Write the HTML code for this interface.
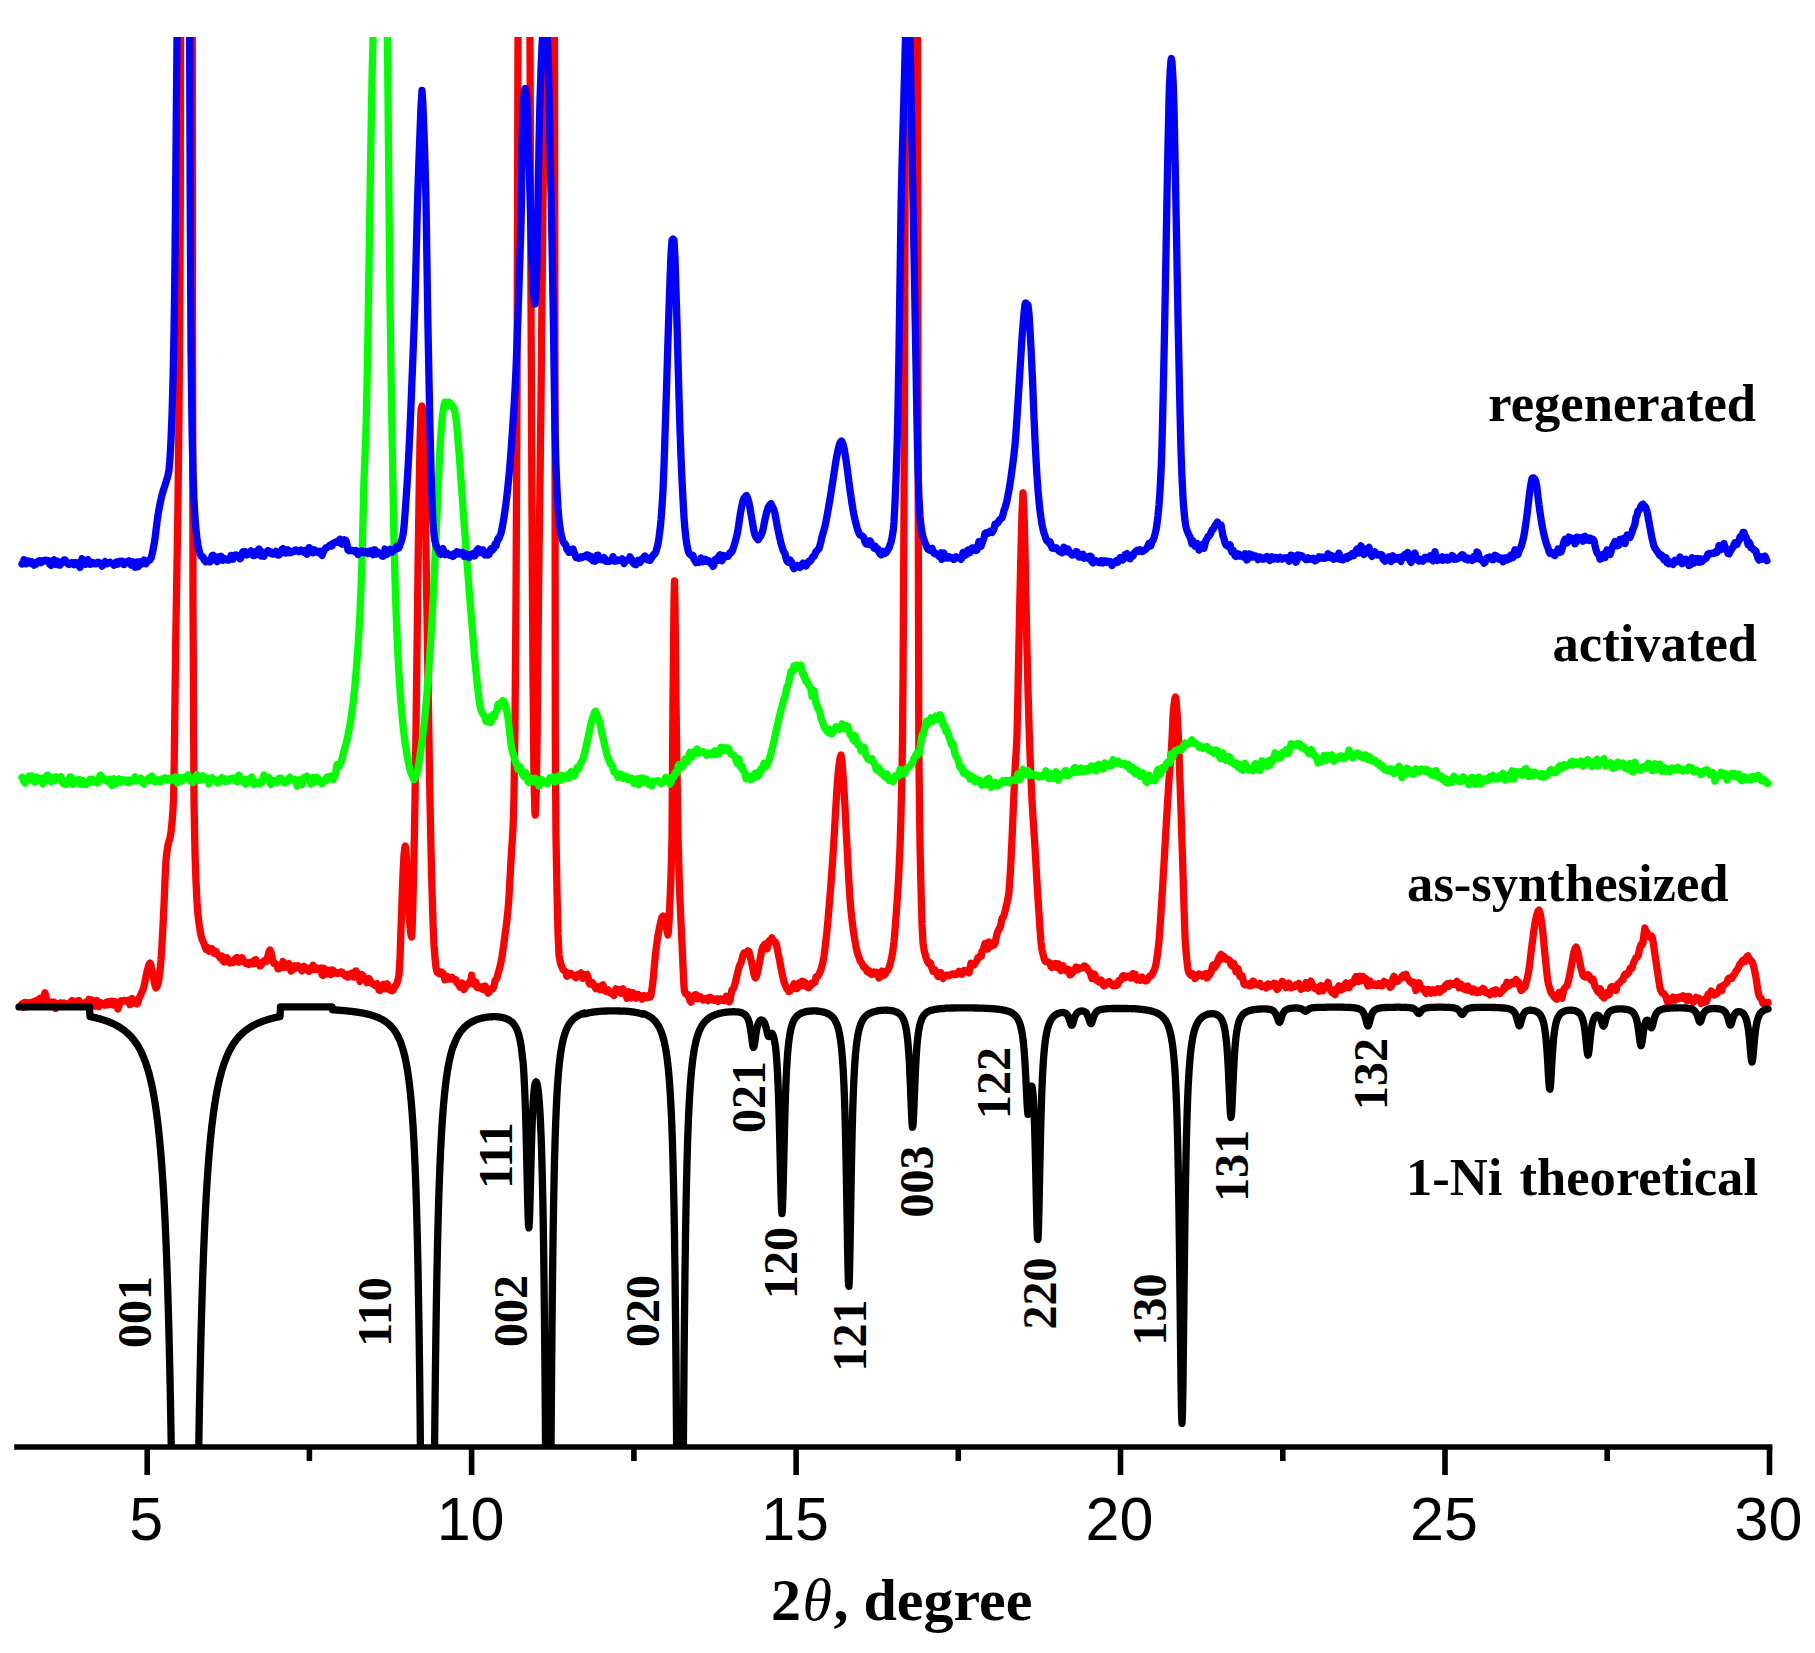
<!DOCTYPE html>
<html><head><meta charset="utf-8"><title>PXRD patterns</title>
<style>html,body{margin:0;padding:0;background:#fff}svg{display:block}
.s{font-family:"Liberation Serif",serif;font-weight:bold;fill:#000}
.a{font-family:"Liberation Sans",sans-serif;fill:#000}
.c{fill:none;stroke-linejoin:round;stroke-linecap:round}
</style></head><body>
<svg width="1815" height="1653" viewBox="0 0 1815 1653">
<rect width="1815" height="1653" fill="#fff"/>
<defs><clipPath id="cp"><rect x="0" y="37" width="1815" height="1410.0"/></clipPath></defs>
<g clip-path="url(#cp)">
<path class="c" stroke="#f00" stroke-width="7.3" d="M22.0 1003.7L23.0 1007.3L24.0 1007.3L25.0 1002.4L26.0 1003.1L27.0 1003.8L28.0 1002.9L29.0 1005.4L30.0 1004.3L31.0 1002.5L32.0 1002.2L33.0 1001.8L34.0 1003.3L35.0 1002.0L36.0 1000.9L37.0 1001.8L38.0 1001.2L39.0 999.6L40.0 998.3L41.0 999.0L42.0 999.1L43.0 1000.8L44.0 996.3L45.0 992.7L46.0 997.4L47.0 1000.8L48.0 1003.1L49.0 1001.6L50.0 1001.8L51.0 1004.0L52.0 1003.7L53.0 1004.2L54.0 1002.1L55.0 1003.6L56.0 1008.4L57.0 1005.5L58.0 1004.4L59.0 1004.9L60.0 1002.9L61.0 1002.9L62.0 1005.6L63.0 1004.9L64.0 1002.9L65.0 1003.3L66.0 1004.5L67.0 1006.4L68.0 1004.9L69.0 1003.7L70.0 1004.9L71.0 1001.5L72.0 1000.6L73.0 1003.0L74.0 1003.6L75.0 1004.2L76.0 1001.3L77.0 1000.9L78.0 1002.8L79.0 1000.6L80.0 1002.3L81.0 1005.4L82.0 1003.7L83.0 1003.8L84.0 1004.2L85.0 1003.0L86.0 1002.0L87.0 1004.1L88.0 1001.8L89.0 999.4L90.0 1004.2L91.0 1001.4L92.0 1000.1L93.0 1002.8L94.0 1004.2L95.0 1006.1L96.0 1004.3L97.0 1000.5L98.0 1003.0L99.0 1006.7L100.0 1004.1L101.0 1002.8L102.0 1004.0L103.0 1004.3L104.0 1004.0L105.0 1005.2L106.0 1002.4L107.0 1001.9L108.0 1004.9L109.0 1003.1L110.0 1004.2L111.0 1001.1L112.0 1001.1L113.0 1005.0L114.0 1001.7L115.0 1001.7L116.0 1002.9L117.0 1006.0L118.0 1009.0L119.0 1005.9L120.0 1002.2L121.0 1000.7L122.0 1001.3L123.0 1001.3L124.0 1000.4L125.0 1000.4L126.0 1001.2L127.0 1001.3L128.0 1000.6L129.0 1000.0L130.0 1004.6L131.0 1003.8L132.0 998.6L133.0 1001.3L134.0 1002.2L135.0 1002.1L136.0 1003.4L137.0 1003.9L138.0 1002.7L139.0 998.0L140.0 996.6L141.0 994.2L142.0 991.8L143.0 990.0L144.0 986.5L145.0 981.6L146.0 976.4L147.0 972.0L148.0 968.1L149.0 964.5L150.0 963.0L151.0 965.2L152.0 970.0L153.0 975.0L154.0 980.2L155.0 985.6L156.0 988.0L157.0 986.8L158.0 984.0L159.0 978.9L160.0 970.5L161.0 960.0L162.0 945.3L163.0 925.8L164.0 905.0L165.0 880.1L166.0 860.0L167.0 851.2L168.0 845.3L168.5 843.0L169.0 841.3L170.0 838.0L171.0 832.1L172.0 823.0L173.0 809.2L173.5 800.0L174.0 779.0L175.0 698.4L175.6 650.0L176.0 623.9L177.0 565.6L178.0 500.7L178.6 450.0L179.0 412.0L180.0 270.7L180.3 200.0L180.6 38.0L181.0 -50.0L182.0 -50.0L183.0 -50.0L184.0 -50.0L185.0 -50.0L186.0 -50.0L186.5 -50.0L187.0 -50.0L188.0 -50.0L189.0 -50.0L190.0 -50.0L191.0 -50.0L192.0 -50.0L192.3 38.0L192.5 300.0L193.0 600.0L194.0 800.0L195.0 853.3L195.7 874.0L196.0 881.5L197.0 902.0L198.0 915.0L199.0 923.2L200.0 930.0L201.0 935.3L202.0 939.4L203.0 941.5L204.0 943.5L205.0 946.4L206.0 949.2L207.0 947.2L208.0 947.8L209.0 951.2L210.0 949.5L211.0 949.1L212.0 948.7L213.0 950.0L214.0 953.0L215.0 951.2L216.0 951.3L217.0 954.2L218.0 955.1L219.0 955.7L220.0 957.8L221.0 956.7L222.0 956.0L223.0 960.7L224.0 961.8L225.0 957.9L226.0 958.1L227.0 957.7L228.0 959.5L228.7 962.2L229.0 962.2L230.0 963.1L231.0 962.4L232.0 962.7L233.0 962.6L234.0 960.5L235.0 958.9L236.0 959.4L237.0 957.5L238.0 960.9L239.0 962.2L240.0 959.6L241.0 960.3L242.0 957.7L243.0 959.6L244.0 962.1L245.0 962.1L246.0 963.4L247.0 962.8L248.0 962.6L249.0 964.3L250.0 963.3L251.0 962.1L252.0 963.4L253.0 963.8L254.0 963.3L255.0 959.8L256.0 959.6L257.0 963.5L258.0 963.1L259.0 963.0L260.0 965.9L261.0 965.4L262.0 963.6L263.0 962.2L264.0 960.8L265.0 961.4L266.0 961.6L267.0 960.0L268.0 955.9L269.0 951.8L270.0 950.0L271.0 952.1L272.0 956.8L273.0 961.6L274.0 963.5L275.0 963.7L276.0 963.9L277.0 965.9L278.0 968.9L279.0 968.7L280.0 966.5L281.0 967.8L282.0 966.4L283.0 961.5L284.0 964.3L285.0 967.3L286.0 966.9L287.0 967.1L288.0 965.1L289.0 963.5L290.0 967.7L291.0 970.9L292.0 968.2L293.0 969.6L294.0 969.2L295.0 965.7L296.0 967.7L297.0 966.9L298.0 965.9L299.0 967.4L300.0 967.6L301.0 969.2L302.0 970.8L303.0 968.0L304.0 966.3L305.0 968.3L306.0 969.3L307.0 968.0L308.0 968.9L309.0 971.3L310.0 969.9L311.0 969.9L312.0 968.6L313.0 965.3L314.0 968.4L315.0 969.6L316.0 967.6L317.0 968.5L318.0 969.0L319.0 970.0L320.0 969.0L321.0 968.0L322.0 974.7L323.0 975.5L324.0 968.3L325.0 969.1L326.0 972.7L327.0 973.9L328.0 973.4L329.0 970.6L330.0 972.5L331.0 974.5L332.0 970.0L333.0 970.1L334.0 972.5L335.0 973.1L336.0 973.0L337.0 972.6L338.0 973.5L339.0 973.3L340.0 973.1L341.0 971.8L342.0 972.0L343.0 973.6L344.0 974.3L345.0 975.8L346.0 975.9L347.0 974.7L348.0 977.2L349.0 976.5L350.0 974.4L351.0 973.6L352.0 973.1L353.0 976.4L354.0 977.0L355.0 976.9L355.8 975.1L356.0 971.0L357.0 973.2L358.0 973.5L359.0 977.2L360.0 981.4L361.0 976.2L362.0 974.6L363.0 976.1L364.0 977.4L365.0 978.7L366.0 980.0L367.0 982.7L368.0 981.7L369.0 978.5L370.0 980.2L371.0 982.2L372.0 983.6L373.0 984.1L374.0 984.2L375.0 985.4L376.0 984.3L377.0 983.6L378.0 985.3L379.0 989.9L380.0 990.4L381.0 986.8L382.0 986.7L383.0 987.2L383.7 984.3L384.0 984.6L385.0 988.7L386.0 987.8L387.0 983.9L388.0 985.1L389.0 989.3L390.0 990.0L391.0 988.8L392.0 990.8L393.0 990.5L394.0 988.0L395.0 986.3L396.0 985.2L397.0 983.1L398.0 979.6L399.0 975.0L400.0 958.5L401.0 928.8L402.0 900.0L403.0 874.2L404.0 855.0L405.0 846.7L405.3 846.0L406.0 851.9L407.0 870.0L408.0 893.7L409.0 915.0L410.0 926.7L411.0 935.0L411.7 937.0L412.0 933.9L413.0 900.0L414.0 856.1L415.0 800.0L416.0 728.8L417.0 650.0L418.0 570.3L419.0 500.0L420.0 442.6L421.0 410.0L422.0 406.0L423.0 410.4L423.5 415.0L424.0 428.9L425.0 488.4L425.5 520.0L426.0 550.1L427.0 615.2L428.0 680.0L429.0 742.6L430.0 800.0L431.0 849.3L432.0 890.0L433.0 922.5L434.0 945.0L435.0 958.0L436.0 967.6L437.0 972.0L438.0 972.9L439.0 973.7L440.0 971.9L441.0 971.9L442.0 973.0L443.0 973.1L444.0 975.5L445.0 979.8L446.0 979.1L447.0 976.2L448.0 978.0L449.0 979.2L450.0 979.0L451.0 977.8L452.0 977.3L453.0 979.2L454.0 979.5L455.0 979.4L456.0 979.8L457.0 983.0L458.0 983.3L459.0 985.1L460.0 987.1L461.0 983.4L462.0 983.1L463.0 986.1L464.0 989.5L465.0 987.3L466.0 985.7L467.0 985.4L468.0 983.4L469.0 982.9L470.0 983.3L471.0 979.5L471.7 975.1L472.0 978.2L473.0 982.1L474.0 984.3L475.0 983.5L476.0 982.1L477.0 987.5L478.0 987.6L479.0 986.5L480.0 987.9L481.0 987.3L482.0 986.9L483.0 989.6L484.0 989.3L485.0 986.1L486.0 987.8L487.0 991.3L488.0 993.1L489.0 992.1L490.0 990.9L491.0 989.1L492.0 988.4L493.0 988.6L494.0 986.4L495.0 980.6L496.0 979.6L497.0 977.9L498.0 973.8L499.0 970.5L500.0 966.5L500.8 963.0L501.0 962.1L502.0 956.6L503.0 950.0L504.0 942.6L505.0 935.0L506.0 927.4L507.0 919.2L508.0 909.5L508.4 905.0L509.0 896.6L510.0 878.7L511.0 860.0L512.0 845.1L513.0 828.4L513.5 816.0L514.0 794.7L514.8 740.0L515.0 722.9L516.0 600.0L517.0 400.0L518.0 38.0L519.0 -50.0L520.0 -50.0L521.0 -50.0L522.0 -50.0L523.0 -50.0L524.0 -50.0L525.0 -50.0L526.0 -50.0L527.0 -50.0L528.0 -50.0L529.0 -50.0L530.0 38.0L531.0 300.0L532.0 514.3L532.5 600.0L533.0 674.9L534.0 780.0L535.0 813.7L535.2 815.0L536.0 799.1L536.5 780.0L537.0 748.6L538.0 648.3L538.5 600.0L539.0 559.2L540.0 482.2L541.0 400.0L542.0 300.1L543.0 200.0L544.0 126.7L545.0 38.0L546.0 -50.0L547.0 -50.0L548.0 -50.0L549.0 -50.0L549.7 -50.0L550.0 -50.0L551.0 -50.0L552.0 -50.0L553.0 -50.0L554.0 -50.0L554.5 38.0L555.0 400.0L555.3 740.0L556.0 838.2L557.0 892.0L558.0 933.4L559.0 955.0L560.0 961.0L561.0 964.7L562.0 967.0L563.0 969.6L564.0 970.4L565.0 971.3L566.0 972.0L566.7 975.8L567.0 976.1L568.0 973.7L569.0 975.2L570.0 973.6L571.0 973.4L572.0 974.3L573.0 974.9L574.0 975.9L575.0 976.8L576.0 977.7L577.0 976.2L578.0 974.5L579.0 974.5L580.0 974.3L581.0 972.9L582.0 975.4L583.0 978.2L584.0 977.5L585.0 975.9L586.0 974.7L587.0 974.3L588.0 977.1L589.0 982.4L590.0 984.2L591.0 984.0L592.0 982.4L593.0 983.2L594.0 985.4L595.0 987.1L596.0 988.7L597.0 987.7L598.0 986.9L599.0 988.6L600.0 989.7L601.0 988.7L602.0 985.3L603.0 984.9L604.0 989.4L605.0 990.9L606.0 991.3L607.0 990.8L608.0 989.8L609.0 991.7L610.0 992.8L611.0 992.4L612.0 993.2L613.0 994.7L614.0 995.4L615.0 991.3L616.0 988.8L617.0 990.8L618.0 991.2L619.0 989.5L620.0 992.1L621.0 993.2L622.0 991.6L622.5 989.7L623.0 988.9L624.0 992.2L625.0 991.8L626.0 993.4L627.0 998.3L628.0 996.2L629.0 991.7L630.0 995.7L631.0 997.9L632.0 995.2L633.0 992.7L634.0 994.4L635.0 996.7L636.0 998.1L637.0 996.7L638.0 994.4L639.0 995.4L640.0 995.4L641.0 997.5L642.0 999.2L643.0 996.9L644.0 995.6L645.0 996.3L646.0 997.8L647.0 997.7L648.0 995.8L649.0 996.1L650.0 996.9L650.3 997.0L651.0 995.2L652.0 988.7L652.5 985.0L653.0 980.8L654.0 969.9L655.0 958.7L655.4 955.0L656.0 950.1L657.0 942.3L658.0 935.5L659.0 930.0L660.0 925.2L661.0 920.7L662.0 917.3L663.0 916.0L664.0 917.5L665.0 921.0L666.0 925.0L667.0 931.0L668.0 935.0L669.0 923.1L670.0 900.0L671.0 876.3L671.9 841.0L672.0 834.2L673.0 700.0L674.0 600.8L674.5 581.0L675.0 603.9L676.0 700.0L677.0 771.5L678.0 831.8L678.2 841.0L679.0 871.1L680.0 900.0L681.0 922.9L682.0 943.0L683.0 966.4L684.0 986.6L684.5 991.0L685.0 992.5L686.0 994.4L687.0 994.5L688.0 994.7L689.0 997.0L690.0 1000.7L691.0 1002.1L692.0 999.0L693.0 998.3L693.4 999.0L694.0 998.0L695.0 994.6L696.0 994.6L697.0 997.4L698.0 998.7L699.0 998.1L700.0 996.6L701.0 997.4L702.0 998.8L703.0 1000.1L704.0 999.7L705.0 999.6L706.0 998.6L707.0 999.2L708.0 1000.6L709.0 997.5L710.0 997.3L711.0 999.4L712.0 998.3L713.0 999.2L714.0 1000.3L715.0 999.9L716.0 999.0L717.0 998.8L718.0 1001.3L719.0 1000.3L720.0 999.0L721.0 998.8L722.0 999.6L723.0 1000.4L724.0 1000.7L725.0 1000.6L726.0 998.0L726.4 996.2L727.0 997.3L728.0 999.1L729.0 1001.8L730.0 1000.7L731.0 994.5L732.0 989.9L733.0 989.1L734.0 987.4L735.0 983.7L736.0 979.7L737.0 975.4L738.0 971.4L739.0 967.3L740.0 964.4L741.0 962.9L742.0 959.1L743.0 955.1L744.0 953.0L745.0 954.2L746.0 953.2L747.0 951.9L748.0 950.9L749.0 951.6L750.0 955.5L751.0 960.0L751.5 962.0L752.0 964.1L753.0 969.2L754.0 974.2L755.0 977.5L755.5 978.0L756.0 977.5L757.0 974.4L758.0 969.7L759.0 965.0L760.0 960.0L761.0 954.2L762.0 949.2L763.0 946.5L764.0 945.3L765.0 944.0L766.0 947.2L767.0 948.8L768.0 944.6L769.0 941.0L770.0 940.3L771.0 940.0L772.0 937.9L773.0 940.4L774.0 942.2L775.0 941.7L776.0 943.3L777.0 947.5L778.0 952.6L778.5 955.0L779.0 957.3L780.0 962.6L781.0 968.0L782.0 973.0L783.0 977.6L784.0 981.8L785.0 984.6L786.0 986.9L787.0 989.0L788.0 988.3L788.5 988.8L789.0 991.6L790.0 991.1L791.0 988.1L792.0 988.0L793.0 986.9L794.0 983.8L795.0 986.9L796.0 988.7L797.0 988.6L798.0 985.2L799.0 983.0L800.0 984.1L801.0 985.9L802.0 985.6L802.4 981.1L803.0 982.0L804.0 983.3L805.0 982.7L806.0 984.5L807.0 986.9L808.0 987.6L809.0 987.7L810.0 985.6L811.0 983.6L812.0 984.5L813.0 982.8L814.0 982.6L815.0 982.2L816.0 976.9L817.0 976.7L818.0 976.1L819.0 974.2L820.0 972.0L821.0 969.4L822.0 965.8L822.7 963.0L823.0 961.8L824.0 956.0L825.0 948.3L826.0 939.5L826.5 935.0L827.0 930.3L828.0 919.8L829.0 908.1L830.0 895.7L830.3 892.0L831.0 883.1L832.0 869.6L833.0 855.0L834.0 838.4L835.0 820.9L835.3 816.0L836.0 804.3L837.0 787.7L838.0 775.0L839.0 765.7L840.0 758.1L841.0 755.0L842.0 760.9L843.0 774.5L844.0 790.0L845.0 807.4L846.0 827.6L846.7 841.0L847.0 846.4L848.0 865.1L849.0 883.1L850.0 898.7L850.5 905.0L851.0 910.4L852.0 920.0L853.0 928.1L854.0 935.0L855.0 941.1L856.0 946.7L857.0 951.4L858.0 955.0L859.0 957.4L860.0 960.4L861.0 961.9L862.0 963.4L863.0 965.9L864.0 967.4L865.0 967.2L866.0 968.6L867.0 971.4L868.0 972.2L869.0 970.7L870.0 972.5L870.8 973.8L871.0 973.5L872.0 974.4L873.0 972.9L874.0 971.9L875.0 972.4L876.0 974.2L877.0 972.4L878.0 973.3L879.0 978.0L880.0 976.9L881.0 973.4L882.0 971.1L883.0 972.6L883.5 975.4L884.0 974.9L885.0 974.7L886.0 972.7L887.0 970.7L888.0 970.0L889.0 967.9L890.0 964.7L891.0 960.7L892.0 955.7L893.0 950.0L894.0 941.6L895.0 929.9L896.0 917.0L897.0 903.6L898.0 888.3L899.0 870.0L900.0 846.9L901.0 816.0L902.0 772.8L902.5 740.0L903.0 681.0L903.5 600.0L904.0 511.6L904.5 400.0L905.0 225.9L905.5 38.0L906.0 -50.0L907.0 -50.0L908.0 -50.0L909.0 -50.0L910.0 -50.0L911.0 -50.0L911.5 -50.0L912.0 -50.0L913.0 -50.0L914.0 -50.0L915.0 -50.0L916.0 -50.0L917.0 -50.0L917.5 38.0L918.0 400.0L918.8 740.0L919.0 765.5L920.0 843.8L920.5 867.0L921.0 888.5L922.0 923.9L923.0 943.0L924.0 949.7L925.0 954.0L926.0 957.6L927.0 960.3L928.0 962.4L929.0 963.7L930.0 962.5L930.7 963.7L931.0 965.3L932.0 968.4L933.0 971.2L934.0 970.5L935.0 970.0L936.0 971.9L937.0 973.7L938.0 976.6L939.0 976.5L940.0 976.7L940.8 975.5L941.0 972.7L942.0 977.1L943.0 978.5L944.0 976.2L945.0 976.4L946.0 975.9L947.0 975.0L948.0 975.5L949.0 975.6L950.0 975.6L951.0 974.3L952.0 974.2L953.0 973.8L954.0 973.9L955.0 974.5L956.0 973.9L957.0 974.3L958.0 972.7L959.0 971.3L960.0 971.8L961.0 972.9L962.0 974.1L963.0 973.1L964.0 970.4L965.0 970.4L966.0 970.9L967.0 971.0L968.0 972.0L969.0 972.9L970.0 967.8L971.0 963.3L972.0 964.4L973.0 965.1L974.0 965.1L975.0 963.0L976.0 962.1L977.0 960.3L978.0 957.6L979.0 957.8L980.0 955.7L981.0 956.2L981.4 956.0L982.0 951.2L983.0 950.6L984.0 947.0L985.0 943.4L986.0 943.8L987.0 944.8L987.7 949.1L988.0 947.6L989.0 942.0L990.0 943.0L991.0 946.3L992.0 944.3L993.0 942.9L994.0 945.1L995.0 943.6L996.0 938.4L996.6 935.7L997.0 933.7L998.0 930.9L999.0 928.9L1000.0 928.1L1001.0 923.8L1002.0 918.5L1003.0 917.4L1004.0 915.2L1005.0 911.4L1006.0 907.4L1007.0 903.0L1008.0 898.4L1009.0 892.0L1010.0 878.6L1011.0 860.0L1012.0 839.0L1013.0 816.0L1014.0 792.2L1015.0 770.0L1016.0 754.6L1016.8 740.0L1017.0 734.4L1018.0 690.7L1019.0 640.0L1020.0 592.4L1021.0 550.0L1022.0 512.8L1023.0 493.0L1024.0 512.4L1025.0 550.0L1026.0 598.5L1027.0 650.0L1028.0 689.9L1029.0 724.8L1029.5 740.0L1030.0 753.9L1031.0 778.9L1032.0 800.0L1033.0 816.9L1034.0 831.7L1034.6 841.0L1035.0 847.6L1036.0 865.1L1037.0 882.6L1038.0 899.0L1038.4 905.0L1039.0 913.9L1040.0 929.1L1041.0 942.1L1042.0 950.0L1043.0 954.1L1044.0 958.2L1045.0 961.0L1046.0 961.7L1047.0 961.7L1048.0 961.8L1049.0 962.5L1050.0 963.0L1051.0 966.7L1052.0 967.4L1053.0 964.3L1054.0 964.9L1055.0 963.6L1056.0 964.4L1057.0 967.5L1057.4 964.4L1058.0 963.7L1059.0 964.3L1060.0 968.1L1061.0 970.7L1062.0 967.0L1063.0 965.8L1064.0 968.0L1065.0 968.7L1066.0 969.4L1067.0 971.2L1068.0 969.3L1069.0 970.1L1070.0 974.8L1071.0 974.7L1072.0 973.3L1072.6 972.1L1073.0 970.5L1074.0 971.4L1075.0 970.4L1076.0 967.1L1077.0 968.8L1078.0 969.5L1079.0 967.9L1080.0 968.4L1081.0 968.1L1082.0 968.1L1083.0 967.7L1084.0 966.0L1085.0 966.2L1086.0 966.9L1087.0 968.0L1088.0 969.8L1089.0 971.2L1090.0 972.3L1091.0 975.6L1092.0 978.5L1093.0 976.4L1094.0 974.1L1095.0 974.8L1096.0 979.9L1097.0 980.6L1098.0 980.8L1099.0 982.0L1100.0 980.6L1101.0 980.0L1102.0 981.3L1103.0 984.7L1104.0 985.8L1105.0 985.4L1106.0 983.1L1107.0 982.8L1108.0 982.8L1109.0 981.6L1110.0 983.8L1110.6 983.5L1111.0 983.7L1112.0 984.7L1113.0 985.8L1114.0 985.8L1115.0 984.2L1116.0 985.5L1117.0 985.2L1118.0 984.3L1119.0 980.5L1120.0 980.4L1121.0 980.1L1122.0 977.3L1123.0 975.6L1124.0 975.6L1125.0 977.7L1126.0 977.3L1127.0 976.5L1128.0 976.2L1129.0 976.2L1130.0 975.9L1131.0 977.9L1132.0 974.9L1133.0 973.6L1133.4 976.4L1134.0 974.3L1135.0 974.1L1136.0 978.5L1137.0 980.0L1138.0 977.6L1139.0 978.5L1140.0 980.3L1141.0 977.8L1142.0 977.2L1143.0 979.3L1144.0 980.1L1145.0 980.9L1146.0 980.9L1147.0 980.2L1148.0 978.7L1149.0 977.0L1150.0 975.8L1151.0 975.8L1152.0 974.8L1153.0 972.4L1154.0 970.7L1155.0 968.0L1156.0 963.8L1157.0 957.7L1158.0 950.0L1158.8 943.0L1159.0 941.0L1160.0 928.3L1161.0 912.8L1161.5 905.0L1162.0 897.2L1163.0 880.6L1163.8 867.0L1164.0 863.6L1165.0 846.1L1166.0 828.5L1166.5 820.0L1167.0 811.6L1168.0 795.1L1169.0 780.0L1170.0 767.6L1171.0 755.7L1171.4 750.0L1172.0 738.6L1173.0 717.1L1173.5 710.0L1174.0 705.3L1175.0 698.1L1175.5 697.0L1176.0 699.1L1177.0 712.1L1177.5 720.0L1178.0 729.1L1179.0 753.4L1180.0 781.6L1180.3 790.0L1181.0 810.5L1182.0 842.1L1182.8 867.0L1183.0 873.2L1184.0 907.1L1185.0 935.9L1185.4 943.0L1186.0 950.7L1187.0 961.7L1188.0 969.5L1189.0 973.0L1190.0 974.3L1191.0 975.6L1192.0 975.7L1193.0 973.9L1194.0 975.5L1195.0 978.5L1196.0 977.5L1196.8 976.6L1197.0 976.5L1198.0 976.0L1199.0 974.0L1200.0 974.4L1201.0 975.7L1202.0 976.1L1203.0 975.9L1204.0 975.5L1205.0 973.9L1206.0 973.7L1207.0 977.9L1208.0 976.6L1209.0 974.0L1209.4 975.2L1210.0 974.3L1211.0 972.3L1212.0 968.1L1213.0 964.9L1214.0 967.6L1215.0 967.5L1216.0 963.9L1217.0 964.3L1218.0 959.8L1219.0 957.3L1219.6 960.5L1220.0 956.2L1221.0 954.4L1222.0 957.8L1223.0 957.9L1224.0 956.3L1225.0 958.4L1226.0 959.4L1227.0 959.0L1228.0 959.4L1229.0 959.8L1230.0 961.1L1231.0 964.9L1232.0 966.0L1233.0 962.9L1234.0 963.9L1235.0 966.5L1236.0 971.9L1237.0 970.7L1238.0 968.5L1239.0 973.0L1240.0 976.6L1241.0 977.2L1242.0 975.6L1243.0 979.6L1244.0 984.0L1245.0 984.8L1246.0 984.8L1247.0 984.4L1248.0 985.1L1249.0 985.6L1250.0 983.6L1251.0 985.7L1252.0 985.3L1253.0 981.1L1254.0 981.8L1255.0 984.0L1256.0 984.6L1257.0 984.4L1258.0 985.1L1259.0 985.1L1260.0 983.3L1261.0 985.8L1262.0 986.8L1263.0 986.3L1264.0 986.8L1265.0 986.0L1266.0 987.9L1267.0 984.6L1268.0 984.0L1269.0 986.7L1270.0 986.3L1271.0 985.6L1272.0 984.4L1273.0 984.8L1274.0 983.2L1275.0 983.3L1276.0 987.5L1277.0 989.4L1278.0 988.8L1279.0 986.7L1280.0 984.4L1281.0 984.1L1282.0 981.4L1283.0 981.7L1284.0 983.7L1285.0 985.3L1286.0 987.7L1287.0 987.1L1288.0 984.6L1289.0 983.2L1290.0 986.4L1291.0 987.8L1292.0 987.4L1293.0 986.4L1294.0 986.4L1295.0 986.6L1296.0 984.7L1297.0 985.6L1298.0 985.4L1299.0 983.4L1300.0 986.5L1301.0 989.3L1302.0 986.7L1303.0 985.8L1304.0 988.2L1305.0 987.6L1306.0 982.6L1307.0 986.7L1308.0 988.2L1309.0 984.4L1310.0 983.5L1311.0 981.1L1312.0 984.8L1313.0 986.2L1314.0 986.8L1315.0 988.5L1316.0 987.5L1317.0 988.7L1318.0 990.0L1319.0 991.2L1320.0 988.4L1321.0 985.5L1322.0 988.5L1323.0 990.8L1324.0 989.1L1325.0 986.3L1326.0 987.2L1327.0 984.8L1328.0 982.4L1329.0 988.4L1330.0 989.0L1331.0 990.4L1332.0 992.5L1333.0 990.0L1334.0 993.7L1335.0 994.7L1336.0 990.4L1337.0 988.3L1338.0 987.9L1339.0 985.7L1340.0 987.2L1341.0 990.1L1342.0 988.3L1343.0 989.1L1344.0 988.7L1345.0 984.3L1346.0 982.9L1347.0 984.5L1348.0 985.7L1349.0 987.6L1350.0 985.7L1351.0 982.8L1352.0 984.0L1353.0 983.3L1354.0 981.5L1355.0 978.3L1356.0 976.7L1357.0 981.0L1358.0 981.5L1359.0 978.1L1359.6 976.2L1360.0 976.6L1361.0 980.9L1362.0 980.0L1363.0 976.6L1364.0 977.9L1365.0 979.1L1366.0 978.8L1367.0 983.3L1368.0 986.1L1369.0 981.6L1370.0 981.0L1371.0 984.9L1372.0 985.0L1373.0 985.2L1374.0 984.3L1375.0 983.9L1376.0 985.5L1377.0 985.5L1378.0 985.4L1379.0 983.6L1380.0 984.2L1381.0 985.7L1382.0 985.9L1383.0 983.2L1384.0 981.4L1385.0 982.9L1386.0 983.0L1387.0 982.6L1388.0 983.0L1389.0 985.2L1390.0 987.3L1391.0 986.9L1392.0 984.9L1393.0 978.4L1394.0 976.4L1395.0 981.6L1396.0 980.9L1397.0 981.3L1398.0 981.1L1399.0 979.1L1400.0 978.8L1401.0 978.4L1402.0 976.5L1403.0 975.4L1404.0 976.1L1405.0 975.1L1406.0 974.3L1407.0 977.8L1408.0 979.2L1409.0 979.6L1410.0 981.8L1411.0 982.3L1412.0 983.3L1413.0 983.3L1414.0 982.3L1415.0 986.7L1416.0 990.5L1417.0 988.7L1418.0 984.6L1419.0 982.8L1420.0 985.5L1421.0 987.3L1422.0 987.9L1423.0 989.1L1424.0 990.7L1425.0 991.5L1426.0 993.4L1427.0 991.5L1428.0 989.4L1429.0 989.6L1430.0 991.9L1431.0 993.2L1432.0 991.5L1433.0 989.9L1434.0 991.0L1435.0 992.6L1436.0 992.1L1437.0 991.3L1438.0 988.7L1439.0 990.6L1440.0 992.2L1441.0 990.2L1442.0 988.6L1443.0 989.6L1444.0 989.0L1445.0 985.8L1446.0 985.2L1447.0 983.8L1448.0 985.7L1449.0 986.2L1450.0 983.2L1451.0 983.4L1452.0 984.2L1453.0 984.3L1454.0 983.9L1455.0 984.2L1456.0 982.8L1457.0 981.3L1458.0 984.9L1459.0 987.7L1460.0 984.5L1461.0 984.2L1462.0 987.1L1463.0 988.6L1464.0 987.6L1465.0 986.9L1466.0 990.0L1467.0 987.9L1468.0 986.1L1469.0 989.8L1470.0 990.7L1471.0 990.9L1472.0 991.8L1473.0 988.9L1474.0 989.1L1475.0 991.9L1476.0 991.3L1477.0 992.6L1478.0 991.8L1479.0 990.5L1480.0 992.2L1481.0 991.4L1482.0 990.0L1483.0 988.4L1484.0 988.9L1485.0 991.6L1486.0 992.6L1486.5 992.7L1487.0 993.2L1488.0 992.7L1489.0 993.2L1490.0 994.9L1491.0 992.3L1492.0 991.2L1493.0 990.7L1494.0 993.1L1495.0 993.8L1496.0 989.8L1497.0 991.9L1498.0 992.7L1499.0 992.3L1500.0 993.3L1501.0 991.1L1502.0 991.5L1503.0 990.5L1504.0 986.9L1505.0 988.6L1506.0 985.1L1507.0 982.3L1508.0 984.6L1509.0 985.8L1510.0 984.3L1511.0 983.5L1512.0 982.2L1513.0 981.7L1514.0 983.8L1515.0 981.3L1516.0 979.7L1517.0 980.6L1518.0 981.7L1519.0 982.9L1520.0 987.2L1521.0 990.3L1522.0 990.1L1523.0 988.6L1524.0 987.9L1525.0 986.9L1526.0 983.3L1527.0 979.3L1528.0 975.0L1529.0 969.2L1530.0 961.4L1531.0 952.9L1532.0 945.0L1533.0 937.5L1534.0 929.8L1535.0 923.0L1536.0 918.0L1537.0 914.3L1538.0 911.2L1539.0 910.0L1540.0 912.4L1541.0 918.1L1542.0 925.0L1543.0 933.7L1544.0 944.6L1545.0 955.0L1546.0 964.8L1547.0 974.4L1548.0 981.9L1548.4 983.8L1549.0 986.0L1550.0 989.3L1551.0 992.4L1552.0 993.8L1553.0 994.9L1554.0 996.8L1555.0 997.9L1556.0 998.9L1557.0 999.2L1558.0 995.6L1559.0 992.6L1560.0 992.9L1561.0 996.8L1562.0 998.2L1563.0 993.4L1564.0 988.8L1565.0 987.6L1566.0 986.7L1567.0 985.8L1567.6 984.0L1568.0 982.6L1569.0 978.4L1570.0 973.2L1571.0 968.0L1572.0 962.4L1573.0 956.5L1574.0 952.0L1575.0 948.7L1576.0 947.0L1577.0 949.1L1578.0 953.0L1579.0 957.7L1580.0 963.3L1581.0 968.0L1582.0 971.8L1583.0 975.2L1584.0 976.5L1585.0 977.0L1586.0 976.6L1587.0 975.7L1588.0 974.7L1589.0 975.5L1589.7 978.2L1590.0 978.8L1591.0 979.7L1592.0 980.9L1593.0 979.0L1594.0 982.8L1595.0 986.6L1596.0 987.9L1597.0 990.5L1598.0 991.7L1599.0 992.7L1600.0 988.6L1601.0 990.4L1602.0 996.1L1603.0 996.7L1604.0 997.9L1604.5 997.4L1605.0 997.0L1606.0 994.1L1607.0 992.7L1608.0 995.0L1609.0 994.9L1610.0 991.6L1611.0 987.0L1612.0 986.5L1613.0 988.3L1614.0 988.7L1615.0 990.0L1616.0 990.4L1617.0 986.0L1618.0 984.0L1619.0 983.4L1620.0 982.5L1621.0 981.1L1622.0 980.6L1623.0 979.7L1624.0 976.1L1625.0 974.3L1626.0 974.7L1627.0 974.7L1628.0 972.7L1629.0 972.0L1630.0 968.4L1631.0 967.8L1632.0 968.2L1633.0 964.4L1634.0 961.9L1635.0 959.8L1636.0 957.6L1637.0 957.6L1638.0 956.1L1639.0 951.6L1640.0 947.2L1641.0 944.5L1642.0 945.2L1643.0 942.4L1644.0 933.8L1645.0 928.0L1645.7 931.4L1646.0 932.8L1647.0 932.3L1648.0 935.3L1649.0 935.9L1650.0 937.2L1651.0 936.4L1651.7 936.0L1652.0 936.5L1653.0 941.0L1654.0 948.0L1655.0 955.0L1656.0 961.5L1657.0 968.4L1658.0 975.0L1659.0 981.9L1660.0 988.0L1660.5 989.7L1661.0 990.5L1662.0 992.8L1663.0 993.5L1664.0 993.8L1665.0 995.1L1666.0 996.8L1667.0 1000.5L1668.0 1003.2L1669.0 1003.2L1670.0 1001.8L1671.0 1000.9L1672.0 998.5L1673.0 997.1L1674.0 1000.0L1675.0 1000.3L1676.0 997.6L1677.0 997.6L1678.0 998.8L1679.0 998.2L1680.0 997.0L1681.0 997.5L1682.0 998.0L1683.0 995.8L1684.0 996.0L1685.0 997.9L1686.0 999.9L1687.0 1000.8L1688.0 996.4L1689.0 996.3L1690.0 999.8L1691.0 999.1L1692.0 1000.4L1693.0 1002.3L1694.0 1001.4L1695.0 999.0L1696.0 997.4L1697.0 998.0L1698.0 999.5L1699.0 998.3L1700.0 1000.3L1701.0 1003.5L1701.8 1002.3L1702.0 1002.8L1703.0 1002.8L1704.0 999.3L1705.0 998.9L1706.0 1001.9L1707.0 999.8L1708.0 994.5L1709.0 995.6L1710.0 994.4L1711.0 990.9L1712.0 993.3L1713.0 993.6L1714.0 995.0L1715.0 994.9L1716.0 992.7L1717.0 993.6L1718.0 992.1L1719.0 990.5L1720.0 987.1L1721.0 988.5L1722.0 990.5L1722.5 986.8L1723.0 985.3L1724.0 985.2L1725.0 984.4L1726.0 983.5L1727.0 982.5L1728.0 979.2L1729.0 978.0L1730.0 977.8L1731.0 978.3L1732.0 978.4L1733.0 975.8L1734.0 974.7L1735.0 973.1L1736.0 971.1L1737.0 970.0L1738.0 968.8L1739.0 966.2L1740.0 963.8L1741.0 963.7L1742.0 961.3L1743.0 960.3L1744.0 960.9L1745.0 961.5L1746.0 959.7L1747.0 956.4L1748.0 955.8L1749.0 958.9L1750.0 960.6L1751.0 960.5L1752.0 961.8L1753.0 964.0L1754.0 967.9L1755.0 972.6L1755.5 975.0L1756.0 977.7L1757.0 984.5L1758.0 991.3L1759.0 995.6L1760.0 997.4L1761.0 998.3L1762.0 1000.4L1763.0 1003.6L1764.0 1003.9L1765.0 1002.4L1766.0 1003.4L1767.0 1002.8L1768.0 1002.3"/>
<path class="c" stroke="#0f0" stroke-width="7.3" d="M22.0 777.4L23.0 778.5L24.0 781.7L25.0 783.0L26.0 781.8L27.0 778.7L28.0 777.9L29.0 776.2L30.0 778.5L31.0 779.2L32.0 776.0L33.0 777.4L34.0 781.4L35.0 782.1L36.0 778.4L37.0 777.1L38.0 779.5L39.0 780.4L40.0 778.4L41.0 778.3L42.0 780.6L43.0 783.9L44.0 781.0L45.0 777.2L46.0 777.9L47.0 775.2L48.0 775.1L49.0 777.2L50.0 780.3L51.0 781.6L52.0 777.6L53.0 778.8L54.0 780.7L55.0 777.2L56.0 776.8L57.0 778.6L58.0 778.2L59.0 779.1L60.0 777.1L61.0 776.7L62.0 781.6L63.0 783.3L64.0 783.4L65.0 783.9L66.0 784.4L67.0 781.1L68.0 780.2L69.0 779.1L70.0 777.0L71.0 776.9L72.0 779.4L73.0 784.3L74.0 782.4L75.0 783.1L76.0 782.4L77.0 780.0L78.0 781.3L79.0 779.5L80.0 779.9L81.0 784.4L82.0 782.2L83.0 780.7L84.0 782.0L85.0 783.3L86.0 784.3L87.0 782.7L88.0 782.9L89.0 782.3L90.0 779.3L91.0 781.0L92.0 781.0L93.0 779.3L94.0 782.3L95.0 780.7L96.0 780.0L97.0 782.9L98.0 782.7L99.0 779.6L100.0 775.4L101.0 775.2L102.0 778.7L103.0 779.4L104.0 778.8L105.0 780.1L106.0 780.7L107.0 780.0L108.0 781.8L109.0 780.7L110.0 779.2L111.0 783.7L112.0 785.4L113.0 780.3L114.0 778.9L115.0 781.6L116.0 783.5L117.0 782.9L118.0 780.3L119.0 778.9L120.0 780.7L121.0 782.2L122.0 780.5L123.0 779.7L124.0 779.8L125.0 781.1L126.0 780.7L127.0 780.3L128.0 782.6L129.0 782.6L130.0 780.1L131.0 781.3L132.0 781.5L133.0 780.1L134.0 780.0L135.0 776.7L136.0 778.2L137.0 781.1L138.0 780.7L139.0 780.6L140.0 779.7L141.0 778.2L142.0 778.9L143.0 782.8L144.0 784.2L145.0 780.6L146.0 780.2L147.0 780.2L148.0 778.7L149.0 780.6L150.0 780.5L151.0 776.7L152.0 776.1L153.0 778.7L154.0 780.2L155.0 781.9L156.0 780.6L157.0 779.8L158.0 781.5L159.0 780.1L160.0 780.7L161.0 781.6L162.0 779.1L163.0 779.9L164.0 779.4L165.0 777.8L166.0 779.6L167.0 780.1L168.0 779.0L169.0 778.3L170.0 779.2L171.0 780.7L172.0 779.7L173.0 778.3L174.0 779.1L175.0 777.0L176.0 781.3L177.0 783.1L178.0 776.9L179.0 779.1L180.0 779.7L181.0 778.2L182.0 781.0L183.0 779.5L184.0 777.5L185.0 777.7L186.0 778.1L187.0 776.5L188.0 774.8L189.0 777.0L190.0 780.4L191.0 781.5L192.0 782.5L193.0 782.6L194.0 779.3L195.0 778.1L196.0 775.8L197.0 774.6L198.0 776.1L199.0 777.9L200.0 780.4L201.0 779.1L202.0 777.3L203.0 775.8L204.0 776.5L205.0 779.2L206.0 780.0L207.0 778.5L208.0 780.8L209.0 783.7L210.0 780.6L211.0 778.1L212.0 777.8L213.0 778.8L214.0 779.2L215.0 779.7L216.0 780.9L217.0 782.2L218.0 782.8L219.0 780.6L220.0 779.5L221.0 779.1L222.0 777.6L223.0 781.0L224.0 781.2L225.0 781.3L226.0 781.5L227.0 778.9L228.0 781.1L229.0 780.7L230.0 779.7L231.0 779.3L232.0 778.1L233.0 778.2L234.0 777.9L235.0 780.6L236.0 781.3L237.0 781.5L238.0 777.7L239.0 775.2L240.0 780.0L241.0 779.6L242.0 780.4L243.0 781.8L244.0 779.8L245.0 779.5L246.0 784.1L247.0 783.8L248.0 780.1L249.0 779.1L250.0 778.8L251.0 777.6L252.0 777.1L253.0 782.7L254.0 784.5L255.0 781.9L256.0 781.9L257.0 783.8L258.0 783.0L259.0 783.3L260.0 784.0L261.0 781.2L262.0 782.2L263.0 778.5L264.0 775.1L265.0 779.0L266.0 778.5L267.0 777.9L268.0 778.3L269.0 777.6L270.0 782.6L271.0 784.5L272.0 780.4L273.0 781.4L274.0 781.2L275.0 780.5L276.0 781.4L277.0 782.6L278.0 779.9L279.0 778.7L280.0 781.0L281.0 778.1L282.0 779.6L283.0 780.0L284.0 780.8L285.0 782.9L286.0 781.6L287.0 780.9L288.0 781.3L289.0 778.4L290.0 777.2L291.0 779.0L292.0 779.3L293.0 780.2L294.0 780.7L295.0 779.6L296.0 781.4L297.0 786.1L298.0 783.1L299.0 779.7L300.0 780.4L301.0 782.3L302.0 784.7L303.0 781.1L304.0 777.4L305.0 777.7L306.0 777.0L307.0 776.2L308.0 778.4L309.0 779.2L310.0 780.9L311.0 784.1L312.0 780.3L313.0 777.5L314.0 778.2L315.0 781.9L316.0 781.6L317.0 777.3L318.0 778.5L319.0 781.4L320.0 780.5L321.0 782.4L322.0 783.7L323.0 782.0L324.0 780.4L325.0 779.7L326.0 780.6L327.0 777.0L328.0 777.2L329.0 777.4L330.0 776.3L331.0 776.0L332.0 778.1L333.0 779.6L334.0 776.6L335.0 775.9L336.0 771.1L337.0 764.6L338.0 764.2L339.0 766.7L340.0 764.9L341.0 761.7L342.0 759.3L343.0 754.4L344.0 751.1L345.0 747.8L346.0 743.9L347.0 739.6L348.0 735.0L349.0 730.0L350.0 724.5L351.0 718.4L352.0 711.6L353.0 704.0L354.0 695.1L355.0 684.5L356.0 672.7L357.0 660.0L358.0 646.4L359.0 630.8L359.6 620.0L360.0 612.0L361.0 588.5L362.0 560.0L363.0 519.9L364.0 480.0L365.0 455.6L366.0 430.0L367.0 385.8L368.0 330.0L369.0 266.5L370.0 200.0L371.0 136.5L372.0 80.0L373.0 38.0L374.0 -36.0L375.0 -50.0L376.0 -50.0L377.0 -50.0L378.0 -50.0L379.0 -50.0L380.0 -50.0L381.0 -50.0L382.0 -50.0L383.0 -50.0L384.0 -50.0L385.0 -50.0L386.0 -50.0L387.0 -1.5L387.4 38.0L388.0 98.4L388.5 150.0L389.0 202.5L390.0 300.0L391.0 370.0L392.0 430.0L393.0 489.4L394.0 540.0L395.0 578.2L396.0 609.5L396.4 620.0L397.0 634.4L398.0 656.0L399.0 674.4L400.0 690.0L401.0 703.3L402.0 715.0L403.0 725.2L404.0 734.0L405.0 741.7L406.0 748.5L407.0 754.6L408.0 760.0L409.0 765.1L410.0 769.7L411.0 773.1L412.0 775.0L413.0 777.9L414.0 779.6L415.0 778.5L416.0 775.4L417.0 773.0L418.0 768.7L419.0 762.0L420.0 755.0L421.0 748.3L422.0 741.2L423.0 733.6L424.0 725.2L424.4 721.6L425.0 715.8L426.0 704.8L427.0 692.8L428.0 680.0L429.0 666.5L430.0 652.1L431.0 636.6L432.0 620.0L433.0 601.6L434.0 581.3L435.0 560.0L436.0 537.1L437.0 512.9L438.0 490.0L439.0 468.1L440.0 448.1L440.5 440.0L441.0 433.0L442.0 420.9L443.0 412.0L444.0 405.3L445.0 402.0L446.0 403.0L447.0 403.3L448.0 404.2L448.5 406.0L449.0 402.2L450.0 402.9L451.0 404.6L452.0 405.1L453.0 406.5L454.0 408.7L455.0 412.0L456.0 418.5L457.0 428.7L458.0 440.0L459.0 452.0L460.0 465.7L461.0 480.0L462.0 494.0L463.0 507.7L464.0 521.4L465.0 535.0L466.0 548.5L467.0 562.0L468.0 575.2L468.6 583.0L469.0 588.1L470.0 600.6L471.0 612.9L472.0 625.0L473.0 637.4L474.0 649.9L475.0 661.7L476.0 672.0L477.0 681.4L478.0 690.6L479.0 698.9L480.0 705.6L481.0 710.0L482.0 712.4L483.0 714.2L484.0 715.9L485.0 717.9L486.0 721.1L487.0 721.7L488.0 720.9L489.0 717.3L490.0 718.9L491.0 722.5L492.0 717.6L493.0 714.5L494.0 717.0L495.0 713.4L496.0 712.0L497.0 710.7L498.0 704.4L499.0 705.4L500.0 706.4L501.0 702.4L502.0 702.4L503.0 700.7L503.7 701.4L504.0 701.9L505.0 703.7L506.0 707.6L507.0 712.0L508.0 718.1L509.0 726.5L510.0 735.6L511.0 743.8L511.8 748.5L512.0 749.4L513.0 753.5L514.0 756.5L515.0 760.2L516.0 763.4L517.0 766.2L518.0 769.4L519.0 768.1L520.0 766.5L521.0 768.7L522.0 773.3L523.0 775.6L524.0 774.8L524.5 776.7L525.0 775.6L526.0 772.8L527.0 776.0L528.0 781.6L529.0 782.4L530.0 778.0L531.0 778.5L532.0 781.3L533.0 782.0L534.0 780.6L535.0 778.2L536.0 779.1L537.0 781.1L538.0 783.5L539.0 786.1L540.0 782.8L541.0 779.0L542.0 780.1L543.0 780.6L544.0 781.6L545.0 782.7L546.0 782.5L547.0 783.8L548.0 783.2L549.0 779.7L550.0 777.6L551.0 777.6L552.0 778.3L553.0 776.9L554.0 779.2L555.0 782.0L556.0 780.1L557.0 778.2L558.0 776.2L559.0 775.8L560.0 780.4L561.0 778.1L562.0 775.2L563.0 779.1L564.0 778.7L565.0 776.7L566.0 777.3L567.0 775.7L568.0 774.9L569.0 778.3L570.0 775.4L571.0 771.6L572.0 772.7L573.0 774.8L574.0 775.9L575.0 774.7L576.0 770.9L577.0 767.4L578.0 767.7L579.0 768.6L580.0 764.8L581.0 762.3L582.0 761.2L583.0 758.8L584.0 755.0L585.0 751.4L586.0 747.1L587.0 742.5L588.0 738.0L589.0 733.3L590.0 728.3L591.0 723.7L592.0 720.0L593.0 717.3L594.0 713.8L595.0 711.5L595.7 711.2L596.0 712.1L597.0 715.3L598.0 717.2L599.0 720.0L600.0 723.8L601.0 728.5L602.0 733.5L603.0 738.0L604.0 742.2L605.0 746.5L606.0 750.7L607.0 754.8L608.0 757.9L608.4 757.9L609.0 759.6L610.0 763.4L611.0 764.5L612.0 765.1L613.0 767.9L614.0 772.0L615.0 772.4L616.0 772.9L617.0 775.3L618.0 777.2L619.0 776.3L620.0 774.4L621.0 774.1L622.0 775.0L623.0 777.0L623.6 778.6L624.0 777.3L625.0 776.6L626.0 776.2L627.0 778.3L628.0 779.6L629.0 778.6L630.0 778.5L631.0 777.9L632.0 778.3L633.0 781.6L634.0 783.4L635.0 780.9L636.0 779.2L637.0 778.8L638.0 781.2L639.0 784.7L640.0 781.8L641.0 778.0L641.4 779.9L642.0 780.3L643.0 778.1L644.0 779.1L645.0 782.6L646.0 780.3L647.0 779.5L648.0 783.2L649.0 784.4L650.0 782.3L651.0 784.3L652.0 785.7L653.0 781.1L654.0 781.8L655.0 781.3L656.0 781.1L657.0 780.9L658.0 780.6L659.0 781.5L660.0 781.8L661.0 783.5L662.0 782.3L663.0 781.0L664.0 781.6L665.0 778.6L666.0 777.3L667.0 780.3L668.0 780.1L669.0 780.2L670.0 784.2L671.0 782.5L672.0 777.4L673.0 776.6L674.0 776.9L675.0 772.7L676.0 772.0L677.0 773.0L678.0 766.1L679.0 764.5L679.5 767.1L680.0 768.5L681.0 767.6L682.0 767.3L683.0 766.0L684.0 763.4L685.0 759.0L686.0 758.6L687.0 762.2L688.0 759.9L689.0 754.7L690.0 752.4L691.0 756.7L692.0 757.0L693.0 752.8L694.0 751.8L694.8 753.4L695.0 753.6L696.0 750.8L697.0 749.0L698.0 749.6L699.0 752.9L700.0 752.6L701.0 752.2L702.0 752.6L703.0 751.6L704.0 752.0L705.0 752.3L706.0 754.1L707.0 755.3L708.0 753.4L709.0 753.2L710.0 754.1L711.0 754.5L712.0 754.6L713.0 754.1L714.0 751.2L715.0 750.7L716.0 754.5L717.0 751.6L718.0 751.7L719.0 753.7L720.0 750.7L721.0 747.3L722.0 749.0L723.0 750.2L724.0 747.9L725.0 750.3L726.0 749.7L727.0 747.8L728.0 748.0L729.0 749.7L730.0 752.7L731.0 754.1L732.0 754.7L733.0 754.7L734.0 755.5L735.0 756.4L736.0 760.5L737.0 763.3L738.0 758.9L739.0 758.8L740.0 765.9L741.0 767.4L742.0 766.2L743.0 770.5L744.0 771.0L745.0 773.3L746.0 778.8L747.0 777.4L748.0 777.8L749.0 778.6L750.0 776.1L750.7 777.9L751.0 779.7L752.0 778.2L753.0 778.6L754.0 776.6L755.0 773.3L756.0 773.0L757.0 774.5L758.0 776.4L759.0 775.2L760.0 770.9L761.0 768.8L762.0 770.1L763.0 766.3L764.0 763.2L765.0 765.5L766.0 766.7L767.0 764.8L768.0 762.8L768.5 761.8L769.0 760.2L770.0 756.9L771.0 753.2L772.0 749.1L773.0 745.0L774.0 740.8L775.0 736.2L776.0 731.5L777.0 727.0L778.0 722.6L779.0 718.3L780.0 714.0L781.0 710.0L782.0 706.4L783.0 702.6L784.0 698.7L785.0 696.9L786.0 691.6L787.0 686.9L788.0 685.2L789.0 680.8L790.0 676.5L791.0 671.5L792.0 671.8L793.0 671.2L794.0 666.0L795.0 667.1L796.0 665.2L797.0 664.9L797.7 668.1L798.0 667.6L799.0 667.6L800.0 666.3L801.0 665.4L802.0 671.0L803.0 675.0L804.0 674.2L805.0 679.4L806.0 681.4L807.0 680.8L808.0 683.6L809.0 685.9L810.0 687.0L811.0 688.6L811.7 693.7L812.0 696.3L813.0 692.4L814.0 690.7L815.0 698.0L816.0 703.2L817.0 704.7L818.0 709.0L819.0 709.6L820.0 712.8L821.0 718.5L822.0 720.4L823.0 723.2L824.0 726.4L825.0 728.5L826.0 728.6L827.0 731.1L828.0 732.1L829.0 728.9L830.0 730.5L831.0 733.9L832.0 733.7L833.0 731.8L834.0 729.9L835.0 729.0L836.0 726.8L837.0 727.2L838.0 728.6L839.0 727.2L840.0 729.4L841.0 727.8L842.0 723.7L843.0 724.9L844.0 727.9L844.7 728.5L845.0 726.2L846.0 725.7L847.0 725.9L848.0 726.4L849.0 730.3L850.0 734.4L851.0 735.7L852.0 735.5L853.0 739.5L854.0 740.8L855.0 735.5L856.0 737.8L857.0 742.3L858.0 745.0L859.0 744.4L860.0 745.4L861.0 750.6L862.0 749.7L863.0 747.3L864.0 747.2L865.0 749.9L865.4 754.2L866.0 755.8L867.0 757.0L868.0 759.3L869.0 759.6L870.0 760.2L871.0 759.9L872.0 758.6L873.0 761.7L874.0 762.9L875.0 764.6L876.0 769.1L877.0 770.1L878.0 768.3L879.0 767.8L880.0 772.1L881.0 773.1L882.0 772.2L883.0 773.7L884.0 774.4L885.0 777.1L886.0 776.9L887.0 773.9L888.0 777.3L889.0 780.2L890.0 779.3L890.8 779.0L891.0 779.1L892.0 780.9L893.0 781.6L894.0 779.0L895.0 776.0L896.0 776.5L897.0 776.7L898.0 776.4L899.0 774.4L900.0 769.5L901.0 770.5L902.0 774.3L903.0 773.6L904.0 773.8L905.0 773.0L906.0 768.9L907.0 767.9L908.0 767.3L909.0 766.8L910.0 766.4L911.0 764.3L912.0 763.5L913.0 761.9L914.0 758.3L915.0 757.1L916.0 754.4L917.0 752.9L918.0 754.7L919.0 753.6L920.0 749.0L921.0 741.5L922.0 735.1L923.0 735.3L924.0 731.8L925.0 726.9L926.0 723.2L926.4 721.1L927.0 724.8L928.0 724.2L929.0 722.2L930.0 719.6L931.0 717.7L932.0 719.7L933.0 721.1L934.0 718.8L935.0 717.8L936.0 716.1L937.0 716.8L938.0 719.6L939.0 716.6L940.0 714.7L940.4 717.4L941.0 716.6L942.0 719.5L943.0 725.0L944.0 724.3L945.0 726.0L946.0 731.5L947.0 731.1L948.0 732.6L949.0 737.4L950.0 739.3L951.0 743.5L951.8 745.3L952.0 742.7L953.0 743.9L954.0 748.5L955.0 754.0L956.0 756.4L957.0 757.5L958.0 759.7L959.0 764.1L960.0 767.3L961.0 766.6L962.0 767.5L963.0 772.3L964.0 773.3L964.5 771.6L965.0 772.9L966.0 772.9L967.0 775.1L968.0 774.2L969.0 775.8L970.0 779.1L971.0 775.7L972.0 777.3L973.0 777.1L974.0 777.9L975.0 781.9L976.0 780.6L977.0 779.3L978.0 781.9L979.0 781.8L980.0 780.7L981.0 782.6L982.0 785.1L983.0 784.1L984.0 782.1L985.0 784.8L986.0 781.2L987.0 779.3L988.0 780.4L989.0 778.2L990.0 784.1L991.0 787.2L992.0 786.5L992.5 785.8L993.0 784.4L994.0 784.1L995.0 782.4L996.0 782.8L997.0 783.7L998.0 785.9L999.0 785.2L1000.0 783.3L1001.0 783.0L1002.0 782.3L1003.0 780.5L1004.0 781.6L1005.0 782.5L1006.0 780.6L1007.0 780.7L1008.0 781.8L1009.0 782.6L1010.0 780.8L1011.0 779.9L1012.0 779.9L1013.0 780.1L1014.0 779.7L1015.0 779.7L1016.0 780.6L1017.0 778.9L1018.0 773.9L1019.0 774.9L1020.0 779.6L1021.0 776.0L1022.0 771.9L1023.0 769.3L1024.0 771.2L1025.0 772.9L1026.0 774.6L1027.0 772.7L1028.0 770.5L1029.0 775.5L1030.0 775.1L1031.0 773.3L1032.0 774.6L1033.0 775.3L1034.0 774.6L1035.0 775.4L1036.0 775.2L1037.0 775.0L1038.0 777.0L1039.0 776.9L1040.0 776.0L1041.0 775.5L1042.0 776.7L1043.0 775.9L1044.0 776.1L1045.0 773.5L1046.0 770.8L1047.0 772.9L1048.0 775.8L1049.0 778.6L1050.0 775.1L1051.0 773.9L1052.0 777.8L1053.0 778.5L1054.0 777.3L1055.0 775.0L1056.0 771.8L1057.0 774.7L1058.0 780.1L1059.0 778.3L1060.0 775.5L1061.0 774.6L1062.0 775.4L1063.0 775.8L1064.0 773.1L1065.0 770.7L1066.0 770.4L1067.0 773.3L1068.0 775.7L1069.0 773.4L1070.0 772.6L1071.0 773.6L1072.0 771.6L1073.0 770.5L1074.0 768.1L1075.0 767.5L1076.0 772.3L1077.0 772.1L1078.0 768.8L1079.0 772.0L1080.0 769.3L1081.0 768.1L1082.0 770.2L1083.0 769.6L1084.0 771.5L1085.0 770.7L1086.0 768.9L1087.0 770.0L1088.0 771.0L1089.0 768.7L1090.0 767.2L1091.0 766.1L1092.0 768.0L1093.0 768.0L1094.0 766.1L1095.0 770.3L1096.0 770.9L1097.0 767.6L1098.0 765.1L1099.0 764.3L1100.0 766.4L1101.0 767.6L1102.0 766.0L1103.0 769.1L1104.0 767.7L1105.0 762.9L1106.0 763.5L1107.0 764.4L1108.0 765.2L1109.0 764.4L1110.0 764.9L1111.0 766.0L1112.0 764.4L1113.0 759.8L1114.0 761.4L1114.5 763.6L1115.0 761.5L1116.0 762.7L1117.0 761.9L1118.0 761.1L1119.0 763.2L1120.0 764.0L1121.0 764.5L1122.0 764.0L1123.0 763.4L1124.0 763.3L1125.0 763.6L1126.0 765.9L1127.0 766.4L1128.0 764.2L1129.0 764.8L1129.7 767.5L1130.0 769.6L1131.0 769.9L1132.0 768.4L1133.0 767.6L1134.0 772.1L1135.0 773.3L1136.0 769.5L1137.0 771.3L1138.0 770.8L1139.0 773.0L1140.0 776.3L1141.0 775.7L1142.0 774.2L1143.0 773.0L1144.0 776.0L1145.0 778.4L1146.0 781.7L1147.0 782.5L1148.0 776.0L1149.0 775.0L1150.0 777.8L1151.0 779.6L1152.0 780.3L1152.6 779.4L1153.0 779.0L1154.0 778.8L1155.0 780.7L1156.0 777.9L1157.0 771.5L1158.0 769.6L1159.0 773.7L1160.0 774.5L1161.0 770.7L1162.0 767.8L1163.0 768.7L1164.0 769.4L1165.0 766.5L1166.0 764.1L1167.0 762.8L1168.0 762.0L1169.0 761.8L1170.0 763.0L1170.4 758.8L1171.0 754.1L1172.0 755.6L1173.0 756.7L1174.0 753.2L1175.0 751.0L1176.0 751.4L1177.0 750.5L1178.0 749.4L1179.0 748.9L1180.0 750.0L1181.0 750.4L1182.0 749.1L1183.0 747.6L1184.0 744.8L1185.0 742.9L1186.0 744.3L1187.0 744.6L1188.0 744.2L1189.0 744.1L1190.0 742.8L1190.7 743.0L1191.0 740.6L1192.0 739.8L1193.0 741.5L1194.0 743.4L1195.0 743.7L1196.0 743.3L1197.0 744.1L1198.0 745.0L1199.0 747.2L1200.0 746.6L1201.0 746.1L1202.0 747.0L1203.0 748.4L1204.0 748.0L1205.0 747.3L1206.0 747.6L1207.0 746.5L1208.0 747.8L1209.0 750.3L1210.0 749.2L1211.0 751.4L1212.0 751.9L1213.0 751.1L1214.0 753.2L1215.0 750.0L1216.0 749.8L1217.0 750.5L1218.0 750.8L1219.0 754.6L1220.0 758.0L1221.0 758.7L1222.0 754.2L1223.0 753.0L1224.0 758.1L1225.0 759.5L1226.0 760.5L1227.0 759.7L1228.0 756.9L1229.0 756.6L1230.0 757.4L1231.0 761.9L1232.0 761.7L1233.0 761.6L1234.0 764.2L1235.0 764.6L1236.0 764.0L1237.0 763.4L1238.0 767.5L1239.0 766.2L1240.0 764.7L1241.0 769.4L1242.0 769.5L1243.0 770.2L1244.0 765.6L1245.0 763.2L1246.0 766.3L1247.0 766.5L1248.0 768.4L1249.0 770.0L1250.0 769.1L1251.0 769.7L1251.7 768.7L1252.0 768.8L1253.0 770.7L1254.0 766.5L1255.0 763.9L1256.0 763.6L1257.0 764.4L1258.0 766.8L1259.0 769.8L1260.0 770.3L1261.0 765.9L1262.0 760.8L1263.0 761.8L1264.0 762.6L1265.0 762.3L1266.0 762.9L1267.0 766.4L1268.0 764.3L1269.0 760.4L1270.0 765.1L1271.0 763.4L1272.0 758.9L1273.0 761.3L1274.0 758.7L1275.0 752.9L1276.0 753.6L1277.0 756.1L1278.0 758.3L1279.0 756.8L1280.0 758.0L1281.0 757.1L1282.0 753.0L1283.0 752.0L1284.0 753.1L1285.0 752.8L1286.0 749.7L1287.0 751.6L1288.0 753.5L1289.0 751.9L1290.0 747.4L1291.0 743.7L1292.0 744.7L1293.0 745.3L1294.0 744.6L1295.0 744.2L1296.0 745.6L1297.0 744.2L1297.7 743.6L1298.0 744.5L1299.0 743.6L1300.0 744.1L1301.0 746.5L1302.0 747.9L1303.0 746.3L1304.0 747.2L1305.0 749.3L1306.0 750.2L1307.0 750.4L1308.0 752.0L1309.0 753.6L1310.0 751.3L1311.0 749.7L1312.0 750.3L1313.0 753.7L1314.0 755.6L1315.0 755.3L1316.0 756.8L1317.0 759.5L1318.0 763.0L1319.0 761.0L1320.0 760.7L1321.0 761.7L1322.0 760.5L1323.0 759.2L1324.0 755.6L1325.0 756.6L1326.0 760.4L1327.0 757.3L1328.0 755.2L1329.0 757.8L1330.0 758.7L1331.0 756.7L1332.0 754.9L1333.0 757.9L1334.0 761.3L1335.0 760.0L1336.0 758.8L1337.0 758.8L1338.0 757.9L1339.0 757.1L1340.0 756.1L1341.0 755.8L1342.0 756.2L1343.0 758.7L1344.0 758.8L1345.0 758.1L1346.0 756.9L1347.0 756.9L1348.0 753.2L1349.0 750.0L1350.0 754.1L1351.0 753.5L1352.0 754.8L1353.0 757.9L1354.0 755.6L1355.0 755.4L1356.0 754.5L1357.0 753.0L1358.0 754.7L1359.0 753.6L1360.0 755.8L1361.0 757.2L1362.0 757.1L1363.0 757.9L1364.0 756.8L1365.0 755.7L1365.5 754.8L1366.0 755.5L1367.0 756.5L1368.0 759.5L1369.0 758.7L1370.0 756.9L1371.0 758.9L1372.0 761.1L1373.0 761.2L1374.0 760.1L1375.0 760.2L1376.0 761.5L1377.0 763.5L1378.0 763.1L1379.0 763.0L1380.0 765.7L1381.0 766.6L1382.0 765.2L1383.0 766.8L1384.0 769.3L1385.0 769.8L1386.0 770.3L1387.0 769.4L1388.0 769.3L1389.0 770.9L1390.0 771.3L1391.0 768.7L1392.0 769.0L1393.0 772.5L1394.0 773.6L1395.0 772.9L1396.0 772.4L1397.0 770.3L1398.0 768.1L1399.0 766.3L1400.0 768.1L1401.0 774.8L1402.0 777.6L1403.0 773.3L1404.0 771.5L1405.0 774.8L1406.0 773.1L1407.0 768.1L1408.0 770.5L1409.0 772.7L1410.0 769.9L1411.0 772.8L1412.0 774.0L1413.0 772.6L1414.0 774.2L1415.0 772.6L1416.0 768.7L1417.0 770.0L1418.0 771.4L1419.0 771.2L1420.0 771.8L1421.0 769.5L1421.6 769.0L1422.0 769.6L1423.0 769.3L1424.0 769.9L1425.0 771.0L1426.0 771.6L1427.0 769.5L1428.0 770.4L1429.0 770.6L1430.0 773.3L1431.0 774.7L1432.0 771.8L1433.0 775.4L1434.0 775.6L1435.0 772.1L1436.0 770.7L1437.0 773.4L1438.0 776.5L1439.0 777.7L1440.0 777.8L1441.0 776.1L1442.0 776.7L1443.0 779.8L1444.0 778.2L1445.0 781.6L1446.0 782.4L1447.0 779.2L1448.0 782.9L1449.0 782.6L1450.0 780.5L1451.0 780.4L1452.0 782.2L1453.0 777.4L1454.0 776.3L1455.0 779.8L1456.0 778.3L1457.0 779.3L1458.0 780.7L1459.0 781.5L1460.0 780.5L1461.0 781.7L1462.0 779.6L1463.0 776.7L1464.0 778.1L1465.0 779.8L1466.0 781.0L1467.0 781.7L1468.0 781.3L1468.8 782.5L1469.0 784.7L1470.0 782.0L1471.0 778.4L1472.0 777.3L1473.0 777.5L1474.0 781.0L1475.0 784.3L1476.0 780.5L1477.0 782.0L1478.0 783.4L1479.0 777.1L1480.0 779.0L1481.0 784.1L1482.0 782.3L1483.0 778.9L1484.0 780.5L1485.0 780.9L1486.0 778.8L1487.0 780.1L1488.0 780.4L1489.0 778.8L1490.0 776.6L1491.0 778.2L1492.0 776.3L1493.0 775.4L1494.0 778.9L1495.0 779.0L1496.0 777.9L1497.0 777.3L1498.0 778.8L1499.0 776.8L1500.0 775.5L1501.0 777.5L1502.0 775.4L1503.0 773.2L1504.0 777.3L1505.0 780.1L1506.0 776.4L1507.0 775.8L1508.0 777.3L1509.0 778.1L1510.0 779.0L1511.0 773.1L1512.0 770.8L1513.0 776.3L1514.0 779.0L1515.0 775.8L1516.0 771.4L1517.0 772.5L1518.0 773.3L1519.0 772.7L1520.0 771.8L1521.0 772.8L1522.0 775.3L1523.0 774.8L1524.0 772.2L1525.0 768.9L1526.0 768.6L1527.0 771.9L1527.8 771.1L1528.0 771.3L1529.0 776.6L1530.0 774.8L1531.0 771.9L1532.0 774.4L1533.0 776.1L1534.0 773.8L1535.0 772.3L1536.0 773.6L1537.0 773.5L1538.0 774.3L1539.0 775.3L1540.0 776.5L1541.0 773.6L1542.0 773.5L1543.0 777.3L1544.0 775.4L1545.0 774.8L1545.5 776.5L1546.0 776.3L1547.0 774.4L1548.0 774.1L1549.0 773.1L1550.0 770.3L1551.0 769.6L1552.0 769.8L1553.0 770.9L1554.0 772.6L1555.0 772.1L1556.0 772.6L1557.0 771.5L1558.0 768.0L1559.0 766.5L1560.0 765.7L1561.0 765.8L1562.0 768.6L1563.0 766.3L1564.0 764.6L1565.0 766.3L1566.0 766.3L1567.0 765.2L1568.0 764.7L1569.0 764.4L1570.0 764.1L1571.0 761.7L1572.0 761.3L1573.0 765.2L1574.0 761.9L1575.0 761.9L1576.0 762.4L1577.0 762.5L1578.0 764.1L1579.0 763.5L1580.0 764.0L1581.0 761.1L1582.0 762.8L1583.0 766.3L1584.0 762.5L1585.0 761.5L1586.0 763.7L1587.0 761.9L1588.0 759.7L1589.0 762.6L1590.0 763.6L1591.0 763.1L1592.0 766.6L1593.0 766.0L1594.0 761.9L1595.0 762.7L1596.0 762.1L1597.0 759.3L1598.0 765.8L1598.5 766.0L1599.0 762.2L1600.0 761.9L1601.0 761.3L1602.0 763.3L1603.0 759.7L1604.0 758.6L1605.0 763.6L1606.0 766.1L1607.0 765.7L1608.0 763.2L1609.0 763.5L1610.0 764.3L1611.0 762.8L1612.0 763.6L1613.0 768.3L1614.0 767.1L1615.0 765.4L1616.0 767.2L1617.0 763.6L1618.0 762.0L1619.0 764.1L1620.0 764.8L1621.0 765.6L1622.0 764.9L1623.0 763.1L1624.0 766.2L1625.0 767.8L1626.0 765.1L1627.0 765.3L1628.0 769.3L1629.0 768.6L1630.0 763.7L1631.0 766.1L1632.0 771.3L1633.0 771.9L1634.0 767.1L1635.0 762.2L1636.0 766.2L1637.0 769.0L1638.0 768.0L1639.0 768.0L1640.0 769.9L1641.0 770.3L1642.0 767.4L1643.0 767.6L1644.0 766.4L1645.0 766.5L1646.0 768.2L1647.0 764.9L1648.0 763.4L1649.0 764.7L1650.0 764.1L1651.0 766.6L1652.0 770.7L1653.0 770.7L1654.0 766.9L1655.0 763.8L1656.0 767.3L1657.0 769.5L1658.0 768.3L1659.0 766.9L1660.0 764.1L1661.0 769.4L1662.0 771.5L1663.0 768.0L1664.0 767.3L1665.0 769.9L1666.0 771.1L1667.0 768.7L1668.0 769.3L1669.0 769.6L1670.0 771.7L1671.0 769.1L1672.0 768.0L1673.0 769.8L1674.0 768.3L1675.0 768.4L1676.0 769.7L1677.0 768.8L1678.0 767.4L1679.0 770.2L1680.0 770.2L1681.0 768.8L1682.0 770.2L1683.0 771.1L1684.0 770.2L1685.0 770.2L1686.0 769.4L1687.0 770.7L1688.0 770.5L1689.0 766.9L1690.0 769.3L1691.0 769.8L1692.0 767.8L1693.0 769.5L1694.0 772.1L1695.0 771.8L1696.0 770.2L1697.0 770.4L1698.0 771.8L1699.0 771.8L1700.0 771.7L1701.0 774.6L1702.0 774.1L1703.0 771.7L1704.0 770.8L1705.0 770.4L1706.0 770.1L1707.0 769.7L1708.0 770.9L1709.0 773.2L1710.0 774.9L1711.0 773.9L1712.0 773.9L1713.0 772.7L1714.0 775.5L1715.0 781.2L1716.0 778.2L1717.0 775.4L1718.0 775.9L1719.0 776.4L1720.0 775.5L1721.0 772.2L1722.0 774.5L1722.5 775.2L1723.0 774.6L1724.0 774.9L1725.0 773.4L1726.0 776.3L1727.0 780.0L1728.0 778.4L1729.0 775.5L1730.0 776.2L1731.0 776.2L1732.0 773.2L1733.0 774.1L1734.0 773.5L1735.0 774.2L1736.0 776.9L1737.0 776.6L1738.0 775.3L1739.0 774.0L1740.0 777.1L1741.0 780.3L1742.0 780.8L1743.0 779.5L1744.0 776.7L1745.0 777.1L1746.0 779.0L1747.0 777.8L1748.0 779.6L1749.0 779.1L1750.0 779.8L1751.0 780.1L1752.0 776.6L1753.0 777.5L1754.0 776.7L1755.0 776.2L1756.0 778.4L1757.0 776.6L1758.0 775.4L1759.0 776.0L1760.0 776.7L1761.0 780.6L1762.0 780.8L1763.0 779.2L1764.0 780.8L1765.0 780.2L1766.0 781.1L1767.0 783.1L1768.0 783.5"/>
<path class="c" stroke="#00f" stroke-width="7.3" d="M22.0 564.0L23.0 562.3L24.0 559.7L25.0 561.9L26.0 563.8L27.0 562.8L28.0 561.0L29.0 561.3L30.0 561.5L31.0 563.4L32.0 561.9L33.0 562.6L34.0 565.2L35.0 564.3L36.0 564.3L37.0 562.7L38.0 561.3L39.0 560.9L40.0 560.7L41.0 562.6L42.0 562.0L43.0 560.7L44.0 560.7L45.0 560.1L46.0 560.1L47.0 561.2L48.0 560.6L49.0 560.9L50.0 564.6L51.0 565.3L52.0 562.8L53.0 560.6L54.0 559.8L55.0 563.3L56.0 564.3L57.0 561.2L58.0 561.4L59.0 565.1L60.0 565.0L61.0 563.0L62.0 563.2L63.0 561.9L64.0 560.0L65.0 560.0L66.0 561.3L67.0 562.6L68.0 564.0L69.0 564.5L70.0 563.8L71.0 563.8L72.0 562.4L73.0 562.9L74.0 564.6L75.0 562.6L76.0 562.6L77.0 562.9L78.0 563.8L79.0 566.0L80.0 567.5L81.0 563.6L82.0 558.8L83.0 560.0L84.0 562.2L85.0 564.1L86.0 564.3L87.0 560.5L88.0 559.7L89.0 563.5L90.0 564.3L91.0 564.2L92.0 563.6L93.0 562.4L94.0 562.9L95.0 563.8L96.0 563.8L97.0 563.4L98.0 562.3L99.0 562.6L100.0 563.7L101.0 564.7L102.0 566.1L103.0 564.9L104.0 562.7L105.0 561.6L106.0 562.7L107.0 563.7L108.0 562.6L109.0 562.6L110.0 562.2L111.0 563.1L112.0 563.3L113.0 564.0L114.0 565.2L115.0 564.3L116.0 562.3L117.0 561.8L118.0 564.2L119.0 562.7L120.0 561.4L121.0 562.7L122.0 561.2L123.0 561.6L124.0 564.6L125.0 563.0L126.0 562.3L127.0 561.7L128.0 561.2L129.0 560.8L130.0 562.3L131.0 565.0L132.0 563.5L133.0 561.9L134.0 563.7L135.0 567.3L136.0 563.1L137.0 562.2L138.0 566.8L139.0 565.6L140.0 561.8L141.0 562.5L142.0 563.8L143.0 561.7L144.0 560.1L145.0 561.4L146.0 563.8L147.0 561.8L148.0 561.0L149.0 560.3L150.0 559.9L151.0 558.2L152.0 554.7L153.0 550.0L154.0 545.0L155.0 538.6L156.0 530.5L157.0 522.1L158.0 515.0L159.0 509.2L160.0 504.0L161.0 499.2L162.0 495.0L163.0 491.4L164.0 488.3L165.0 485.3L166.0 482.0L167.0 478.7L168.0 475.2L169.0 470.0L170.0 458.4L171.0 440.0L172.0 414.7L173.0 380.0L174.0 331.9L174.5 300.0L175.0 257.4L176.0 150.0L177.0 38.0L178.0 -50.0L179.0 -50.0L180.0 -50.0L181.0 -50.0L182.0 -50.0L183.0 -50.0L183.3 -50.0L184.0 -50.0L185.0 -50.0L186.0 -50.0L187.0 -50.0L188.0 -50.0L189.0 -50.0L189.6 38.0L190.0 147.4L190.2 200.0L191.0 350.0L192.0 425.7L192.5 450.0L193.0 470.5L194.0 500.0L195.0 517.9L196.0 530.0L197.0 538.7L198.0 545.5L199.0 550.0L200.0 553.7L201.0 556.3L202.0 556.3L203.0 556.9L204.0 559.9L205.0 560.6L206.0 561.8L207.0 560.5L208.0 560.4L209.0 560.3L210.0 561.9L211.0 560.8L212.0 555.8L213.0 555.3L214.0 556.4L215.0 557.0L216.0 560.7L217.0 561.6L218.0 557.0L219.0 558.7L220.0 559.6L221.0 556.2L222.0 558.0L223.0 560.3L224.0 558.3L225.0 559.2L226.0 559.7L227.0 559.8L228.0 560.2L229.0 559.9L230.0 559.2L231.0 555.4L232.0 558.4L233.0 559.1L234.0 555.4L235.0 555.1L236.0 554.9L237.0 556.0L238.0 556.4L239.0 556.8L240.0 558.8L241.0 557.6L242.0 553.4L243.0 551.8L244.0 552.4L245.0 551.6L246.0 553.5L247.0 554.9L248.0 553.2L249.0 553.8L250.0 552.2L251.0 550.9L252.0 553.5L253.0 555.4L254.0 553.8L255.0 555.3L256.0 554.0L257.0 551.0L258.0 552.4L259.0 549.0L260.0 551.9L261.0 556.0L262.0 551.9L263.0 554.1L264.0 556.2L265.0 554.0L266.0 552.4L267.0 551.9L268.0 550.6L269.0 551.4L270.0 552.9L271.0 552.0L272.0 554.0L273.0 554.2L274.0 552.9L275.0 552.8L276.0 551.4L277.0 552.1L278.0 555.1L279.0 555.0L280.0 554.0L281.0 551.8L282.0 549.4L283.0 548.6L284.0 551.4L285.0 552.9L286.0 553.1L287.0 552.4L288.0 549.9L289.0 551.0L290.0 552.8L291.0 552.7L292.0 551.7L293.0 551.6L294.0 551.5L295.0 550.0L296.0 549.8L297.0 551.0L298.0 550.8L299.0 551.6L300.0 550.7L301.0 549.9L302.0 550.4L303.0 551.0L304.0 552.5L305.0 550.6L306.0 550.3L307.0 554.3L308.0 551.5L309.0 547.6L310.0 548.4L311.0 549.1L312.0 552.5L313.0 552.8L314.0 549.7L315.0 550.5L316.0 550.6L317.0 551.2L318.0 552.4L319.0 552.7L320.0 551.3L321.0 553.5L322.0 555.4L323.0 552.1L324.0 550.9L325.0 549.0L326.0 547.6L327.0 547.7L328.0 546.9L329.0 546.4L330.0 545.2L331.0 544.6L332.0 545.9L333.0 543.3L334.0 542.9L335.0 542.7L336.0 541.9L337.0 542.3L338.0 542.1L339.0 540.4L340.0 539.4L341.0 543.7L342.0 544.1L343.0 540.5L344.0 539.7L345.0 540.0L346.0 540.7L347.0 544.5L348.0 550.0L349.0 550.7L350.0 549.8L351.0 550.6L352.0 550.4L353.0 550.6L354.0 550.6L355.0 551.7L356.0 550.5L357.0 551.5L358.0 554.5L359.0 553.0L360.0 553.0L361.0 552.5L362.0 550.8L363.0 552.1L364.0 552.7L365.0 551.9L366.0 551.4L367.0 551.3L368.0 553.5L369.0 551.6L370.0 550.9L371.0 553.2L372.0 553.6L373.0 554.6L374.0 549.9L375.0 550.0L376.0 554.1L377.0 553.3L378.0 552.2L379.0 553.3L380.0 553.3L381.0 554.6L382.0 555.9L383.0 556.2L384.0 554.3L385.0 549.0L386.0 551.0L387.0 554.4L388.0 553.4L389.0 550.1L390.0 549.3L391.0 552.1L392.0 552.2L393.0 550.8L394.0 550.4L395.0 548.7L396.0 547.6L397.0 546.2L398.0 548.4L399.0 547.8L400.0 544.9L401.0 542.2L402.0 539.1L403.0 535.0L404.0 527.0L405.0 514.2L406.0 500.0L407.0 485.3L408.0 468.6L409.0 450.0L410.0 428.7L411.0 404.9L412.0 380.0L413.0 355.2L414.0 329.3L415.0 300.0L416.0 262.7L417.0 221.6L417.6 200.0L418.0 187.3L419.0 158.0L420.0 132.1L420.3 125.0L421.0 106.7L422.0 90.5L423.0 106.3L423.7 125.0L424.0 132.6L425.0 161.5L426.0 200.0L427.0 265.9L427.5 300.0L428.0 328.4L429.0 380.0L430.0 428.7L430.5 450.0L431.0 468.8L432.0 500.0L433.0 522.9L433.5 530.0L434.0 534.5L435.0 541.1L436.0 545.0L437.0 547.4L438.0 549.8L439.0 551.7L440.0 553.8L441.0 554.5L442.0 550.4L443.0 548.7L444.0 553.1L445.0 554.6L446.0 553.5L447.0 553.1L448.0 554.1L449.0 554.8L450.0 555.4L451.0 555.2L452.0 554.8L453.0 556.4L454.0 553.9L455.0 554.5L456.0 554.3L457.0 551.7L458.0 553.9L459.0 554.1L460.0 552.4L461.0 552.7L462.0 552.2L463.0 554.1L464.0 556.2L465.0 554.7L466.0 553.8L467.0 554.5L468.0 557.0L469.0 557.5L470.0 554.5L471.0 554.3L472.0 554.8L473.0 553.5L474.0 556.0L475.0 555.7L476.0 552.4L477.0 550.2L478.0 548.8L479.0 551.9L480.0 552.7L481.0 552.6L482.0 551.8L483.0 549.9L484.0 552.1L485.0 554.9L486.0 554.5L487.0 553.9L488.0 555.1L489.0 554.6L490.0 550.7L491.0 548.7L492.0 550.3L493.0 549.3L494.0 548.4L494.5 546.5L495.0 544.3L496.0 545.8L497.0 542.1L498.0 538.5L499.0 538.6L500.0 535.6L500.5 534.6L501.0 533.3L502.0 528.8L503.0 523.4L504.0 517.2L505.0 510.5L505.5 507.0L506.0 503.3L507.0 495.0L508.0 485.7L509.0 475.4L509.5 470.0L510.0 464.2L511.0 451.4L512.0 437.3L512.5 430.0L513.0 422.6L514.0 407.0L515.0 389.7L515.5 380.0L516.0 369.0L517.0 343.6L517.5 330.0L518.0 316.0L519.0 285.9L519.5 270.0L520.0 255.7L521.0 225.0L521.5 200.0L522.0 140.0L523.0 108.5L524.0 95.0L525.0 89.0L525.3 88.5L526.0 90.9L527.0 100.0L528.0 124.6L529.0 160.0L530.0 195.4L531.0 230.0L532.0 261.7L533.0 285.0L534.0 298.0L535.0 304.0L536.0 291.7L536.5 280.0L537.0 259.7L538.0 200.0L539.0 143.9L539.5 120.0L540.0 100.8L541.0 70.0L542.0 46.5L542.6 36.0L543.0 30.0L544.0 16.2L545.0 10.0L546.0 16.4L547.0 31.1L547.3 36.0L548.0 51.2L548.6 70.0L549.0 89.1L549.7 130.0L550.0 144.5L551.0 190.1L551.2 200.0L552.0 242.4L553.0 299.7L553.5 330.0L554.0 364.9L555.0 430.0L556.0 465.5L557.0 490.0L558.0 507.8L559.0 520.0L560.0 527.9L561.0 533.9L562.0 538.0L563.0 541.4L564.0 543.3L565.0 543.8L566.0 545.5L567.0 549.5L568.0 550.6L569.0 552.4L570.0 552.2L571.0 550.9L572.0 549.2L573.0 548.9L574.0 552.3L575.0 554.3L576.0 557.4L577.0 557.1L578.0 557.1L579.0 558.3L580.0 558.0L581.0 556.8L582.0 557.6L583.0 557.0L584.0 556.1L585.0 556.5L586.0 555.3L587.0 554.8L588.0 555.0L589.0 557.6L590.0 558.4L591.0 556.2L592.0 558.5L593.0 560.8L594.0 560.4L595.0 561.1L596.0 559.0L597.0 555.4L598.0 555.2L599.0 559.6L600.0 559.5L601.0 559.0L602.0 559.7L603.0 559.2L604.0 557.7L605.0 558.8L606.0 561.3L607.0 561.0L608.0 561.3L609.0 561.3L610.0 560.9L611.0 560.9L612.0 559.1L613.0 556.7L614.0 559.7L615.0 561.2L616.0 559.9L617.0 559.8L618.0 560.8L619.0 560.3L620.0 560.4L621.0 560.0L622.0 558.8L623.0 561.4L624.0 563.4L625.0 560.7L626.0 560.4L627.0 560.5L628.0 560.4L629.0 559.3L630.0 556.8L631.0 558.7L632.0 560.0L633.0 562.6L634.0 564.1L635.0 564.3L636.0 564.7L637.0 562.2L638.0 560.3L639.0 562.1L640.0 562.5L641.0 560.8L642.0 558.9L643.0 558.9L644.0 556.8L645.0 556.1L646.0 558.3L647.0 559.6L648.0 559.9L649.0 558.2L650.0 560.3L651.0 558.9L652.0 557.0L653.0 555.5L654.0 554.2L655.0 553.8L656.0 551.3L657.0 548.0L658.0 543.8L659.0 537.6L660.0 530.0L661.0 520.0L662.0 506.6L663.0 490.0L664.0 466.0L665.0 435.4L665.5 420.0L666.0 404.6L667.0 372.1L668.0 340.0L669.0 308.3L670.0 280.0L671.0 254.4L672.0 240.0L673.0 239.0L674.0 240.0L675.0 258.1L676.0 290.0L677.0 323.5L678.0 360.0L679.0 396.6L680.0 430.0L681.0 456.8L682.0 479.9L682.5 490.0L683.0 499.5L684.0 517.1L685.0 530.0L686.0 538.7L687.0 545.5L688.0 550.0L689.0 553.1L690.0 554.2L691.0 555.3L692.0 554.9L693.0 555.5L694.0 559.3L695.0 560.3L696.0 562.6L697.0 562.1L698.0 561.5L699.0 562.4L700.0 561.2L701.0 558.0L702.0 559.5L703.0 561.6L704.0 560.3L705.0 559.3L706.0 559.7L707.0 561.5L708.0 561.2L709.0 560.9L710.0 562.2L711.0 563.7L712.0 563.3L713.0 566.4L714.0 564.6L715.0 559.7L716.0 559.1L717.0 560.1L718.0 560.3L719.0 555.9L720.0 554.9L721.0 558.2L722.0 560.8L723.0 558.2L724.0 555.6L725.0 557.0L726.0 556.2L727.0 556.3L728.0 556.3L729.0 554.9L730.0 552.6L731.0 552.7L732.0 551.6L733.0 549.0L734.0 545.9L735.0 542.5L736.0 538.9L737.0 535.0L738.0 529.7L739.0 522.9L740.0 515.9L741.0 510.0L742.0 505.0L743.0 500.6L744.0 498.2L745.0 497.4L746.0 495.8L746.5 495.6L747.0 496.6L748.0 499.2L749.0 503.0L750.0 507.9L751.0 514.1L752.0 520.0L753.0 525.7L754.0 531.2L755.0 535.0L756.0 537.1L757.0 538.3L758.0 539.8L759.0 538.6L760.0 537.1L761.0 535.4L762.0 533.0L763.0 529.4L764.0 524.5L765.0 519.3L766.0 515.0L767.0 511.2L768.0 507.7L769.0 506.1L770.0 504.4L771.0 503.7L771.5 505.6L772.0 505.6L773.0 507.6L774.0 510.0L775.0 513.8L776.0 519.2L777.0 524.9L778.0 530.0L779.0 534.5L780.0 539.1L781.0 543.3L782.0 546.6L783.0 549.9L784.0 552.1L785.0 553.5L786.0 558.0L787.0 561.0L788.0 562.1L789.0 562.3L790.0 559.8L791.0 561.6L792.0 563.1L793.0 566.9L794.0 568.6L795.0 567.4L796.0 567.1L797.0 565.3L798.0 565.5L799.0 566.4L800.0 567.5L801.0 566.7L802.0 564.5L803.0 563.1L804.0 563.7L805.0 565.7L806.0 566.0L807.0 564.5L808.0 562.1L809.0 561.2L810.0 561.5L811.0 560.0L812.0 558.1L813.0 556.6L814.0 556.3L815.0 554.3L816.0 551.6L817.0 550.8L818.0 549.5L819.0 548.7L820.0 545.4L821.0 541.3L822.0 536.6L823.0 533.4L824.0 530.0L825.0 525.9L826.0 521.2L827.0 516.0L828.0 510.6L829.0 505.0L830.0 499.1L831.0 492.8L832.0 486.4L833.0 480.0L834.0 473.5L835.0 466.8L836.0 460.4L837.0 455.0L838.0 450.2L839.0 445.9L840.0 443.0L841.0 441.3L841.5 441.0L842.0 441.5L843.0 444.0L844.0 448.0L845.0 453.7L846.0 460.0L847.0 466.9L848.0 474.7L849.0 482.6L850.0 490.0L851.0 496.9L852.0 503.6L853.0 509.7L854.0 515.0L855.0 519.6L856.0 523.7L857.0 527.5L858.0 530.6L859.0 533.2L860.0 535.1L861.0 535.6L862.0 535.8L863.0 536.5L864.0 538.1L865.0 542.0L866.0 543.9L867.0 541.3L868.0 542.4L869.0 544.4L870.0 540.7L871.0 542.5L872.0 545.4L873.0 546.4L874.0 548.0L875.0 546.0L876.0 548.7L877.0 549.4L878.0 549.0L879.0 552.0L880.0 553.9L881.0 554.8L882.0 553.8L883.0 551.4L884.0 553.6L885.0 553.4L886.0 552.6L887.0 551.6L888.0 549.4L889.0 548.3L890.0 545.0L891.0 542.1L892.0 537.9L893.0 531.9L893.4 529.0L894.0 522.0L895.0 502.4L896.0 478.0L897.0 448.6L897.5 430.0L898.0 407.0L899.0 350.0L900.0 279.8L901.0 210.7L901.2 200.0L902.0 164.6L903.0 128.0L903.8 100.0L904.0 92.8L905.0 58.6L905.6 38.0L906.0 21.7L907.0 -24.4L907.9 -45.0L908.0 -44.7L909.0 -19.2L910.0 28.3L910.2 38.0L911.0 87.5L911.2 100.0L912.0 145.3L913.0 200.0L914.0 255.6L915.0 311.0L915.9 360.0L916.0 365.4L917.0 423.6L918.0 470.0L919.0 498.1L920.0 516.0L921.0 525.9L922.0 532.6L922.5 535.0L923.0 536.9L924.0 539.9L925.0 542.8L926.0 544.7L927.0 547.6L928.0 549.2L929.0 549.8L930.0 550.3L931.0 548.7L932.0 548.2L933.0 551.0L934.0 553.2L935.0 553.0L936.0 554.3L937.0 554.6L938.0 554.8L939.0 556.4L940.0 555.5L941.0 552.7L941.7 555.9L942.0 559.4L943.0 554.0L944.0 553.2L945.0 557.4L946.0 557.7L947.0 558.1L948.0 557.2L949.0 556.7L950.0 558.0L951.0 557.6L952.0 557.4L953.0 557.9L954.0 559.5L955.0 558.5L956.0 556.7L957.0 557.5L958.0 557.7L959.0 557.7L960.0 558.5L961.0 559.3L962.0 557.8L963.0 552.6L964.0 552.3L965.0 555.4L966.0 554.8L967.0 553.6L968.0 550.1L969.0 550.4L970.0 552.6L971.0 549.2L972.0 547.8L973.0 547.9L974.0 549.1L975.0 550.2L976.0 550.6L977.0 549.9L978.0 545.1L979.0 541.4L980.0 543.6L981.0 546.4L982.0 543.4L983.0 540.8L984.0 537.9L985.0 533.4L986.0 532.7L987.0 533.6L988.0 533.3L989.0 532.3L990.0 531.2L991.0 531.1L992.0 532.5L992.5 531.0L993.0 531.1L994.0 528.9L995.0 524.2L996.0 524.3L997.0 523.1L998.0 522.7L999.0 520.7L1000.0 519.3L1001.0 518.7L1002.0 517.9L1003.0 514.6L1004.0 510.3L1005.0 508.0L1006.0 504.6L1007.0 500.3L1008.0 495.3L1009.0 490.0L1010.0 484.1L1011.0 477.3L1012.0 470.0L1013.0 462.6L1014.0 454.5L1015.0 445.0L1016.0 432.5L1017.0 417.6L1017.5 410.0L1018.0 402.3L1019.0 386.1L1020.0 370.0L1021.0 353.9L1022.0 338.1L1023.0 325.0L1024.0 313.3L1025.0 304.4L1025.5 303.0L1026.0 303.2L1026.8 304.0L1027.0 304.1L1028.0 305.0L1029.0 314.1L1030.0 330.0L1031.0 347.9L1032.0 369.0L1032.5 380.0L1033.0 391.6L1034.0 417.0L1035.0 440.0L1036.0 459.1L1037.0 476.1L1038.0 490.0L1039.0 501.1L1040.0 510.5L1041.0 518.0L1042.0 524.1L1043.0 529.2L1044.0 533.0L1045.0 535.8L1046.0 538.9L1047.0 540.9L1048.0 540.8L1048.4 541.7L1049.0 543.1L1050.0 541.9L1051.0 544.5L1052.0 548.1L1053.0 547.8L1054.0 548.5L1055.0 548.0L1056.0 547.7L1057.0 548.5L1058.0 549.5L1059.0 551.3L1060.0 551.8L1061.0 550.4L1062.0 552.8L1063.0 551.5L1064.0 547.3L1065.0 549.7L1066.0 551.5L1067.0 548.9L1068.0 549.0L1068.7 550.6L1069.0 552.7L1070.0 553.1L1071.0 553.3L1072.0 555.0L1073.0 553.7L1074.0 553.4L1075.0 554.5L1076.0 551.7L1077.0 551.9L1078.0 554.8L1079.0 557.1L1080.0 557.0L1081.0 556.4L1082.0 554.3L1083.0 554.1L1084.0 558.2L1085.0 557.0L1086.0 556.8L1087.0 557.1L1088.0 558.2L1089.0 558.7L1090.0 556.1L1091.0 556.4L1092.0 562.1L1093.0 562.8L1094.0 560.6L1095.0 560.3L1096.0 560.5L1097.0 561.6L1098.0 561.4L1099.0 562.6L1100.0 562.0L1101.0 560.9L1102.0 563.0L1103.0 563.0L1104.0 560.8L1105.0 562.0L1106.0 562.4L1106.8 561.1L1107.0 561.3L1108.0 561.7L1109.0 562.2L1110.0 561.5L1111.0 562.9L1112.0 565.6L1113.0 564.0L1114.0 562.1L1115.0 561.8L1116.0 560.9L1117.0 562.5L1118.0 562.1L1119.0 559.2L1120.0 557.7L1121.0 557.6L1122.0 558.2L1123.0 559.8L1124.0 557.7L1125.0 554.8L1126.0 555.0L1127.0 553.7L1128.0 556.4L1129.0 558.3L1130.0 558.8L1131.0 556.5L1132.0 555.3L1133.0 555.9L1134.0 553.2L1135.0 552.4L1136.0 551.3L1137.0 550.4L1138.0 551.5L1139.0 551.0L1140.0 549.9L1141.0 551.1L1142.0 551.7L1143.0 551.3L1144.0 550.2L1145.0 550.1L1146.0 549.0L1147.0 548.0L1148.0 545.9L1149.0 543.5L1150.0 546.2L1151.0 545.5L1152.0 541.4L1153.0 540.4L1154.0 537.8L1155.0 534.1L1156.0 530.0L1157.0 524.1L1158.0 515.6L1159.0 505.0L1160.0 491.1L1161.0 471.8L1161.5 460.0L1162.0 444.6L1163.0 402.6L1163.5 380.0L1164.0 356.8L1165.0 306.2L1165.5 280.0L1166.0 252.6L1167.0 195.8L1167.5 170.0L1168.0 145.2L1169.0 99.7L1169.5 85.0L1170.0 74.8L1171.0 60.1L1171.4 58.5L1172.0 62.0L1173.0 78.8L1173.3 85.0L1174.0 107.5L1175.0 155.2L1175.3 170.0L1176.0 206.8L1177.0 263.8L1177.3 280.0L1178.0 316.6L1179.0 366.3L1179.3 380.0L1180.0 411.4L1181.0 450.9L1181.3 460.0L1182.0 477.7L1183.0 497.8L1183.5 505.0L1184.0 510.9L1185.0 520.8L1186.0 527.0L1187.0 530.5L1188.0 533.0L1189.0 535.2L1190.0 537.0L1191.0 539.9L1192.0 543.8L1193.0 541.0L1194.0 543.6L1195.0 546.1L1196.0 543.7L1197.0 543.5L1198.0 546.0L1199.0 550.1L1200.0 549.1L1201.0 545.9L1202.0 544.6L1203.0 546.4L1204.0 548.2L1205.0 543.6L1206.0 540.3L1207.0 539.0L1208.0 536.5L1209.0 536.0L1210.0 534.9L1211.0 532.5L1212.0 530.0L1213.0 529.3L1214.0 527.8L1215.0 525.5L1216.0 525.1L1217.0 522.8L1217.5 522.0L1218.0 523.3L1219.0 524.7L1220.0 525.0L1221.0 525.0L1222.0 530.6L1223.0 536.2L1224.0 538.6L1225.0 542.9L1226.0 545.0L1227.0 544.5L1228.0 546.4L1229.0 545.6L1230.0 544.9L1231.0 549.5L1232.0 552.1L1233.0 550.3L1234.0 552.0L1235.0 555.8L1236.0 556.5L1237.0 555.6L1238.0 553.8L1239.0 554.2L1240.0 556.1L1241.0 555.6L1242.0 556.0L1243.0 557.0L1244.0 556.8L1245.0 553.7L1246.0 554.9L1247.0 560.0L1248.0 558.1L1249.0 553.9L1250.0 555.4L1251.0 556.8L1252.0 554.7L1253.0 557.0L1254.0 556.5L1255.0 555.9L1256.0 556.1L1257.0 557.2L1258.0 559.6L1259.0 557.3L1260.0 556.9L1261.0 558.0L1262.0 559.0L1263.0 559.3L1264.0 559.0L1265.0 557.3L1266.0 557.5L1267.0 556.4L1268.0 556.9L1269.0 559.9L1270.0 560.4L1271.0 558.5L1272.0 556.9L1273.0 558.9L1274.0 559.1L1275.0 557.4L1276.0 557.4L1277.0 558.1L1278.0 559.1L1279.0 558.2L1280.0 557.3L1281.0 558.6L1282.0 559.2L1283.0 558.7L1284.0 557.9L1285.0 557.9L1286.0 557.8L1287.0 557.9L1288.0 557.5L1289.0 561.3L1290.0 560.6L1291.0 555.2L1292.0 555.3L1293.0 555.9L1294.0 557.0L1295.0 559.9L1296.0 562.2L1297.0 560.6L1298.0 555.0L1299.0 555.2L1300.0 556.8L1301.0 555.6L1302.0 555.8L1303.0 557.0L1304.0 557.7L1305.0 558.2L1306.0 559.7L1307.0 558.3L1308.0 557.8L1309.0 559.3L1310.0 558.7L1311.0 558.7L1312.0 559.1L1313.0 558.3L1314.0 559.4L1315.0 560.8L1316.0 560.4L1317.0 558.7L1318.0 558.9L1319.0 556.7L1320.0 558.0L1321.0 558.2L1322.0 557.2L1323.0 558.2L1324.0 557.7L1325.0 558.3L1326.0 558.0L1327.0 557.0L1328.0 553.7L1329.0 555.3L1330.0 557.3L1331.0 555.9L1332.0 555.7L1333.0 559.2L1334.0 559.3L1335.0 557.1L1336.0 556.3L1337.0 557.8L1338.0 558.6L1339.0 553.1L1340.0 557.4L1341.0 559.4L1342.0 557.4L1343.0 559.8L1344.0 558.9L1345.0 557.6L1346.0 556.8L1347.0 558.5L1348.0 557.6L1349.0 555.8L1350.0 557.0L1351.0 556.2L1352.0 553.9L1353.0 555.1L1354.0 555.5L1355.0 552.8L1356.0 550.8L1357.0 549.1L1358.0 550.9L1359.0 553.0L1360.0 548.4L1361.0 545.8L1362.0 549.5L1363.0 553.1L1364.0 554.4L1365.0 552.2L1365.7 551.1L1366.0 549.2L1367.0 548.7L1368.0 548.3L1369.0 547.4L1370.0 550.4L1371.0 554.9L1372.0 556.3L1373.0 554.4L1374.0 553.6L1375.0 551.9L1376.0 553.4L1377.0 555.1L1378.0 555.1L1379.0 554.7L1380.0 554.9L1381.0 554.4L1382.0 555.1L1383.0 559.2L1384.0 559.9L1385.0 561.1L1386.0 560.3L1387.0 558.2L1388.0 558.5L1389.0 556.7L1390.0 559.0L1391.0 561.5L1392.0 558.4L1393.0 555.9L1394.0 557.0L1395.0 559.4L1396.0 558.9L1397.0 558.0L1398.0 557.6L1399.0 557.4L1400.0 559.5L1401.0 561.4L1402.0 557.6L1403.0 556.0L1404.0 556.4L1405.0 554.4L1406.0 556.8L1407.0 557.5L1408.0 552.5L1409.0 554.6L1410.0 560.5L1411.0 562.4L1412.0 560.2L1413.0 559.4L1414.0 556.4L1415.0 553.1L1416.0 557.3L1417.0 559.3L1418.0 560.4L1419.0 561.0L1420.0 559.2L1421.0 559.9L1422.0 561.0L1423.0 561.2L1424.0 559.2L1425.0 557.3L1426.0 557.8L1427.0 558.5L1428.0 558.8L1429.0 557.4L1430.0 555.9L1431.0 556.6L1432.0 559.9L1433.0 560.8L1434.0 555.3L1435.0 551.8L1436.0 558.5L1437.0 560.4L1438.0 557.5L1439.0 559.4L1440.0 559.8L1441.0 557.4L1442.0 556.9L1443.0 560.3L1444.0 558.7L1445.0 557.9L1446.0 559.3L1447.0 557.2L1448.0 560.1L1449.0 559.6L1450.0 558.3L1451.0 558.6L1452.0 555.6L1453.0 555.9L1454.0 559.3L1455.0 559.3L1456.0 558.5L1457.0 559.0L1458.0 558.3L1459.0 557.5L1460.0 557.6L1461.0 555.5L1462.0 554.7L1463.0 555.0L1464.0 556.0L1465.0 558.9L1466.0 557.5L1467.0 558.1L1468.0 559.8L1469.0 559.1L1470.0 558.2L1471.0 558.5L1472.0 560.4L1473.0 558.9L1474.0 556.5L1475.0 559.0L1476.0 557.0L1477.0 552.0L1478.0 552.7L1479.0 556.5L1480.0 559.2L1481.0 559.7L1482.0 559.6L1483.0 561.0L1484.0 563.1L1485.0 562.6L1486.0 559.0L1487.0 557.9L1488.0 558.3L1489.0 557.2L1490.0 557.0L1491.0 557.6L1492.0 559.7L1493.0 559.8L1494.0 557.4L1495.0 555.2L1496.0 555.7L1497.0 556.7L1498.0 558.7L1499.0 559.2L1500.0 557.8L1501.0 557.9L1502.0 559.5L1503.0 561.8L1504.0 560.7L1505.0 558.1L1506.0 559.2L1507.0 560.0L1508.0 557.4L1509.0 558.0L1510.0 558.6L1511.0 555.1L1512.0 555.4L1513.0 557.4L1514.0 553.6L1515.0 549.8L1516.0 551.9L1517.0 554.9L1518.0 554.4L1519.0 551.1L1520.0 548.7L1521.0 546.9L1522.0 543.6L1523.0 540.0L1524.0 535.3L1525.0 529.2L1526.0 522.3L1527.0 515.0L1528.0 506.7L1529.0 497.6L1530.0 490.0L1531.0 483.6L1532.0 478.8L1532.5 478.0L1533.0 478.0L1533.8 478.0L1534.0 478.0L1535.0 479.4L1536.0 482.0L1537.0 487.7L1538.0 496.6L1539.0 505.0L1540.0 511.9L1541.0 518.7L1542.0 524.8L1543.0 530.0L1544.0 534.6L1545.0 538.8L1546.0 542.6L1547.0 545.4L1548.0 548.0L1549.0 551.6L1550.0 553.3L1551.0 552.2L1552.0 552.4L1553.0 552.7L1554.0 555.1L1555.0 555.5L1555.5 554.2L1556.0 554.0L1557.0 551.5L1558.0 549.0L1559.0 549.5L1560.0 552.2L1561.0 551.9L1562.0 549.3L1563.0 545.3L1564.0 541.3L1565.0 539.3L1566.0 539.7L1567.0 542.9L1568.0 541.8L1569.0 537.0L1570.0 538.9L1571.0 539.4L1572.0 538.4L1573.0 539.2L1574.0 538.5L1575.0 543.7L1576.0 542.6L1577.0 537.2L1578.0 538.7L1579.0 539.5L1580.0 538.4L1581.0 537.5L1582.0 538.9L1583.0 541.2L1584.0 539.2L1585.0 536.2L1586.0 539.9L1587.0 539.5L1588.0 538.0L1589.0 540.5L1590.0 538.1L1591.0 539.0L1592.0 540.2L1593.0 539.3L1594.0 540.7L1595.0 545.5L1596.0 549.6L1597.0 552.8L1598.0 554.4L1599.0 555.1L1600.0 559.2L1601.0 558.8L1602.0 555.2L1603.0 554.4L1604.0 556.9L1605.0 557.5L1606.0 554.3L1607.0 550.0L1608.0 550.6L1609.0 554.2L1610.0 554.5L1611.0 551.7L1612.0 548.1L1613.0 545.4L1614.0 543.7L1615.0 541.6L1616.0 544.3L1617.0 545.8L1618.0 545.6L1619.0 545.1L1620.0 539.4L1621.0 541.7L1622.0 542.3L1623.0 538.8L1624.0 541.6L1625.0 543.5L1626.0 537.9L1627.0 535.1L1628.0 535.4L1629.0 535.0L1630.0 537.6L1631.0 534.7L1632.0 532.3L1633.0 528.9L1634.0 526.7L1635.0 523.8L1636.0 517.1L1637.0 515.2L1638.0 510.9L1639.0 510.2L1640.0 508.9L1641.0 506.0L1642.0 504.7L1643.0 504.1L1644.0 505.5L1645.0 506.4L1646.0 508.0L1647.0 511.3L1648.0 516.5L1649.0 522.0L1650.0 527.4L1651.0 533.0L1652.0 538.0L1653.0 542.3L1654.0 546.2L1655.0 548.3L1656.0 549.5L1657.0 551.2L1658.0 552.5L1659.0 554.3L1660.0 555.6L1661.0 554.8L1662.0 555.6L1663.0 558.2L1664.0 559.8L1665.0 558.8L1666.0 557.8L1667.0 562.6L1667.6 561.6L1668.0 560.4L1669.0 563.8L1670.0 562.8L1671.0 562.3L1672.0 563.7L1673.0 564.5L1674.0 562.6L1675.0 560.4L1676.0 561.9L1677.0 561.1L1678.0 560.1L1679.0 560.1L1680.0 556.9L1681.0 558.3L1682.0 563.7L1683.0 562.8L1684.0 560.6L1685.0 560.5L1686.0 559.4L1687.0 560.2L1688.0 562.6L1689.0 565.4L1690.0 565.1L1691.0 560.8L1692.0 557.8L1693.0 560.8L1694.0 563.2L1695.0 560.6L1696.0 558.8L1697.0 558.5L1698.0 561.5L1699.0 562.4L1700.0 558.7L1701.0 559.6L1702.0 561.6L1703.0 559.6L1704.0 559.6L1705.0 558.4L1706.0 558.4L1707.0 557.0L1708.0 554.0L1709.0 553.5L1710.0 553.6L1711.0 553.8L1712.0 553.1L1713.0 553.3L1714.0 553.6L1715.0 552.8L1716.0 551.4L1717.0 552.4L1718.0 550.8L1719.0 545.7L1720.0 546.1L1721.0 549.4L1722.0 547.4L1723.0 545.5L1723.6 544.2L1724.0 543.6L1725.0 547.0L1726.0 549.9L1727.0 550.7L1728.0 553.5L1729.0 553.9L1730.0 551.7L1731.0 550.3L1732.0 548.3L1733.0 547.4L1734.0 544.5L1735.0 542.7L1736.0 544.4L1737.0 544.6L1738.0 541.7L1739.0 540.5L1740.0 536.9L1741.0 536.0L1742.0 537.3L1743.0 532.5L1744.0 532.5L1745.0 536.8L1746.0 536.9L1747.0 539.9L1748.0 544.4L1749.0 541.9L1750.0 543.7L1751.0 547.8L1752.0 547.8L1753.0 548.8L1754.0 550.3L1755.0 550.3L1756.0 551.3L1757.0 554.9L1758.0 558.3L1759.0 560.1L1760.0 558.2L1761.0 556.8L1762.0 557.1L1763.0 559.3L1764.0 558.8L1765.0 556.1L1766.0 558.5L1767.0 560.7"/>
<path class="c" stroke="#000" stroke-width="7.3" stroke-linecap="butt" d="M19.0 1006.9L19.5 1006.9L20.0 1006.9L20.5 1006.9L21.0 1006.9L21.5 1006.9L22.0 1006.9L22.5 1006.9L23.0 1006.9L23.5 1006.9L24.0 1006.9L24.5 1006.9L25.0 1006.9L25.5 1006.9L26.0 1006.9L26.5 1006.9L27.0 1006.9L27.5 1006.9L28.0 1006.9L28.5 1006.9L29.0 1006.9L29.5 1006.9L30.0 1006.9L30.5 1006.9L31.0 1006.9L31.5 1006.9L32.0 1006.9L32.5 1006.9L33.0 1006.9L33.5 1006.9L34.0 1006.9L34.5 1006.9L35.0 1006.9L35.5 1006.9L36.0 1006.9L36.5 1006.9L37.0 1006.9L37.5 1006.9L38.0 1006.9L38.5 1006.9L39.0 1006.9L39.5 1006.9L40.0 1006.9L40.5 1006.9L41.0 1006.9L41.5 1006.9L42.0 1006.9L42.5 1006.9L43.0 1006.9L43.5 1006.9L44.0 1006.9L44.5 1006.9L45.0 1006.9L45.5 1006.9L46.0 1006.9L46.5 1006.9L47.0 1006.9L47.5 1006.9L48.0 1006.9L48.5 1006.9L49.0 1006.9L49.5 1006.9L50.0 1006.9L50.5 1006.9L51.0 1006.9L51.5 1006.9L52.0 1006.9L52.5 1006.9L53.0 1006.9L53.5 1006.9L54.0 1006.9L54.5 1006.9L55.0 1006.9L55.5 1006.9L56.0 1006.9L56.5 1006.9L57.0 1006.9L57.5 1006.9L58.0 1006.9L58.5 1006.9L59.0 1006.9L59.5 1006.9L60.0 1006.9L60.5 1006.9L61.0 1006.9L61.5 1006.9L62.0 1006.9L62.5 1006.9L63.0 1006.9L63.5 1006.9L64.0 1006.9L64.5 1006.9L65.0 1006.9L65.5 1006.9L66.0 1006.9L66.5 1006.9L67.0 1006.9L67.5 1006.9L68.0 1006.9L68.5 1006.9L69.0 1006.9L69.5 1006.9L70.0 1006.9L70.5 1006.9L71.0 1006.9L71.5 1006.9L72.0 1006.9L72.5 1006.9L73.0 1006.9L73.5 1006.9L74.0 1006.9L74.5 1006.9L75.0 1006.9L75.5 1006.9L76.0 1006.9L76.5 1006.9L77.0 1006.9L77.5 1006.9L78.0 1006.9L78.5 1006.9L79.0 1006.9L79.5 1006.9L80.0 1006.9L80.5 1006.9L81.0 1006.9L81.5 1006.9L82.0 1006.9L82.5 1006.9L83.0 1006.9L83.5 1006.9L84.0 1006.9L84.5 1006.9L85.0 1006.9L85.5 1006.9L86.0 1006.9L86.5 1006.9L87.0 1006.9L87.5 1006.9L88.0 1006.9L88.5 1006.9L89.0 1006.9L89.5 1006.9L90.0 1016.5L90.5 1016.6L91.0 1016.7L91.5 1016.8L92.0 1016.9L92.5 1017.1L93.0 1017.2L93.5 1017.3L94.0 1017.4L94.5 1017.5L95.0 1017.6L95.5 1017.7L96.0 1017.9L96.5 1018.0L97.0 1018.1L97.5 1018.3L98.0 1018.4L98.5 1018.5L99.0 1018.6L99.5 1018.8L100.0 1018.9L100.5 1019.1L101.0 1019.2L101.5 1019.4L102.0 1019.5L102.5 1019.7L103.0 1019.8L103.5 1020.0L104.0 1020.1L104.5 1020.3L105.0 1020.5L105.5 1020.6L106.0 1020.8L106.5 1021.0L107.0 1021.2L107.5 1021.4L108.0 1021.6L108.5 1021.7L109.0 1021.9L109.5 1022.1L110.0 1022.3L110.5 1022.6L111.0 1022.8L111.5 1023.0L112.0 1023.2L112.5 1023.4L113.0 1023.7L113.5 1023.9L114.0 1024.1L114.5 1024.4L115.0 1024.6L115.5 1024.9L116.0 1025.1L116.5 1025.4L117.0 1025.7L117.5 1026.0L118.0 1026.2L118.5 1026.5L119.0 1026.8L119.5 1027.1L120.0 1027.4L120.5 1027.8L121.0 1028.1L121.5 1028.4L122.0 1028.8L122.5 1029.1L123.0 1029.5L123.5 1029.8L124.0 1030.2L124.5 1030.6L125.0 1031.0L125.5 1031.4L126.0 1031.8L126.5 1032.3L127.0 1032.7L127.5 1033.1L128.0 1033.6L128.5 1034.1L129.0 1034.6L129.5 1035.1L130.0 1035.6L130.5 1036.1L131.0 1036.6L131.5 1037.2L132.0 1037.8L132.5 1038.4L133.0 1039.0L133.5 1039.6L134.0 1040.2L134.5 1040.9L135.0 1041.6L135.5 1042.3L136.0 1043.0L136.5 1043.7L137.0 1044.5L137.5 1045.3L138.0 1046.1L138.5 1047.0L139.0 1047.8L139.5 1048.7L140.0 1049.7L140.5 1050.6L141.0 1051.6L141.5 1052.7L142.0 1053.7L142.5 1054.8L143.0 1056.0L143.5 1057.2L144.0 1058.4L144.5 1059.7L145.0 1061.0L145.5 1062.3L146.0 1063.8L146.5 1065.2L147.0 1066.8L147.5 1068.4L148.0 1070.0L148.5 1071.8L149.0 1073.6L149.5 1075.4L150.0 1077.4L150.5 1079.4L151.0 1081.6L151.5 1083.8L152.0 1086.1L152.5 1088.6L153.0 1091.1L153.5 1093.8L154.0 1096.6L154.5 1099.5L155.0 1102.6L155.5 1105.9L156.0 1109.3L156.5 1112.8L157.0 1116.6L157.5 1120.6L158.0 1124.8L158.5 1129.2L159.0 1133.9L159.5 1138.9L160.0 1144.1L160.5 1149.7L161.0 1155.6L161.5 1161.9L162.0 1168.6L162.5 1175.8L163.0 1183.4L163.5 1191.5L164.0 1200.2L164.5 1209.6L165.0 1219.6L165.5 1230.4L166.0 1242.0L166.5 1254.6L167.0 1268.2L167.5 1282.9L168.0 1298.9L168.5 1316.2L169.0 1335.2L169.5 1356.0L170.0 1378.7L170.5 1403.7L171.0 1431.3L171.5 1461.8L172.0 1495.7L172.5 1533.4L173.0 1575.5L173.5 1600.0L174.0 1600.0L174.5 1600.0L175.0 1600.0L175.5 1600.0L176.0 1600.0L176.5 1600.0L177.0 1600.0L177.5 1600.0L178.0 1600.0L178.5 1600.0L179.0 1600.0L179.5 1600.0L180.0 1600.0L180.5 1600.0L181.0 1600.0L181.5 1600.0L182.0 1600.0L182.5 1600.0L183.0 1600.0L183.5 1600.0L184.0 1600.0L184.5 1600.0L185.0 1600.0L185.5 1600.0L186.0 1600.0L186.5 1600.0L187.0 1600.0L187.5 1600.0L188.0 1600.0L188.5 1600.0L189.0 1600.0L189.5 1600.0L190.0 1600.0L190.5 1600.0L191.0 1600.0L191.5 1600.0L192.0 1600.0L192.5 1600.0L193.0 1600.0L193.5 1600.0L194.0 1600.0L194.5 1600.0L195.0 1600.0L195.5 1600.0L196.0 1600.0L196.5 1600.0L197.0 1575.5L197.5 1533.4L198.0 1495.7L198.5 1461.8L199.0 1431.3L199.5 1403.7L200.0 1378.7L200.5 1356.0L201.0 1335.2L201.5 1316.2L202.0 1298.9L202.5 1282.9L203.0 1268.2L203.5 1254.6L204.0 1242.0L204.5 1230.4L205.0 1219.6L205.5 1209.6L206.0 1200.2L206.5 1191.5L207.0 1183.4L207.5 1175.8L208.0 1168.6L208.5 1161.9L209.0 1155.6L209.5 1149.7L210.0 1144.1L210.5 1138.9L211.0 1133.9L211.5 1129.2L212.0 1124.8L212.5 1120.6L213.0 1116.6L213.5 1112.8L214.0 1109.3L214.5 1105.9L215.0 1102.6L215.5 1099.5L216.0 1096.6L216.5 1093.8L217.0 1091.1L217.5 1088.6L218.0 1086.1L218.5 1083.8L219.0 1081.6L219.5 1079.4L220.0 1077.4L220.5 1075.4L221.0 1073.6L221.5 1071.8L222.0 1070.0L222.5 1068.4L223.0 1066.8L223.5 1065.2L224.0 1063.8L224.5 1062.3L225.0 1061.0L225.5 1059.7L226.0 1058.4L226.5 1057.2L227.0 1056.0L227.5 1054.8L228.0 1053.7L228.5 1052.7L229.0 1051.6L229.5 1050.6L230.0 1049.7L230.5 1048.7L231.0 1047.8L231.5 1047.0L232.0 1046.1L232.5 1045.3L233.0 1044.5L233.5 1043.7L234.0 1043.0L234.5 1042.3L235.0 1041.6L235.5 1040.9L236.0 1040.2L236.5 1039.6L237.0 1039.0L237.5 1038.4L238.0 1037.8L238.5 1037.2L239.0 1036.6L239.5 1036.1L240.0 1035.6L240.5 1035.1L241.0 1034.6L241.5 1034.1L242.0 1033.6L242.5 1033.1L243.0 1032.7L243.5 1032.3L244.0 1031.8L244.5 1031.4L245.0 1031.0L245.5 1030.6L246.0 1030.2L246.5 1029.8L247.0 1029.5L247.5 1029.1L248.0 1028.8L248.5 1028.4L249.0 1028.1L249.5 1027.8L250.0 1027.4L250.5 1027.1L251.0 1026.8L251.5 1026.5L252.0 1026.2L252.5 1026.0L253.0 1025.7L253.5 1025.4L254.0 1025.1L254.5 1024.9L255.0 1024.6L255.5 1024.4L256.0 1024.1L256.5 1023.9L257.0 1023.7L257.5 1023.4L258.0 1023.2L258.5 1023.0L259.0 1022.8L259.5 1022.6L260.0 1022.3L260.5 1022.1L261.0 1021.9L261.5 1021.7L262.0 1021.6L262.5 1021.4L263.0 1021.2L263.5 1021.0L264.0 1020.8L264.5 1020.6L265.0 1020.5L265.5 1020.3L266.0 1020.1L266.5 1020.0L267.0 1019.8L267.5 1019.7L268.0 1019.5L268.5 1019.4L269.0 1019.2L269.5 1019.1L270.0 1018.9L270.5 1018.8L271.0 1018.6L271.5 1018.5L272.0 1018.4L272.5 1018.3L273.0 1018.1L273.5 1018.0L274.0 1017.9L274.5 1017.7L275.0 1017.6L275.5 1017.5L276.0 1017.4L276.5 1017.3L277.0 1017.2L277.5 1017.1L278.0 1016.9L278.5 1016.8L279.0 1016.7L279.5 1016.6L280.0 1016.5L280.5 1006.9L281.0 1006.9L281.5 1006.9L282.0 1006.9L282.5 1006.9L283.0 1006.9L283.5 1006.9L284.0 1006.9L284.5 1006.9L285.0 1006.9L285.5 1006.9L286.0 1006.9L286.5 1006.9L287.0 1006.9L287.5 1006.9L288.0 1006.9L288.5 1006.9L289.0 1006.9L289.5 1006.9L290.0 1006.9L290.5 1006.9L291.0 1006.9L291.5 1006.9L292.0 1006.9L292.5 1006.9L293.0 1006.9L293.5 1006.9L294.0 1006.9L294.5 1006.9L295.0 1006.9L295.5 1006.9L296.0 1006.9L296.5 1006.9L297.0 1006.9L297.5 1006.9L298.0 1006.9L298.5 1006.9L299.0 1006.9L299.5 1006.9L300.0 1006.9L300.5 1006.9L301.0 1006.9L301.5 1006.9L302.0 1006.9L302.5 1006.9L303.0 1006.9L303.5 1006.9L304.0 1006.9L304.5 1006.9L305.0 1006.9L305.5 1006.9L306.0 1006.9L306.5 1006.9L307.0 1006.9L307.5 1006.9L308.0 1006.9L308.5 1006.9L309.0 1006.9L309.5 1006.9L310.0 1006.9L310.5 1006.9L311.0 1006.9L311.5 1006.9L312.0 1006.9L312.5 1006.9L313.0 1006.9L313.5 1006.9L314.0 1006.9L314.5 1006.9L315.0 1006.9L315.5 1006.9L316.0 1006.9L316.5 1006.9L317.0 1006.9L317.5 1006.9L318.0 1006.9L318.5 1006.9L319.0 1006.9L319.5 1006.9L320.0 1006.9L320.5 1006.9L321.0 1006.9L321.5 1006.9L322.0 1006.9L322.5 1006.9L323.0 1006.9L323.5 1006.9L324.0 1006.9L324.5 1006.9L325.0 1006.9L325.5 1006.9L326.0 1006.9L326.5 1006.9L327.0 1006.9L327.5 1006.9L328.0 1006.9L328.5 1006.9L329.0 1006.9L329.5 1006.9L330.0 1006.9L330.5 1006.9L331.0 1006.9L331.5 1006.9L332.0 1006.9L332.5 1009.8L333.0 1009.8L333.5 1009.8L334.0 1009.9L334.5 1009.9L335.0 1009.9L335.5 1010.0L336.0 1010.0L336.5 1010.0L337.0 1010.1L337.5 1010.1L338.0 1010.1L338.5 1010.2L339.0 1010.2L339.5 1010.3L340.0 1010.3L340.5 1010.3L341.0 1010.4L341.5 1010.4L342.0 1010.5L342.5 1010.5L343.0 1010.5L343.5 1010.6L344.0 1010.6L344.5 1010.7L345.0 1010.7L345.5 1010.8L346.0 1010.8L346.5 1010.9L347.0 1010.9L347.5 1011.0L348.0 1011.0L348.5 1011.1L349.0 1011.1L349.5 1011.2L350.0 1011.2L350.5 1011.3L351.0 1011.3L351.5 1011.4L352.0 1011.5L352.5 1011.5L353.0 1011.6L353.5 1011.6L354.0 1011.7L354.5 1011.8L355.0 1011.8L355.5 1011.9L356.0 1012.0L356.5 1012.0L357.0 1012.1L357.5 1012.2L358.0 1012.3L358.5 1012.4L359.0 1012.4L359.5 1012.5L360.0 1012.6L360.5 1012.7L361.0 1012.8L361.5 1012.9L362.0 1012.9L362.5 1013.0L363.0 1013.1L363.5 1013.2L364.0 1013.3L364.5 1013.4L365.0 1013.5L365.5 1013.6L366.0 1013.8L366.5 1013.9L367.0 1014.0L367.5 1014.1L368.0 1014.2L368.5 1014.4L369.0 1014.5L369.5 1014.6L370.0 1014.7L370.5 1014.9L371.0 1015.0L371.5 1015.2L372.0 1015.3L372.5 1015.5L373.0 1015.6L373.5 1015.8L374.0 1016.0L374.5 1016.1L375.0 1016.3L375.5 1016.5L376.0 1016.7L376.5 1016.9L377.0 1017.1L377.5 1017.3L378.0 1017.5L378.5 1017.7L379.0 1017.9L379.5 1018.1L380.0 1018.4L380.5 1018.6L381.0 1018.9L381.5 1019.1L382.0 1019.4L382.5 1019.7L383.0 1020.0L383.5 1020.3L384.0 1020.6L384.5 1020.9L385.0 1021.2L385.5 1021.6L386.0 1021.9L386.5 1022.3L387.0 1022.7L387.5 1023.1L388.0 1023.5L388.5 1023.9L389.0 1024.3L389.5 1024.8L390.0 1025.3L390.5 1025.8L391.0 1026.3L391.5 1026.8L392.0 1027.4L392.5 1028.0L393.0 1028.6L393.5 1029.2L394.0 1029.9L394.5 1030.6L395.0 1031.3L395.5 1032.1L396.0 1032.9L396.5 1033.7L397.0 1034.6L397.5 1035.5L398.0 1036.5L398.5 1037.5L399.0 1038.6L399.5 1039.7L400.0 1040.9L400.5 1042.1L401.0 1043.5L401.5 1044.9L402.0 1046.3L402.5 1047.9L403.0 1049.6L403.5 1051.3L404.0 1053.2L404.5 1055.2L405.0 1057.4L405.5 1059.6L406.0 1062.1L406.5 1064.7L407.0 1067.5L407.5 1070.5L408.0 1073.7L408.5 1077.2L409.0 1080.9L409.5 1085.0L410.0 1089.4L410.5 1094.2L411.0 1099.3L411.5 1105.0L412.0 1111.2L412.5 1118.0L413.0 1125.5L413.5 1133.7L414.0 1142.9L414.5 1153.0L415.0 1164.2L415.5 1176.8L416.0 1191.0L416.5 1206.9L417.0 1224.9L417.5 1245.4L418.0 1268.9L418.5 1295.8L419.0 1326.9L419.5 1363.1L420.0 1405.4L420.5 1455.2L421.0 1514.2L421.5 1584.7L422.0 1600.0L422.5 1600.0L423.0 1600.0L423.5 1600.0L424.0 1600.0L424.5 1600.0L425.0 1600.0L425.5 1600.0L426.0 1600.0L426.5 1600.0L427.0 1600.0L427.5 1600.0L428.0 1600.0L428.5 1600.0L429.0 1600.0L429.5 1600.0L430.0 1600.0L430.5 1600.0L431.0 1600.0L431.5 1600.0L432.0 1600.0L432.5 1600.0L433.0 1600.0L433.5 1584.7L434.0 1514.4L434.5 1455.4L435.0 1405.6L435.5 1363.3L436.0 1327.1L436.5 1296.0L437.0 1269.1L437.5 1245.7L438.0 1225.2L438.5 1207.1L439.0 1191.2L439.5 1177.1L440.0 1164.5L440.5 1153.2L441.0 1143.1L441.5 1134.0L442.0 1125.7L442.5 1118.3L443.0 1111.5L443.5 1105.3L444.0 1099.6L444.5 1094.4L445.0 1089.6L445.5 1085.2L446.0 1081.2L446.5 1077.4L447.0 1074.0L447.5 1070.7L448.0 1067.8L448.5 1065.0L449.0 1062.4L449.5 1059.9L450.0 1057.7L450.5 1055.5L451.0 1053.5L451.5 1051.7L452.0 1049.9L452.5 1048.2L453.0 1046.7L453.5 1046.0L454.0 1044.6L454.5 1043.3L455.0 1042.0L455.5 1040.9L456.0 1039.7L456.5 1038.7L457.0 1037.7L457.5 1036.7L458.0 1035.8L458.5 1035.0L459.0 1034.1L459.5 1033.4L460.0 1032.6L460.5 1031.9L461.0 1031.2L461.5 1030.6L462.0 1030.0L462.5 1029.4L463.0 1028.8L463.5 1028.3L464.0 1027.7L464.5 1027.2L465.0 1026.8L465.5 1026.3L466.0 1025.9L466.5 1025.4L467.0 1025.0L467.5 1024.6L468.0 1024.3L468.5 1023.9L469.0 1023.6L469.5 1023.2L470.0 1022.9L470.5 1022.6L471.0 1022.3L471.5 1022.0L472.0 1021.8L472.5 1021.5L473.0 1021.3L473.5 1021.0L474.0 1020.8L474.5 1020.6L475.0 1020.3L475.5 1020.1L476.0 1019.9L476.5 1019.7L477.0 1019.6L477.5 1019.4L478.0 1019.2L478.5 1019.1L479.0 1018.9L479.5 1018.8L480.0 1018.6L480.5 1018.5L481.0 1018.3L481.5 1018.2L482.0 1018.1L482.5 1018.0L483.0 1017.9L483.5 1017.8L484.0 1017.7L484.5 1017.6L485.0 1017.5L485.5 1017.4L486.0 1017.3L486.5 1017.2L487.0 1017.2L487.5 1017.1L488.0 1017.1L488.5 1017.0L489.0 1016.9L489.5 1016.9L490.0 1016.9L490.5 1016.8L491.0 1016.8L491.5 1016.8L492.0 1016.7L492.5 1016.7L493.0 1016.7L493.5 1016.7L494.0 1016.7L494.5 1016.7L495.0 1016.7L495.5 1016.7L496.0 1016.7L496.5 1016.8L497.0 1016.8L497.5 1016.8L498.0 1016.9L498.5 1016.9L499.0 1017.0L499.5 1017.0L500.0 1017.1L500.5 1017.2L501.0 1017.2L501.5 1017.3L502.0 1017.4L502.5 1017.5L503.0 1017.7L503.5 1017.8L504.0 1017.9L504.5 1018.1L505.0 1018.2L505.5 1018.4L506.0 1018.6L506.5 1018.8L507.0 1019.0L507.5 1019.2L508.0 1019.5L508.5 1019.7L509.0 1020.0L509.5 1020.3L510.0 1020.6L510.5 1021.0L511.0 1021.4L511.5 1021.8L512.0 1022.2L512.5 1022.7L513.0 1023.3L513.5 1023.8L514.0 1024.5L514.5 1025.1L515.0 1025.9L515.5 1026.7L516.0 1027.6L516.5 1028.6L517.0 1029.7L517.5 1031.0L518.0 1032.4L518.5 1033.9L519.0 1035.7L519.5 1037.7L520.0 1040.0L520.5 1042.6L521.0 1045.6L521.5 1049.1L522.0 1053.2L522.5 1058.0L523.0 1060.8L523.5 1067.7L524.0 1075.9L524.5 1085.9L525.0 1097.9L525.5 1112.4L526.0 1129.6L526.5 1149.6L527.0 1171.7L527.5 1194.1L528.0 1213.5L528.5 1225.8L529.0 1227.9L529.5 1219.3L530.0 1202.8L530.5 1182.7L531.0 1162.3L531.5 1143.8L532.0 1128.1L532.5 1115.3L533.0 1105.1L533.5 1097.2L534.0 1091.3L534.5 1087.0L535.0 1084.1L535.5 1082.5L536.0 1081.8L536.5 1082.2L537.0 1083.5L537.5 1085.8L538.0 1089.0L538.5 1093.2L539.0 1098.5L539.5 1105.0L540.0 1112.9L540.5 1122.5L541.0 1134.1L541.5 1148.0L542.0 1164.7L542.5 1185.0L543.0 1209.7L543.5 1239.7L544.0 1276.4L544.5 1321.2L545.0 1375.6L545.5 1440.8L546.0 1516.7L546.5 1600.0L547.0 1600.0L547.5 1600.0L548.0 1600.0L548.5 1600.0L549.0 1600.0L549.5 1600.0L550.0 1600.0L550.5 1530.9L551.0 1452.5L551.5 1384.6L552.0 1327.6L552.5 1280.4L553.0 1241.6L553.5 1209.6L554.0 1183.3L554.5 1161.4L555.0 1143.1L555.5 1127.8L556.0 1114.8L556.5 1103.7L557.0 1094.2L557.5 1086.0L558.0 1078.9L558.5 1072.6L559.0 1067.2L559.5 1062.4L560.0 1058.1L560.5 1054.3L561.0 1050.9L561.5 1047.9L562.0 1045.1L562.5 1042.7L563.0 1040.4L563.5 1038.4L564.0 1036.5L564.5 1034.8L565.0 1033.3L565.5 1031.9L566.0 1030.6L566.5 1029.3L567.0 1028.2L567.5 1027.2L568.0 1026.2L568.5 1025.3L569.0 1024.5L569.5 1023.7L570.0 1023.0L570.5 1022.3L571.0 1021.7L571.5 1021.1L572.0 1020.5L572.5 1020.0L573.0 1019.5L573.5 1019.0L574.0 1018.5L574.5 1018.1L575.0 1017.7L575.5 1017.3L576.0 1017.0L576.5 1016.7L577.0 1016.3L577.5 1016.0L578.0 1015.7L578.5 1015.5L579.0 1015.2L579.5 1014.9L580.0 1014.7L580.5 1014.5L581.0 1014.2L581.5 1014.0L582.0 1013.8L582.5 1013.6L583.0 1013.5L583.5 1013.3L584.0 1013.1L584.5 1012.9L585.0 1013.8L585.5 1013.6L586.0 1013.5L586.5 1013.4L587.0 1013.3L587.5 1013.1L588.0 1013.0L588.5 1012.9L589.0 1012.8L589.5 1012.7L590.0 1012.6L590.5 1012.5L591.0 1012.4L591.5 1012.4L592.0 1012.3L592.5 1012.2L593.0 1012.1L593.5 1012.0L594.0 1012.0L594.5 1011.9L595.0 1011.8L595.5 1011.8L596.0 1011.7L596.5 1011.7L597.0 1011.6L597.5 1011.6L598.0 1011.5L598.5 1011.5L599.0 1011.4L599.5 1011.4L600.0 1011.3L600.5 1011.3L601.0 1011.3L601.5 1011.2L602.0 1011.2L602.5 1011.2L603.0 1011.1L603.5 1011.1L604.0 1011.1L604.5 1011.1L605.0 1011.0L605.5 1011.0L606.0 1011.0L606.5 1011.0L607.0 1011.0L607.5 1011.0L608.0 1010.9L608.5 1010.9L609.0 1010.9L609.5 1010.9L610.0 1010.9L610.5 1010.9L611.0 1010.9L611.5 1010.9L612.0 1010.9L612.5 1010.9L613.0 1010.9L613.5 1010.9L614.0 1010.9L614.5 1010.9L615.0 1010.9L615.5 1010.9L616.0 1010.9L616.5 1010.9L617.0 1010.9L617.5 1010.9L618.0 1010.9L618.5 1011.0L619.0 1011.0L619.5 1011.0L620.0 1011.0L620.5 1011.0L621.0 1011.1L621.5 1011.1L622.0 1011.1L622.5 1011.1L623.0 1011.2L623.5 1011.2L624.0 1011.0L624.5 1011.1L625.0 1011.1L625.5 1011.1L626.0 1011.2L626.5 1011.2L627.0 1011.3L627.5 1011.3L628.0 1011.3L628.5 1011.4L629.0 1011.5L629.5 1011.5L630.0 1011.6L630.5 1011.6L631.0 1011.7L631.5 1011.8L632.0 1011.8L632.5 1011.9L633.0 1012.0L633.5 1012.0L634.0 1012.1L634.5 1012.2L635.0 1012.3L635.5 1012.4L636.0 1012.5L636.5 1012.6L637.0 1012.7L637.5 1012.8L638.0 1012.9L638.5 1013.0L639.0 1013.1L639.5 1013.2L640.0 1013.3L640.5 1013.5L641.0 1013.6L641.5 1013.8L642.0 1013.9L642.5 1014.1L643.0 1014.2L643.5 1013.6L644.0 1013.8L644.5 1014.0L645.0 1014.2L645.5 1014.4L646.0 1014.6L646.5 1014.9L647.0 1015.1L647.5 1015.3L648.0 1015.6L648.5 1015.9L649.0 1016.2L649.5 1016.5L650.0 1016.8L650.5 1017.1L651.0 1017.5L651.5 1017.9L652.0 1018.2L652.5 1018.7L653.0 1019.1L653.5 1019.6L654.0 1020.0L654.5 1020.6L655.0 1021.1L655.5 1021.7L656.0 1022.3L656.5 1022.9L657.0 1023.6L657.5 1024.4L658.0 1025.2L658.5 1026.0L659.0 1026.9L659.5 1027.9L660.0 1028.9L660.5 1030.1L661.0 1031.3L661.5 1032.6L662.0 1034.0L662.5 1035.5L663.0 1037.1L663.5 1038.9L664.0 1040.9L664.5 1043.0L665.0 1045.4L665.5 1048.0L666.0 1050.8L666.5 1054.0L667.0 1057.5L667.5 1061.4L668.0 1065.8L668.5 1070.7L669.0 1076.2L669.5 1082.4L670.0 1089.5L670.5 1097.6L671.0 1106.9L671.5 1117.7L672.0 1130.2L672.5 1144.9L673.0 1162.1L673.5 1182.6L674.0 1207.0L674.5 1236.3L675.0 1271.7L675.5 1314.7L676.0 1367.0L676.5 1430.5L677.0 1507.0L677.5 1597.1L678.0 1600.0L678.5 1600.0L679.0 1600.0L679.5 1600.0L680.0 1600.0L680.5 1600.0L681.0 1600.0L681.5 1600.0L682.0 1600.0L682.5 1597.1L683.0 1507.0L683.5 1430.5L684.0 1367.0L684.5 1314.7L685.0 1271.7L685.5 1236.3L686.0 1207.0L686.5 1182.6L687.0 1162.4L687.5 1145.1L688.0 1130.5L688.5 1118.0L689.0 1107.2L689.5 1097.9L690.0 1089.8L690.5 1082.7L691.0 1076.5L691.5 1071.0L692.0 1066.1L692.5 1061.7L693.0 1057.8L693.5 1054.3L694.0 1051.2L694.5 1048.3L695.0 1045.7L695.5 1043.4L696.0 1041.2L696.5 1039.3L697.0 1037.5L697.5 1035.8L698.0 1034.3L698.5 1032.9L699.0 1031.6L699.5 1030.4L700.0 1029.3L700.5 1028.3L701.0 1027.3L701.5 1026.4L702.0 1025.6L702.5 1024.8L703.0 1024.1L703.5 1023.4L704.0 1022.8L704.5 1022.2L705.0 1021.6L705.5 1021.0L706.0 1020.5L706.5 1020.1L707.0 1019.6L707.5 1019.2L708.0 1018.8L708.5 1018.4L709.0 1018.0L709.5 1017.7L710.0 1017.4L710.5 1017.1L711.0 1016.8L711.5 1016.5L712.0 1016.2L712.5 1016.0L713.0 1015.7L713.5 1015.5L714.0 1015.3L714.5 1015.1L715.0 1014.9L715.5 1014.7L716.0 1014.5L716.5 1014.3L717.0 1014.2L717.5 1014.0L718.0 1013.9L718.5 1013.7L719.0 1013.6L719.5 1013.4L720.0 1013.3L720.5 1013.2L721.0 1013.1L721.5 1013.0L722.0 1012.9L722.5 1012.8L723.0 1012.7L723.5 1012.6L724.0 1012.5L724.5 1012.4L725.0 1012.4L725.5 1012.3L726.0 1012.2L726.5 1012.2L727.0 1012.1L727.5 1012.1L728.0 1012.0L728.5 1012.0L729.0 1011.9L729.5 1011.9L730.0 1011.8L730.5 1011.8L731.0 1011.8L731.5 1011.8L732.0 1011.8L732.5 1011.7L733.0 1011.7L733.5 1011.7L734.0 1011.7L734.5 1011.7L735.0 1011.8L735.5 1011.8L736.0 1011.8L736.5 1011.8L737.0 1011.9L737.5 1011.9L738.0 1012.0L738.5 1012.0L739.0 1012.1L739.5 1012.2L740.0 1012.3L740.5 1012.4L741.0 1012.6L741.5 1012.7L742.0 1012.9L742.5 1013.1L743.0 1013.3L743.5 1013.6L744.0 1013.9L744.5 1014.2L745.0 1014.6L745.5 1015.1L746.0 1015.6L746.5 1016.3L747.0 1017.0L747.5 1017.9L748.0 1019.0L748.5 1020.3L749.0 1021.9L749.5 1023.9L750.0 1026.2L750.5 1029.0L751.0 1032.3L751.5 1036.1L752.0 1040.0L752.5 1043.7L753.0 1046.4L753.5 1047.5L754.0 1046.9L754.5 1044.4L755.0 1040.9L755.5 1037.1L756.0 1033.6L756.5 1030.5L757.0 1028.0L757.5 1025.9L758.0 1024.2L758.5 1022.9L759.0 1021.9L759.5 1021.1L760.0 1020.6L760.5 1020.2L761.0 1020.0L761.5 1020.0L762.0 1020.1L762.5 1020.3L763.0 1020.7L763.5 1021.3L764.0 1022.0L764.5 1023.0L765.0 1024.2L765.5 1025.7L766.0 1027.4L766.5 1029.5L767.0 1031.6L767.5 1033.8L768.0 1035.5L768.5 1036.5L769.0 1036.6L769.5 1036.1L770.0 1035.2L770.5 1034.3L771.0 1033.7L771.5 1033.3L772.0 1033.4L772.5 1034.0L773.0 1034.9L773.5 1036.4L774.0 1038.3L774.5 1040.8L775.0 1043.8L775.5 1046.7L776.0 1051.3L776.5 1057.1L777.0 1064.1L777.5 1072.7L778.0 1083.3L778.5 1096.1L779.0 1111.7L779.5 1130.1L780.0 1150.9L780.5 1172.9L781.0 1193.3L781.5 1208.2L782.0 1213.7L782.5 1208.1L783.0 1193.0L783.5 1172.5L784.0 1150.4L784.5 1129.4L785.0 1110.9L785.5 1095.2L786.0 1082.1L786.5 1071.4L787.0 1062.5L787.5 1055.3L788.0 1049.2L788.5 1044.2L789.0 1040.0L789.5 1036.5L790.0 1033.5L790.5 1030.9L791.0 1028.7L791.5 1026.8L792.0 1025.1L792.5 1023.6L793.0 1022.4L793.5 1021.2L794.0 1020.2L794.5 1019.3L795.0 1018.5L795.5 1017.8L796.0 1017.2L796.5 1016.6L797.0 1016.1L797.5 1015.6L798.0 1015.2L798.5 1014.8L799.0 1014.4L799.5 1014.1L800.0 1013.8L800.5 1013.5L801.0 1013.3L801.5 1013.0L802.0 1012.8L802.5 1012.6L803.0 1012.5L803.5 1012.3L804.0 1012.1L804.5 1012.0L805.0 1011.9L805.5 1011.8L806.0 1011.6L806.5 1011.5L807.0 1011.5L807.5 1011.4L808.0 1011.3L808.5 1011.2L809.0 1011.2L809.5 1011.1L810.0 1011.1L810.5 1011.0L811.0 1011.0L811.5 1011.0L812.0 1011.0L812.5 1010.9L813.0 1010.9L813.5 1010.9L814.0 1010.9L814.5 1010.9L815.0 1010.9L815.5 1010.9L816.0 1011.0L816.5 1011.0L817.0 1011.0L817.5 1011.0L818.0 1011.2L818.5 1011.3L819.0 1011.3L819.5 1011.4L820.0 1011.4L820.5 1011.5L821.0 1011.6L821.5 1011.7L822.0 1011.8L822.5 1011.9L823.0 1012.0L823.5 1012.1L824.0 1012.2L824.5 1012.4L825.0 1012.5L825.5 1012.7L826.0 1012.9L826.5 1013.1L827.0 1013.3L827.5 1013.5L828.0 1013.7L828.5 1014.0L829.0 1014.3L829.5 1014.6L830.0 1014.9L830.5 1015.3L831.0 1015.7L831.5 1016.1L832.0 1016.5L832.5 1017.1L833.0 1017.6L833.5 1018.2L834.0 1018.9L834.5 1019.6L835.0 1020.5L835.5 1021.4L836.0 1022.4L836.5 1023.5L837.0 1024.8L837.5 1026.2L838.0 1027.8L838.5 1029.6L839.0 1031.7L839.5 1034.1L840.0 1036.9L840.5 1040.1L841.0 1043.8L841.5 1048.2L842.0 1053.3L842.5 1059.4L843.0 1066.8L843.5 1075.6L844.0 1086.3L844.5 1099.3L845.0 1115.2L845.5 1134.4L846.0 1157.3L846.5 1184.0L847.0 1213.5L847.5 1243.4L848.0 1269.1L848.5 1284.9L849.0 1286.4L849.5 1273.1L850.0 1249.0L850.5 1219.5L851.0 1189.7L851.5 1162.3L852.0 1138.6L852.5 1118.7L853.0 1102.2L853.5 1088.6L854.0 1077.5L854.5 1068.3L855.0 1060.7L855.5 1054.4L856.0 1049.0L856.5 1044.5L857.0 1040.6L857.5 1037.4L858.0 1034.5L858.5 1032.0L859.0 1029.9L859.5 1028.0L860.0 1026.4L860.5 1024.9L861.0 1023.6L861.5 1022.4L862.0 1021.4L862.5 1020.4L863.0 1019.6L863.5 1018.8L864.0 1018.1L864.5 1017.5L865.0 1016.9L865.5 1016.4L866.0 1015.9L866.5 1015.5L867.0 1015.1L867.5 1014.7L868.0 1014.4L868.5 1014.0L869.0 1013.8L869.5 1013.5L870.0 1013.2L870.5 1013.0L871.0 1012.8L871.5 1012.6L872.0 1012.4L872.5 1012.2L873.0 1012.0L873.5 1011.9L874.0 1011.8L874.5 1011.6L875.0 1011.5L875.5 1011.4L876.0 1011.3L876.5 1011.2L877.0 1011.1L877.5 1010.8L878.0 1010.7L878.5 1010.6L879.0 1010.6L879.5 1010.5L880.0 1010.5L880.5 1010.4L881.0 1010.4L881.5 1010.3L882.0 1010.3L882.5 1010.3L883.0 1010.3L883.5 1010.2L884.0 1010.2L884.5 1010.2L885.0 1010.2L885.5 1010.2L886.0 1010.2L886.5 1010.2L887.0 1010.2L887.5 1010.3L888.0 1010.3L888.5 1010.3L889.0 1010.4L889.5 1010.4L890.0 1010.5L890.5 1010.5L891.0 1010.6L891.5 1010.7L892.0 1010.7L892.5 1010.8L893.0 1010.9L893.5 1011.0L894.0 1011.2L894.5 1011.3L895.0 1011.5L895.5 1011.6L896.0 1011.8L896.5 1012.0L897.0 1012.3L897.5 1012.5L898.0 1012.8L898.5 1013.1L899.0 1013.5L899.5 1013.9L900.0 1014.3L900.5 1014.8L901.0 1015.3L901.5 1016.0L902.0 1016.7L902.5 1017.5L903.0 1018.4L903.5 1019.5L904.0 1020.7L904.5 1022.2L905.0 1023.9L905.5 1025.9L906.0 1028.2L906.5 1031.0L907.0 1034.4L907.5 1038.5L908.0 1043.4L908.5 1049.4L909.0 1056.8L909.5 1065.6L910.0 1076.1L910.5 1088.1L911.0 1101.0L911.5 1113.3L912.0 1122.9L912.5 1127.4L913.0 1125.4L913.5 1117.6L914.0 1106.0L914.5 1093.1L915.0 1080.6L915.5 1069.5L916.0 1060.0L916.5 1052.1L917.0 1045.5L917.5 1040.2L918.0 1035.7L918.5 1032.1L919.0 1029.0L919.5 1026.5L920.0 1024.3L920.5 1022.5L921.0 1021.0L921.5 1019.6L922.0 1018.5L922.5 1017.5L923.0 1016.6L923.5 1015.8L924.0 1015.1L924.5 1014.5L925.0 1014.0L925.5 1013.5L926.0 1013.0L926.5 1012.7L927.0 1012.3L927.5 1012.0L928.0 1011.7L928.5 1011.4L929.0 1011.2L929.5 1011.0L930.0 1010.7L930.5 1010.6L931.0 1010.4L931.5 1010.2L932.0 1010.1L932.5 1009.9L933.0 1009.9L933.5 1009.8L934.0 1009.6L934.5 1009.5L935.0 1009.4L935.5 1009.4L936.0 1009.3L936.5 1009.2L937.0 1009.1L937.5 1009.0L938.0 1009.0L938.5 1008.9L939.0 1008.8L939.5 1008.8L940.0 1008.7L940.5 1008.7L941.0 1008.6L941.5 1008.6L942.0 1008.5L942.5 1008.5L943.0 1008.7L943.5 1008.6L944.0 1008.3L944.5 1008.3L945.0 1008.3L945.5 1008.2L946.0 1008.2L946.5 1008.2L947.0 1008.2L947.5 1008.2L948.0 1008.1L948.5 1008.1L949.0 1008.1L949.5 1008.1L950.0 1008.1L950.5 1008.0L951.0 1008.0L951.5 1008.0L952.0 1008.0L952.5 1008.0L953.0 1008.0L953.5 1008.0L954.0 1008.0L954.5 1008.0L955.0 1007.9L955.5 1007.9L956.0 1007.9L956.5 1007.9L957.0 1007.9L957.5 1007.9L958.0 1007.9L958.5 1007.9L959.0 1007.9L959.5 1007.9L960.0 1007.9L960.5 1007.9L961.0 1007.9L961.5 1007.9L962.0 1007.9L962.5 1007.9L963.0 1007.9L963.5 1007.9L964.0 1007.9L964.5 1007.9L965.0 1007.9L965.5 1007.9L966.0 1007.9L966.5 1007.9L967.0 1007.9L967.5 1007.9L968.0 1007.9L968.5 1007.9L969.0 1007.9L969.5 1007.9L970.0 1007.9L970.5 1007.9L971.0 1007.9L971.5 1007.9L972.0 1007.9L972.5 1007.9L973.0 1007.9L973.5 1007.9L974.0 1008.0L974.5 1008.0L975.0 1008.0L975.5 1008.0L976.0 1008.0L976.5 1008.0L977.0 1008.0L977.5 1008.0L978.0 1008.1L978.5 1008.1L979.0 1008.1L979.5 1008.1L980.0 1008.1L980.5 1008.1L981.0 1008.1L981.5 1008.1L982.0 1008.2L982.5 1008.2L983.0 1008.2L983.5 1008.2L984.0 1008.2L984.5 1008.3L985.0 1008.3L985.5 1008.3L986.0 1008.3L986.5 1008.3L987.0 1008.4L987.5 1008.4L988.0 1008.4L988.5 1008.4L989.0 1008.5L989.5 1008.5L990.0 1008.5L990.5 1008.6L991.0 1008.6L991.5 1008.6L992.0 1008.7L992.5 1008.7L993.0 1008.7L993.5 1008.8L994.0 1008.8L994.5 1008.9L995.0 1008.9L995.5 1009.0L996.0 1009.0L996.5 1009.1L997.0 1009.1L997.5 1009.2L998.0 1009.2L998.5 1009.3L999.0 1009.4L999.5 1009.4L1000.0 1009.5L1000.5 1009.6L1001.0 1009.6L1001.5 1009.7L1002.0 1009.8L1002.5 1009.9L1003.0 1010.0L1003.5 1010.1L1004.0 1010.2L1004.5 1010.3L1005.0 1010.4L1005.5 1010.5L1006.0 1010.7L1006.5 1010.8L1007.0 1011.0L1007.5 1011.1L1008.0 1011.2L1008.5 1011.3L1009.0 1011.5L1009.5 1011.7L1010.0 1011.9L1010.5 1012.2L1011.0 1012.4L1011.5 1012.7L1012.0 1013.0L1012.5 1013.3L1013.0 1013.6L1013.5 1014.0L1014.0 1014.4L1014.5 1014.8L1015.0 1015.3L1015.5 1015.8L1016.0 1016.3L1016.5 1017.0L1017.0 1017.7L1017.5 1018.4L1018.0 1019.3L1018.5 1020.3L1019.0 1021.4L1019.5 1022.6L1020.0 1024.1L1020.5 1025.7L1021.0 1027.6L1021.5 1029.8L1022.0 1032.5L1022.5 1035.5L1023.0 1039.2L1023.5 1043.6L1024.0 1048.9L1024.5 1055.2L1025.0 1062.8L1025.5 1071.6L1026.0 1081.6L1026.5 1092.3L1027.0 1102.4L1027.5 1110.3L1028.0 1114.4L1028.5 1113.9L1029.0 1109.7L1029.5 1103.5L1030.0 1097.1L1030.5 1091.6L1031.0 1087.8L1031.5 1086.1L1032.0 1086.4L1032.5 1088.9L1033.0 1093.8L1033.5 1101.2L1034.0 1111.4L1034.5 1124.8L1035.0 1141.5L1035.5 1161.5L1036.0 1184.1L1036.5 1207.1L1037.0 1226.9L1037.5 1238.8L1038.0 1239.3L1038.5 1228.1L1039.0 1208.0L1039.5 1183.8L1040.0 1159.2L1040.5 1136.8L1041.0 1117.3L1041.5 1100.9L1042.0 1087.3L1042.5 1076.2L1043.0 1067.0L1043.5 1059.3L1044.0 1053.0L1044.5 1047.7L1045.0 1043.3L1045.5 1039.5L1046.0 1036.2L1046.5 1033.5L1047.0 1031.1L1047.5 1029.0L1048.0 1027.2L1048.5 1025.6L1049.0 1024.1L1049.5 1022.9L1050.0 1021.8L1050.5 1020.8L1051.0 1019.9L1051.5 1019.1L1052.0 1018.4L1052.5 1017.7L1053.0 1017.1L1053.5 1016.6L1054.0 1016.1L1054.5 1015.6L1055.0 1015.2L1055.5 1014.9L1056.0 1014.5L1056.5 1014.2L1057.0 1014.0L1057.5 1013.7L1058.0 1013.5L1058.5 1013.3L1059.0 1013.1L1059.5 1013.0L1060.0 1012.8L1060.5 1012.7L1061.0 1012.6L1061.5 1012.6L1062.0 1012.5L1062.5 1012.5L1063.0 1012.5L1063.5 1012.6L1064.0 1012.7L1064.5 1012.8L1065.0 1013.0L1065.5 1013.2L1066.0 1013.6L1066.5 1014.0L1067.0 1014.5L1067.5 1015.2L1068.0 1016.0L1068.5 1017.0L1069.0 1018.3L1069.5 1019.7L1070.0 1021.4L1070.5 1023.0L1071.0 1024.4L1071.5 1025.3L1072.0 1025.3L1072.5 1024.5L1073.0 1023.1L1073.5 1021.4L1074.0 1019.7L1074.5 1018.1L1075.0 1016.7L1075.5 1015.6L1076.0 1014.6L1076.5 1013.8L1077.0 1013.2L1077.5 1012.7L1078.0 1012.3L1078.5 1011.9L1079.0 1011.6L1079.5 1011.4L1080.0 1011.3L1080.5 1011.1L1081.0 1011.0L1081.5 1011.0L1082.0 1011.0L1082.5 1011.0L1083.0 1011.1L1083.5 1011.2L1084.0 1011.3L1084.5 1011.6L1085.0 1011.8L1085.5 1012.2L1086.0 1012.7L1086.5 1013.2L1087.0 1014.4L1087.5 1015.3L1088.0 1016.4L1088.5 1017.7L1089.0 1019.2L1089.5 1020.8L1090.0 1022.2L1090.5 1023.3L1091.0 1023.6L1091.5 1023.2L1092.0 1022.1L1092.5 1020.6L1093.0 1018.9L1093.5 1017.4L1094.0 1016.0L1094.5 1014.8L1095.0 1013.9L1095.5 1013.1L1096.0 1012.4L1096.5 1011.8L1097.0 1011.4L1097.5 1011.0L1098.0 1010.7L1098.5 1010.4L1099.0 1010.2L1099.5 1010.0L1100.0 1009.8L1100.5 1009.7L1101.0 1009.5L1101.5 1009.4L1102.0 1009.3L1102.5 1009.2L1103.0 1009.1L1103.5 1009.1L1104.0 1009.0L1104.5 1009.0L1105.0 1008.9L1105.5 1008.9L1106.0 1008.8L1106.5 1008.8L1107.0 1008.7L1107.5 1008.7L1108.0 1008.7L1108.5 1008.7L1109.0 1008.6L1109.5 1008.6L1110.0 1008.6L1110.5 1008.6L1111.0 1008.6L1111.5 1008.5L1112.0 1008.5L1112.5 1008.5L1113.0 1008.5L1113.5 1008.5L1114.0 1008.5L1114.5 1008.5L1115.0 1008.5L1115.5 1008.5L1116.0 1008.5L1116.5 1008.5L1117.0 1008.5L1117.5 1008.5L1118.0 1008.5L1118.5 1008.5L1119.0 1008.5L1119.5 1008.5L1120.0 1008.5L1120.5 1008.5L1121.0 1008.5L1121.5 1008.5L1122.0 1008.5L1122.5 1008.5L1123.0 1008.5L1123.5 1008.4L1124.0 1008.5L1124.5 1008.5L1125.0 1008.5L1125.5 1008.5L1126.0 1008.5L1126.5 1008.5L1127.0 1008.5L1127.5 1008.6L1128.0 1008.6L1128.5 1008.6L1129.0 1008.6L1129.5 1008.6L1130.0 1008.6L1130.5 1008.7L1131.0 1008.7L1131.5 1008.7L1132.0 1008.7L1132.5 1008.8L1133.0 1008.6L1133.5 1008.6L1134.0 1008.6L1134.5 1008.7L1135.0 1008.7L1135.5 1008.7L1136.0 1008.9L1136.5 1008.9L1137.0 1008.9L1137.5 1009.0L1138.0 1009.0L1138.5 1009.1L1139.0 1009.1L1139.5 1009.2L1140.0 1009.2L1140.5 1009.3L1141.0 1009.3L1141.5 1009.4L1142.0 1009.4L1142.5 1009.5L1143.0 1009.6L1143.5 1009.6L1144.0 1009.7L1144.5 1009.8L1145.0 1009.8L1145.5 1009.9L1146.0 1010.0L1146.5 1010.1L1147.0 1010.1L1147.5 1010.2L1148.0 1010.3L1148.5 1010.4L1149.0 1010.5L1149.5 1010.6L1150.0 1010.7L1150.5 1010.9L1151.0 1011.0L1151.5 1011.1L1152.0 1011.2L1152.5 1011.4L1153.0 1011.5L1153.5 1011.7L1154.0 1011.8L1154.5 1012.0L1155.0 1012.2L1155.5 1012.4L1156.0 1012.6L1156.5 1012.8L1157.0 1013.0L1157.5 1013.3L1158.0 1013.5L1158.5 1013.8L1159.0 1014.1L1159.5 1014.4L1160.0 1014.7L1160.5 1015.1L1161.0 1015.5L1161.5 1015.9L1162.0 1016.3L1162.5 1016.8L1163.0 1017.3L1163.5 1017.8L1164.0 1018.4L1164.5 1019.0L1165.0 1019.7L1165.5 1020.5L1166.0 1021.3L1166.5 1022.2L1167.0 1023.2L1167.5 1024.2L1168.0 1025.4L1168.5 1026.7L1169.0 1028.2L1169.5 1029.8L1170.0 1031.7L1170.5 1033.7L1171.0 1036.0L1171.5 1038.6L1172.0 1041.6L1172.5 1044.9L1173.0 1048.8L1173.5 1053.3L1174.0 1058.5L1174.5 1064.6L1175.0 1071.8L1175.5 1080.3L1176.0 1090.4L1176.5 1102.6L1177.0 1117.4L1177.5 1135.3L1178.0 1157.0L1178.5 1183.5L1179.0 1215.3L1179.5 1252.8L1180.0 1295.3L1180.5 1340.1L1181.0 1381.7L1181.5 1412.1L1182.0 1423.3L1182.5 1412.1L1183.0 1381.7L1183.5 1340.1L1184.0 1295.4L1184.5 1252.9L1185.0 1215.4L1185.5 1183.6L1186.0 1157.2L1186.5 1135.4L1187.0 1117.5L1187.5 1102.8L1188.0 1090.6L1188.5 1080.5L1189.0 1072.0L1189.5 1064.9L1190.0 1058.8L1190.5 1053.6L1191.0 1049.1L1191.5 1045.3L1192.0 1041.9L1192.5 1039.0L1193.0 1036.4L1193.5 1034.1L1194.0 1032.1L1194.5 1030.3L1195.0 1028.7L1195.5 1027.3L1196.0 1026.0L1196.5 1024.8L1197.0 1023.8L1197.5 1022.8L1198.0 1021.9L1198.5 1021.2L1199.0 1020.4L1199.5 1019.8L1200.0 1019.2L1200.5 1018.6L1201.0 1018.1L1201.5 1017.7L1202.0 1017.2L1202.5 1016.8L1203.0 1016.5L1203.5 1016.2L1204.0 1015.8L1204.5 1015.6L1205.0 1015.3L1205.5 1015.1L1206.0 1014.9L1206.5 1014.7L1207.0 1014.5L1207.5 1014.4L1208.0 1014.2L1208.5 1014.1L1209.0 1014.0L1209.5 1013.9L1210.0 1013.8L1210.5 1013.8L1211.0 1013.7L1211.5 1013.7L1212.0 1013.7L1212.5 1013.7L1213.0 1013.7L1213.5 1013.8L1214.0 1013.9L1214.5 1013.9L1215.0 1014.0L1215.5 1014.2L1216.0 1014.3L1216.5 1014.5L1217.0 1014.8L1217.5 1015.0L1218.0 1015.3L1218.5 1015.7L1219.0 1016.1L1219.5 1016.5L1220.0 1017.1L1220.5 1017.7L1221.0 1018.4L1221.5 1019.2L1222.0 1020.2L1222.5 1021.3L1223.0 1022.6L1223.5 1024.1L1224.0 1026.0L1224.5 1028.2L1225.0 1030.8L1225.5 1033.9L1226.0 1037.7L1226.5 1042.4L1227.0 1048.0L1227.5 1054.9L1228.0 1063.2L1228.5 1073.0L1229.0 1084.1L1229.5 1095.8L1230.0 1106.7L1230.5 1114.6L1231.0 1117.5L1231.5 1114.5L1232.0 1106.6L1232.5 1095.6L1233.0 1083.9L1233.5 1072.7L1234.0 1062.9L1234.5 1054.5L1235.0 1047.5L1235.5 1041.8L1236.0 1037.1L1236.5 1033.2L1237.0 1030.0L1237.5 1027.3L1238.0 1025.1L1238.5 1023.2L1239.0 1021.6L1239.5 1020.2L1240.0 1019.0L1240.5 1018.0L1241.0 1017.1L1241.5 1016.3L1242.0 1015.6L1242.5 1015.0L1243.0 1014.4L1243.5 1013.9L1244.0 1013.5L1244.5 1013.1L1245.0 1012.7L1245.5 1012.4L1246.0 1012.1L1246.5 1011.9L1247.0 1011.6L1247.5 1011.4L1248.0 1011.2L1248.5 1011.0L1249.0 1010.8L1249.5 1010.7L1250.0 1010.5L1250.5 1010.4L1251.0 1010.3L1251.5 1010.1L1252.0 1010.0L1252.5 1009.9L1253.0 1009.8L1253.5 1009.7L1254.0 1009.7L1254.5 1009.6L1255.0 1009.5L1255.5 1009.4L1256.0 1009.4L1256.5 1009.3L1257.0 1009.3L1257.5 1009.2L1258.0 1009.2L1258.5 1009.1L1259.0 1009.1L1259.5 1009.1L1260.0 1009.0L1260.5 1009.0L1261.0 1009.0L1261.5 1009.0L1262.0 1008.9L1262.5 1008.9L1263.0 1008.9L1263.5 1008.9L1264.0 1008.9L1264.5 1008.9L1265.0 1008.9L1265.5 1008.9L1266.0 1009.0L1266.5 1009.0L1267.0 1009.0L1267.5 1009.1L1268.0 1009.1L1268.5 1009.2L1269.0 1009.2L1269.5 1009.3L1270.0 1009.4L1270.5 1009.6L1271.0 1009.7L1271.5 1009.9L1272.0 1010.1L1272.5 1010.3L1273.0 1010.7L1273.5 1011.0L1274.0 1011.5L1274.5 1012.0L1275.0 1012.7L1275.5 1013.5L1276.0 1014.4L1276.5 1015.6L1277.0 1017.0L1277.5 1018.1L1278.0 1019.7L1278.5 1021.2L1279.0 1022.1L1279.5 1022.4L1280.0 1021.8L1280.5 1020.6L1281.0 1019.1L1281.5 1017.4L1282.0 1015.9L1282.5 1014.6L1283.0 1013.5L1283.5 1012.6L1284.0 1011.8L1284.5 1011.2L1285.0 1010.7L1285.5 1010.3L1286.0 1009.9L1286.5 1009.6L1287.0 1009.4L1287.5 1009.2L1288.0 1009.0L1288.5 1008.8L1289.0 1008.7L1289.5 1008.6L1290.0 1008.5L1290.5 1008.4L1291.0 1008.3L1291.5 1008.2L1292.0 1008.2L1292.5 1008.1L1293.0 1008.1L1293.5 1008.1L1294.0 1008.0L1294.5 1008.0L1295.0 1008.0L1295.5 1008.0L1296.0 1008.0L1296.5 1008.0L1297.0 1008.0L1297.5 1008.0L1298.0 1008.1L1298.5 1008.1L1299.0 1008.2L1299.5 1008.3L1300.0 1008.4L1300.5 1008.5L1301.0 1008.7L1301.5 1008.8L1302.0 1009.1L1302.5 1009.4L1303.0 1009.7L1303.5 1010.1L1304.0 1010.5L1304.5 1010.9L1305.0 1011.2L1305.5 1011.3L1306.0 1011.2L1306.5 1010.9L1307.0 1010.5L1307.5 1010.1L1308.0 1009.6L1308.5 1009.3L1309.0 1009.0L1309.5 1008.7L1310.0 1008.5L1310.5 1008.3L1311.0 1008.2L1311.5 1008.0L1312.0 1007.9L1312.5 1007.8L1313.0 1007.8L1313.5 1007.7L1314.0 1007.7L1314.5 1007.6L1315.0 1007.6L1315.5 1007.5L1316.0 1007.5L1316.5 1007.5L1317.0 1007.4L1317.5 1007.4L1318.0 1007.4L1318.5 1007.4L1319.0 1007.4L1319.5 1007.4L1320.0 1007.3L1320.5 1007.3L1321.0 1007.3L1321.5 1007.3L1322.0 1007.3L1322.5 1007.3L1323.0 1007.3L1323.5 1007.3L1324.0 1007.3L1324.5 1007.3L1325.0 1007.3L1325.5 1007.3L1326.0 1007.3L1326.5 1007.1L1327.0 1007.1L1327.5 1007.1L1328.0 1007.1L1328.5 1007.1L1329.0 1007.1L1329.5 1007.1L1330.0 1007.1L1330.5 1007.1L1331.0 1007.1L1331.5 1007.1L1332.0 1007.1L1332.5 1007.1L1333.0 1007.1L1333.5 1007.1L1334.0 1007.1L1334.5 1007.1L1335.0 1007.1L1335.5 1007.2L1336.0 1007.2L1336.5 1007.2L1337.0 1007.2L1337.5 1007.2L1338.0 1007.2L1338.5 1007.2L1339.0 1007.2L1339.5 1007.2L1340.0 1007.2L1340.5 1007.2L1341.0 1007.2L1341.5 1007.2L1342.0 1007.2L1342.5 1007.2L1343.0 1007.2L1343.5 1007.2L1344.0 1007.3L1344.5 1007.3L1345.0 1007.3L1345.5 1007.3L1346.0 1007.3L1346.5 1007.3L1347.0 1007.3L1347.5 1007.4L1348.0 1007.4L1348.5 1007.4L1349.0 1007.4L1349.5 1007.4L1350.0 1007.5L1350.5 1007.5L1351.0 1007.5L1351.5 1007.6L1352.0 1007.6L1352.5 1007.6L1353.0 1007.7L1353.5 1007.7L1354.0 1007.8L1354.5 1007.8L1355.0 1007.9L1355.5 1008.0L1356.0 1008.1L1356.5 1008.2L1357.0 1008.3L1357.5 1008.4L1358.0 1008.5L1358.5 1008.7L1359.0 1008.9L1359.5 1009.1L1360.0 1009.3L1360.5 1009.6L1361.0 1009.9L1361.5 1010.3L1362.0 1010.7L1362.5 1011.3L1363.0 1012.0L1363.5 1012.8L1364.0 1013.8L1364.5 1015.0L1365.0 1016.4L1365.5 1018.2L1366.0 1020.1L1366.5 1022.1L1367.0 1024.0L1367.5 1025.4L1368.0 1026.0L1368.5 1025.4L1369.0 1024.1L1369.5 1022.2L1370.0 1020.1L1370.5 1018.2L1371.0 1016.5L1371.5 1015.0L1372.0 1013.8L1372.5 1012.8L1373.0 1012.0L1373.5 1011.3L1374.0 1010.8L1374.5 1010.3L1375.0 1009.9L1375.5 1009.6L1376.0 1009.3L1376.5 1009.1L1377.0 1008.8L1377.5 1008.7L1378.0 1008.5L1378.5 1008.4L1379.0 1008.3L1379.5 1008.2L1380.0 1008.1L1380.5 1008.0L1381.0 1007.9L1381.5 1007.9L1382.0 1007.8L1382.5 1007.7L1383.0 1007.7L1383.5 1007.6L1384.0 1007.6L1384.5 1007.6L1385.0 1007.5L1385.5 1007.5L1386.0 1007.5L1386.5 1007.5L1387.0 1007.4L1387.5 1007.4L1388.0 1007.4L1388.5 1007.4L1389.0 1007.4L1389.5 1007.3L1390.0 1007.3L1390.5 1007.3L1391.0 1007.3L1391.5 1007.3L1392.0 1007.3L1392.5 1007.3L1393.0 1007.3L1393.5 1007.3L1394.0 1007.3L1394.5 1007.3L1395.0 1007.3L1395.5 1007.2L1396.0 1007.2L1396.5 1007.2L1397.0 1007.2L1397.5 1007.2L1398.0 1007.2L1398.5 1007.2L1399.0 1007.2L1399.5 1007.2L1400.0 1007.2L1400.5 1007.3L1401.0 1007.3L1401.5 1007.3L1402.0 1007.3L1402.5 1007.3L1403.0 1007.3L1403.5 1007.3L1404.0 1007.3L1404.5 1007.3L1405.0 1007.3L1405.5 1007.4L1406.0 1007.4L1406.5 1007.4L1407.0 1007.4L1407.5 1007.5L1408.0 1007.5L1408.5 1007.5L1409.0 1007.6L1409.5 1007.6L1410.0 1007.7L1410.5 1007.8L1411.0 1007.9L1411.5 1008.0L1412.0 1008.1L1412.5 1008.2L1413.0 1008.4L1413.5 1008.6L1414.0 1008.8L1414.5 1009.1L1415.0 1009.5L1415.5 1009.9L1416.0 1010.5L1416.5 1011.1L1417.0 1011.8L1417.5 1012.5L1418.0 1013.1L1418.5 1013.4L1419.0 1013.5L1419.5 1013.2L1420.0 1012.6L1420.5 1011.9L1421.0 1011.2L1421.5 1010.6L1422.0 1010.0L1422.5 1009.6L1423.0 1009.2L1423.5 1008.9L1424.0 1008.6L1424.5 1008.4L1425.0 1008.3L1425.5 1008.1L1426.0 1008.0L1426.5 1007.9L1427.0 1007.8L1427.5 1007.7L1428.0 1007.6L1428.5 1007.6L1429.0 1007.5L1429.5 1007.5L1430.0 1007.5L1430.5 1007.4L1431.0 1007.4L1431.5 1007.4L1432.0 1007.4L1432.5 1007.3L1433.0 1007.3L1433.5 1007.3L1434.0 1007.3L1434.5 1007.3L1435.0 1007.3L1435.5 1007.3L1436.0 1007.2L1436.5 1007.2L1437.0 1007.2L1437.5 1007.2L1438.0 1007.2L1438.5 1007.2L1439.0 1007.2L1439.5 1007.2L1440.0 1007.2L1440.5 1007.2L1441.0 1007.2L1441.5 1007.2L1442.0 1007.2L1442.5 1007.2L1443.0 1007.2L1443.5 1007.2L1444.0 1007.2L1444.5 1007.3L1445.0 1007.3L1445.5 1007.3L1446.0 1007.3L1446.5 1007.3L1447.0 1007.3L1447.5 1007.3L1448.0 1007.3L1448.5 1007.4L1449.0 1007.4L1449.5 1007.4L1450.0 1007.4L1450.5 1007.5L1451.0 1007.5L1451.5 1007.6L1452.0 1007.6L1452.5 1007.7L1453.0 1007.7L1453.5 1007.8L1454.0 1007.9L1454.5 1008.0L1455.0 1008.2L1455.5 1008.3L1456.0 1008.5L1456.5 1008.7L1457.0 1008.9L1457.5 1009.2L1458.0 1009.6L1458.5 1010.0L1459.0 1010.6L1459.5 1011.2L1460.0 1011.9L1460.5 1012.7L1461.0 1013.5L1461.5 1014.1L1462.0 1014.5L1462.5 1014.4L1463.0 1014.0L1463.5 1013.3L1464.0 1012.5L1464.5 1011.7L1465.0 1011.0L1465.5 1010.4L1466.0 1009.9L1466.5 1009.5L1467.0 1009.2L1467.5 1008.9L1468.0 1008.7L1468.5 1008.5L1469.0 1008.3L1469.5 1008.2L1470.0 1008.1L1470.5 1008.0L1471.0 1007.9L1471.5 1007.8L1472.0 1007.7L1472.5 1007.7L1473.0 1007.6L1473.5 1007.6L1474.0 1007.6L1474.5 1007.5L1475.0 1007.5L1475.5 1007.5L1476.0 1007.5L1476.5 1007.5L1477.0 1007.4L1477.5 1007.4L1478.0 1007.4L1478.5 1007.4L1479.0 1007.4L1479.5 1007.4L1480.0 1007.4L1480.5 1007.4L1481.0 1007.4L1481.5 1007.4L1482.0 1007.4L1482.5 1007.4L1483.0 1007.4L1483.5 1007.4L1484.0 1007.3L1484.5 1007.3L1485.0 1007.4L1485.5 1007.4L1486.0 1007.4L1486.5 1007.4L1487.0 1007.4L1487.5 1007.4L1488.0 1007.4L1488.5 1007.4L1489.0 1007.4L1489.5 1007.4L1490.0 1007.4L1490.5 1007.4L1491.0 1007.4L1491.5 1007.4L1492.0 1007.4L1492.5 1007.4L1493.0 1007.5L1493.5 1007.5L1494.0 1007.5L1494.5 1007.5L1495.0 1007.5L1495.5 1007.5L1496.0 1007.6L1496.5 1007.6L1497.0 1007.6L1497.5 1007.6L1498.0 1007.6L1498.5 1007.7L1499.0 1007.7L1499.5 1007.7L1500.0 1007.7L1500.5 1007.8L1501.0 1007.8L1501.5 1007.8L1502.0 1007.8L1502.5 1007.9L1503.0 1007.9L1503.5 1008.0L1504.0 1008.0L1504.5 1008.1L1505.0 1008.1L1505.5 1008.2L1506.0 1008.2L1506.5 1008.3L1507.0 1008.4L1507.5 1008.5L1508.0 1008.6L1508.5 1008.7L1509.0 1008.8L1509.5 1009.0L1510.0 1009.2L1510.5 1009.3L1511.0 1009.5L1511.5 1009.8L1512.0 1010.1L1512.5 1010.4L1513.0 1010.8L1513.5 1011.3L1514.0 1011.8L1514.5 1012.5L1515.0 1013.3L1515.5 1014.3L1516.0 1015.5L1516.5 1017.0L1517.0 1018.7L1517.5 1020.6L1518.0 1022.5L1518.5 1024.3L1519.0 1025.5L1519.5 1025.8L1520.0 1025.2L1520.5 1023.8L1521.0 1021.9L1521.5 1020.0L1522.0 1018.3L1522.5 1016.7L1523.0 1015.4L1523.5 1014.4L1524.0 1013.5L1524.5 1012.8L1525.0 1012.2L1525.5 1011.8L1526.0 1011.4L1526.5 1011.1L1527.0 1010.9L1527.5 1010.7L1528.0 1010.5L1528.5 1010.4L1529.0 1010.3L1529.5 1010.3L1530.0 1010.2L1530.5 1010.2L1531.0 1010.2L1531.5 1010.3L1532.0 1010.3L1532.5 1010.4L1533.0 1010.5L1533.5 1010.6L1534.0 1010.7L1534.5 1010.8L1535.0 1011.0L1535.5 1011.2L1536.0 1011.4L1536.5 1011.6L1537.0 1011.9L1537.5 1012.2L1538.0 1012.6L1538.5 1013.0L1539.0 1013.4L1539.5 1013.9L1540.0 1014.5L1540.5 1015.2L1541.0 1016.0L1541.5 1016.9L1542.0 1018.0L1542.5 1019.3L1543.0 1020.8L1543.5 1022.6L1544.0 1024.7L1544.5 1027.3L1545.0 1030.5L1545.5 1034.3L1546.0 1038.9L1546.5 1044.6L1547.0 1051.3L1547.5 1059.1L1548.0 1067.7L1548.5 1076.5L1549.0 1084.0L1549.5 1088.6L1550.0 1089.1L1550.5 1085.2L1551.0 1078.2L1551.5 1069.5L1552.0 1060.8L1552.5 1052.8L1553.0 1045.9L1553.5 1040.0L1554.0 1035.2L1554.5 1031.3L1555.0 1028.0L1555.5 1025.3L1556.0 1023.1L1556.5 1021.3L1557.0 1019.7L1557.5 1018.4L1558.0 1017.3L1558.5 1016.3L1559.0 1015.5L1559.5 1014.8L1560.0 1014.2L1560.5 1013.7L1561.0 1013.2L1561.5 1012.8L1562.0 1012.4L1562.5 1012.1L1563.0 1011.8L1563.5 1011.6L1564.0 1011.4L1564.5 1011.2L1565.0 1011.0L1565.5 1010.9L1566.0 1010.7L1566.5 1010.6L1567.0 1010.5L1567.5 1010.4L1568.0 1010.4L1568.5 1010.3L1569.0 1010.3L1569.5 1010.2L1570.0 1010.2L1570.5 1010.2L1571.0 1010.2L1571.5 1010.2L1572.0 1010.3L1572.5 1010.3L1573.0 1010.4L1573.5 1010.4L1574.0 1010.5L1574.5 1010.6L1575.0 1010.8L1575.5 1010.9L1576.0 1011.1L1576.5 1011.3L1577.0 1011.5L1577.5 1011.8L1578.0 1012.1L1578.5 1012.5L1579.0 1012.9L1579.5 1013.4L1580.0 1013.9L1580.5 1014.6L1581.0 1015.4L1581.5 1016.4L1582.0 1017.5L1582.5 1018.9L1583.0 1020.5L1583.5 1022.6L1584.0 1025.0L1584.5 1028.0L1585.0 1031.6L1585.5 1035.9L1586.0 1040.7L1586.5 1045.7L1587.0 1050.5L1587.5 1053.9L1588.0 1055.2L1588.5 1054.0L1589.0 1050.6L1589.5 1045.9L1590.0 1040.9L1590.5 1036.1L1591.0 1032.0L1591.5 1028.4L1592.0 1025.5L1592.5 1023.2L1593.0 1021.2L1593.5 1019.7L1594.0 1018.4L1594.5 1017.5L1595.0 1016.7L1595.5 1016.1L1596.0 1015.6L1596.5 1015.3L1597.0 1015.2L1597.5 1015.1L1598.0 1015.3L1598.5 1015.5L1599.0 1016.0L1599.5 1016.6L1600.0 1017.4L1600.5 1018.5L1601.0 1019.9L1601.5 1021.5L1602.0 1023.1L1602.5 1024.7L1603.0 1025.8L1603.5 1026.2L1604.0 1025.6L1604.5 1024.3L1605.0 1022.5L1605.5 1020.6L1606.0 1018.8L1606.5 1017.2L1607.0 1015.9L1607.5 1014.7L1608.0 1013.8L1608.5 1013.0L1609.0 1012.4L1609.5 1011.9L1610.0 1011.4L1610.5 1011.0L1611.0 1010.7L1611.5 1010.5L1612.0 1010.2L1612.5 1010.0L1613.0 1009.9L1613.5 1009.7L1614.0 1009.6L1614.5 1009.5L1615.0 1009.4L1615.5 1009.3L1616.0 1009.2L1616.5 1009.1L1617.0 1009.1L1617.5 1009.0L1618.0 1009.0L1618.5 1009.0L1619.0 1009.0L1619.5 1008.9L1620.0 1008.9L1620.5 1008.9L1621.0 1008.9L1621.5 1008.9L1622.0 1008.9L1622.5 1009.0L1623.0 1009.0L1623.5 1009.0L1624.0 1009.1L1624.5 1009.1L1625.0 1009.2L1625.5 1009.2L1626.0 1009.3L1626.5 1009.4L1627.0 1009.5L1627.5 1009.6L1628.0 1009.7L1628.5 1009.9L1629.0 1010.0L1629.5 1010.2L1630.0 1010.4L1630.5 1010.6L1631.0 1010.9L1631.5 1011.2L1632.0 1011.6L1632.5 1012.0L1633.0 1012.4L1633.5 1013.0L1634.0 1013.7L1634.5 1014.4L1635.0 1015.4L1635.5 1016.5L1636.0 1017.8L1636.5 1019.4L1637.0 1021.4L1637.5 1023.8L1638.0 1026.7L1638.5 1030.1L1639.0 1033.9L1639.5 1038.0L1640.0 1041.8L1640.5 1044.6L1641.0 1045.7L1641.5 1044.8L1642.0 1042.2L1642.5 1038.7L1643.0 1034.9L1643.5 1031.3L1644.0 1028.3L1644.5 1025.7L1645.0 1023.7L1645.5 1022.2L1646.0 1021.1L1646.5 1020.4L1647.0 1020.1L1647.5 1020.1L1648.0 1020.5L1648.5 1021.3L1649.0 1022.3L1649.5 1023.7L1650.0 1025.3L1650.5 1026.7L1651.0 1027.7L1651.5 1027.9L1652.0 1027.2L1652.5 1025.7L1653.0 1023.7L1653.5 1021.6L1654.0 1019.6L1654.5 1017.9L1655.0 1016.4L1655.5 1015.1L1656.0 1014.1L1656.5 1013.2L1657.0 1012.6L1657.5 1012.0L1658.0 1011.5L1658.5 1011.0L1659.0 1010.7L1659.5 1010.4L1660.0 1010.1L1660.5 1009.9L1661.0 1009.6L1661.5 1009.5L1662.0 1009.3L1662.5 1009.2L1663.0 1009.0L1663.5 1008.9L1664.0 1008.8L1664.5 1008.7L1665.0 1008.6L1665.5 1008.6L1666.0 1008.5L1666.5 1008.4L1667.0 1008.4L1667.5 1008.3L1668.0 1008.3L1668.5 1008.2L1669.0 1008.2L1669.5 1008.1L1670.0 1008.1L1670.5 1008.1L1671.0 1008.1L1671.5 1008.0L1672.0 1008.0L1672.5 1008.0L1673.0 1008.0L1673.5 1007.9L1674.0 1007.9L1674.5 1007.9L1675.0 1007.9L1675.5 1007.9L1676.0 1007.9L1676.5 1007.9L1677.0 1007.9L1677.5 1007.9L1678.0 1007.9L1678.5 1007.9L1679.0 1007.9L1679.5 1007.9L1680.0 1007.9L1680.5 1007.9L1681.0 1007.9L1681.5 1007.9L1682.0 1007.9L1682.5 1007.9L1683.0 1007.9L1683.5 1007.9L1684.0 1007.9L1684.5 1008.0L1685.0 1008.0L1685.5 1008.0L1686.0 1008.1L1686.5 1008.1L1687.0 1008.1L1687.5 1008.2L1688.0 1008.3L1688.5 1008.3L1689.0 1008.4L1689.5 1008.5L1690.0 1008.6L1690.5 1008.7L1691.0 1008.9L1691.5 1009.0L1692.0 1009.2L1692.5 1009.4L1693.0 1009.7L1693.5 1010.0L1694.0 1010.3L1694.5 1010.8L1695.0 1011.3L1695.5 1011.9L1696.0 1012.7L1696.5 1013.6L1697.0 1014.7L1697.5 1016.1L1698.0 1017.6L1698.5 1019.2L1699.0 1020.6L1699.5 1021.7L1700.0 1022.1L1700.5 1021.7L1701.0 1020.7L1701.5 1019.2L1702.0 1017.6L1702.5 1016.1L1703.0 1014.8L1703.5 1013.7L1704.0 1012.8L1704.5 1012.0L1705.0 1011.4L1705.5 1010.9L1706.0 1010.5L1706.5 1010.1L1707.0 1009.8L1707.5 1009.6L1708.0 1009.4L1708.5 1009.2L1709.0 1009.1L1709.5 1009.0L1710.0 1008.9L1710.5 1008.8L1711.0 1008.7L1711.5 1008.7L1712.0 1008.6L1712.5 1008.6L1713.0 1008.6L1713.5 1008.5L1714.0 1008.5L1714.5 1008.5L1715.0 1008.5L1715.5 1008.6L1716.0 1008.6L1716.5 1008.6L1717.0 1008.7L1717.5 1008.7L1718.0 1008.8L1718.5 1008.8L1719.0 1008.9L1719.5 1009.0L1720.0 1009.1L1720.5 1009.2L1721.0 1009.4L1721.5 1009.5L1722.0 1009.7L1722.5 1009.9L1723.0 1010.2L1723.5 1010.5L1724.0 1010.9L1724.5 1011.3L1725.0 1011.9L1725.5 1012.5L1726.0 1013.3L1726.5 1014.2L1727.0 1015.4L1727.5 1016.7L1728.0 1018.3L1728.5 1020.1L1729.0 1022.0L1729.5 1023.7L1730.0 1024.8L1730.5 1025.1L1731.0 1024.5L1731.5 1023.2L1732.0 1021.5L1732.5 1019.8L1733.0 1018.1L1733.5 1016.7L1734.0 1015.5L1734.5 1014.6L1735.0 1013.8L1735.5 1013.2L1736.0 1012.7L1736.5 1012.3L1737.0 1012.0L1737.5 1011.8L1738.0 1011.7L1738.5 1011.6L1739.0 1011.6L1739.5 1011.7L1740.0 1011.7L1740.5 1011.9L1741.0 1012.1L1741.5 1012.3L1742.0 1012.6L1742.5 1012.9L1743.0 1013.4L1743.5 1013.9L1744.0 1014.5L1744.5 1015.3L1745.0 1016.2L1745.5 1017.3L1746.0 1018.5L1746.5 1020.1L1747.0 1022.0L1747.5 1024.3L1748.0 1027.2L1748.5 1030.6L1749.0 1034.8L1749.5 1039.7L1750.0 1045.3L1750.5 1051.2L1751.0 1056.6L1751.5 1060.6L1752.0 1062.1L1752.5 1060.6L1753.0 1056.6L1753.5 1051.1L1754.0 1045.2L1754.5 1039.5L1755.0 1034.6L1755.5 1030.4L1756.0 1026.9L1756.5 1024.0L1757.0 1021.7L1757.5 1019.7L1758.0 1018.1L1758.5 1016.8L1759.0 1015.6L1759.5 1014.7L1760.0 1013.9L1760.5 1013.2L1761.0 1012.6L1761.5 1012.1L1762.0 1011.6L1762.5 1011.2L1763.0 1010.9L1763.5 1010.6L1764.0 1010.3L1764.5 1010.0L1765.0 1009.8L1765.5 1009.6L1766.0 1009.5L1766.5 1009.3L1767.0 1009.2L1767.5 1009.0L1768.0 1008.9"/>
</g>
<g stroke="#000" stroke-width="5.6" fill="none">
<path d="M14.2 1447.0H1772.4"/>
<path d="M147.2 1447.0V1475"/><path d="M471.6 1447.0V1475"/><path d="M796.1 1447.0V1475"/><path d="M1120.5 1447.0V1475"/><path d="M1445.0 1447.0V1475"/><path d="M1769.5 1447.0V1475"/><path d="M309.4 1447.0V1461"/><path d="M633.9 1447.0V1461"/><path d="M958.3 1447.0V1461"/><path d="M1282.8 1447.0V1461"/><path d="M1607.2 1447.0V1461"/>
</g>
<text class="a" x="146.2" y="1539.6" font-size="61" text-anchor="middle">5</text>
<text class="a" x="470.6" y="1539.6" font-size="61" text-anchor="middle">10</text>
<text class="a" x="795.1" y="1539.6" font-size="61" text-anchor="middle">15</text>
<text class="a" x="1119.5" y="1539.6" font-size="61" text-anchor="middle">20</text>
<text class="a" x="1444.0" y="1539.6" font-size="61" text-anchor="middle">25</text>
<text class="a" x="1768.5" y="1539.6" font-size="61" text-anchor="middle">30</text>
<text class="s" x="771" y="1619.8" font-size="60">2<tspan dx="1.5" font-style="italic" font-weight="normal">θ</tspan><tspan dx="1.5">, degree</tspan></text>
<text class="s" x="1756.0" y="420.5" font-size="52.6" text-anchor="end">regenerated</text>
<text class="s" x="1757.0" y="660.5" font-size="52.6" text-anchor="end">activated</text>
<text class="s" x="1728.5" y="900.5" font-size="52.6" text-anchor="end">as-synthesized</text>
<text class="s" x="1758.0" y="1195.0" font-size="52.6" text-anchor="end" word-spacing="4">1-Ni theoretical</text>
<text class="s" font-size="48" text-anchor="middle" transform="translate(135.0 1312.0) rotate(-90)" x="0" y="16.2">001</text>
<text class="s" font-size="48" text-anchor="middle" transform="translate(375.0 1312.0) rotate(-90)" x="0" y="16.2">110</text>
<text class="s" font-size="48" text-anchor="middle" transform="translate(496.0 1155.5) rotate(-90)" x="0" y="16.2">111</text>
<text class="s" font-size="48" text-anchor="middle" transform="translate(510.5 1311.0) rotate(-90)" x="0" y="16.2">002</text>
<text class="s" font-size="48" text-anchor="middle" transform="translate(642.6 1311.0) rotate(-90)" x="0" y="16.2">020</text>
<text class="s" font-size="48" text-anchor="middle" transform="translate(748.6 1097.0) rotate(-90)" x="0" y="16.2">021</text>
<text class="s" font-size="48" text-anchor="middle" transform="translate(780.5 1263.0) rotate(-90)" x="0" y="16.2">120</text>
<text class="s" font-size="48" text-anchor="middle" transform="translate(850.0 1335.5) rotate(-90)" x="0" y="16.2">121</text>
<text class="s" font-size="48" text-anchor="middle" transform="translate(917.0 1181.6) rotate(-90)" x="0" y="16.2">003</text>
<text class="s" font-size="48" text-anchor="middle" transform="translate(993.4 1083.0) rotate(-90)" x="0" y="16.2">122</text>
<text class="s" font-size="48" text-anchor="middle" transform="translate(1039.8 1293.4) rotate(-90)" x="0" y="16.2">220</text>
<text class="s" font-size="48" text-anchor="middle" transform="translate(1150.0 1309.4) rotate(-90)" x="0" y="16.2">130</text>
<text class="s" font-size="48" text-anchor="middle" transform="translate(1231.5 1165.7) rotate(-90)" x="0" y="16.2">131</text>
<text class="s" font-size="48" text-anchor="middle" transform="translate(1370.9 1074.0) rotate(-90)" x="0" y="16.2">132</text>
</svg>
</body></html>
